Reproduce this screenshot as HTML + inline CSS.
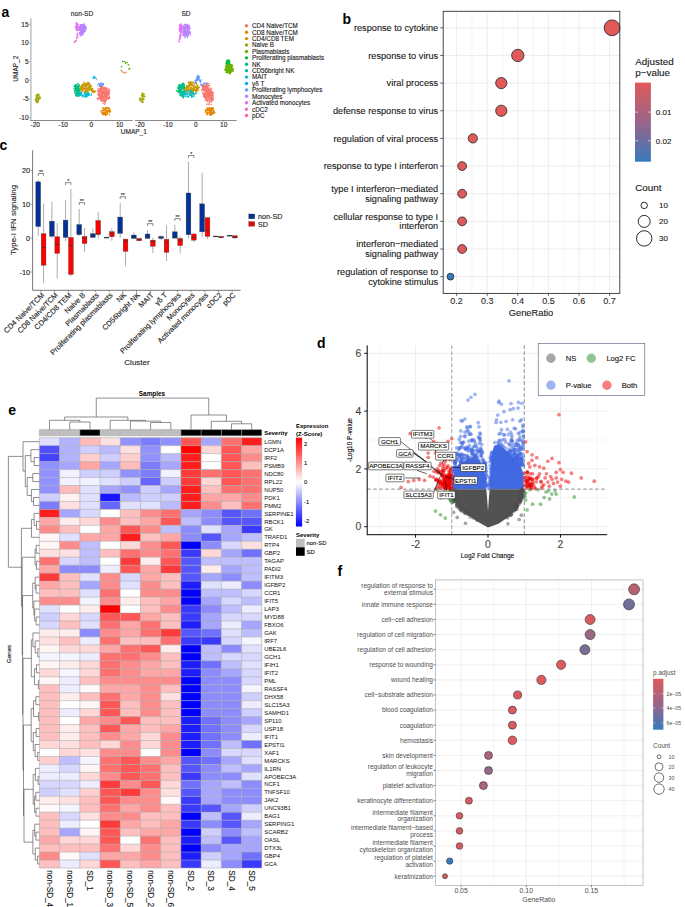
<!DOCTYPE html>
<html><head><meta charset="utf-8"><title>Figure</title>
<style>html,body{margin:0;padding:0;background:#fff;}svg{display:block;}text{stroke:#1a1a1a;stroke-width:0.12px;}text[font-weight=bold],text.ns{stroke:none;}</style></head>
<body><svg width="685" height="907" viewBox="0 0 685 907" font-family='"Liberation Sans", sans-serif'>
<rect width="685" height="907" fill="#fff"/>
<text x="1.5" y="17.2" font-size="14" font-weight="bold">a</text>
<line x1="30.9" y1="18.3" x2="30.9" y2="120.3" stroke="#C4C4C4" stroke-width="1.6"/>
<line x1="30.1" y1="120.5" x2="132.7" y2="120.5" stroke="#8A8A8A" stroke-width="1"/>
<line x1="134.9" y1="120.5" x2="236.7" y2="120.5" stroke="#8A8A8A" stroke-width="1"/>
<line x1="29.2" y1="24.2" x2="30.2" y2="24.2" stroke="#555" stroke-width="0.6"/>
<text x="28.6" y="26.5" font-size="6.5" text-anchor="end" fill="#222">15</text>
<line x1="29.2" y1="42.9" x2="30.2" y2="42.9" stroke="#555" stroke-width="0.6"/>
<text x="28.6" y="45.2" font-size="6.5" text-anchor="end" fill="#222">10</text>
<line x1="29.2" y1="61.6" x2="30.2" y2="61.6" stroke="#555" stroke-width="0.6"/>
<text x="28.6" y="63.9" font-size="6.5" text-anchor="end" fill="#222">5</text>
<line x1="29.2" y1="80.3" x2="30.2" y2="80.3" stroke="#555" stroke-width="0.6"/>
<text x="28.6" y="82.6" font-size="6.5" text-anchor="end" fill="#222">0</text>
<line x1="29.2" y1="99" x2="30.2" y2="99" stroke="#555" stroke-width="0.6"/>
<text x="28.6" y="101.3" font-size="6.5" text-anchor="end" fill="#222">-5</text>
<line x1="29.2" y1="117.7" x2="30.2" y2="117.7" stroke="#555" stroke-width="0.6"/>
<text x="28.6" y="120" font-size="6.5" text-anchor="end" fill="#222">-10</text>
<line x1="35.2" y1="120.6" x2="35.2" y2="121.6" stroke="#555" stroke-width="0.6"/>
<text x="35.2" y="127" font-size="6.5" text-anchor="middle" fill="#222">-20</text>
<line x1="63.3" y1="120.6" x2="63.3" y2="121.6" stroke="#555" stroke-width="0.6"/>
<text x="63.3" y="127" font-size="6.5" text-anchor="middle" fill="#222">-10</text>
<line x1="91.4" y1="120.6" x2="91.4" y2="121.6" stroke="#555" stroke-width="0.6"/>
<text x="91.4" y="127" font-size="6.5" text-anchor="middle" fill="#222">0</text>
<line x1="119.5" y1="120.6" x2="119.5" y2="121.6" stroke="#555" stroke-width="0.6"/>
<text x="119.5" y="127" font-size="6.5" text-anchor="middle" fill="#222">10</text>
<line x1="140" y1="120.6" x2="140" y2="121.6" stroke="#555" stroke-width="0.6"/>
<text x="140" y="127" font-size="6.5" text-anchor="middle" fill="#222">-20</text>
<line x1="167.9" y1="120.6" x2="167.9" y2="121.6" stroke="#555" stroke-width="0.6"/>
<text x="167.9" y="127" font-size="6.5" text-anchor="middle" fill="#222">-10</text>
<line x1="195.8" y1="120.6" x2="195.8" y2="121.6" stroke="#555" stroke-width="0.6"/>
<text x="195.8" y="127" font-size="6.5" text-anchor="middle" fill="#222">0</text>
<line x1="223.7" y1="120.6" x2="223.7" y2="121.6" stroke="#555" stroke-width="0.6"/>
<text x="223.7" y="127" font-size="6.5" text-anchor="middle" fill="#222">10</text>
<text x="133.8" y="134.3" font-size="6.5" text-anchor="middle" fill="#222">UMAP_1</text>
<text transform="translate(17.6,68.7) rotate(-90)" font-size="6.5" text-anchor="middle" fill="#222">UMAP_2</text>
<text x="82" y="15.8" font-size="6.6" text-anchor="middle" fill="#222">non-SD</text>
<text x="186" y="15.8" font-size="6.6" text-anchor="middle" fill="#222">SD</text>
<path d="M84.74 29.68h0M80.49 31.18h0M81.79 28.91h0M83.44 29.11h0M83.03 31.34h0M85.29 27.46h0M84.64 29.2h0M81.56 33.13h0M83.23 26.89h0M81.09 27.54h0M85.11 29.68h0M82.88 29.62h0M80.16 26.85h0M81.78 31.38h0M79.66 26.82h0M84.38 26.49h0M84.8 30.78h0M82.75 24.82h0M81.9 27.09h0M79.61 26.83h0M79.86 26.41h0M79.34 29.54h0M80.58 24.69h0M82.33 27.54h0M81.79 32.63h0M81.46 26.19h0M82.99 28.9h0M82.71 27.44h0M83.55 27.38h0M81.45 28.93h0M84.75 25.7h0M81.13 29.48h0M84.23 31.06h0M82.74 29.93h0M82.48 30.24h0M82.38 28.64h0M81.99 26.73h0M80.83 26.67h0M83.33 24.18h0M83.74 24.33h0M81.09 26.58h0M83.49 28.96h0M84.34 29.17h0M82.64 28.56h0M83.44 27.54h0M84.41 31.26h0M83.88 29.91h0M86.42 28.31h0M84.57 30.17h0M82.39 31.02h0M85.94 27.3h0M84.31 31.04h0M85.78 28.01h0M81.4 24.64h0M82.85 26.43h0M83.13 25.25h0M84.85 28.26h0M84.07 23.97h0M79.2 28.07h0M84.64 28.92h0M82.38 27.84h0M78.76 29.99h0M79.45 32.56h0M82.85 30.45h0M84.03 27.33h0M78.59 29.09h0M80.94 25.51h0M83.3 24.68h0M83.34 25.16h0M83.3 26.12h0M85.8 27.24h0M84.27 31.95h0M83.14 26.85h0M83.41 26.73h0M79.23 27.3h0M83.84 28.63h0M85.73 26.93h0M84.13 26.7h0M81.66 32.35h0M80.86 27.31h0M84.14 27.39h0M80.35 29.19h0M85.38 26.71h0M80.15 27.94h0M83.87 31.71h0M82.67 28.24h0M81.4 28h0M80.38 28.21h0M79.94 27.3h0M82.3 30.5h0M82.78 25.31h0M79.22 29.92h0M81.7 25.8h0M80.11 27.9h0M84.8 26.06h0M82.39 32.39h0M84.85 31.47h0M81.46 28.99h0M82.1 27.48h0M85.41 26.1h0M83.5 29.77h0M85.49 27.82h0M80.62 28.68h0M84.41 24.92h0M81.9 29.77h0M81.86 30.33h0M79.14 30.04h0M82.34 29.01h0M85.46 28.2h0M85.91 27.83h0M82.82 27.14h0M84 30.18h0M82.44 31.82h0M83.73 27.79h0M85.24 29.63h0M79.93 30.03h0M82.98 27.23h0M83.24 27.59h0M82.03 29.52h0M84.88 27.22h0M82.76 30.94h0M83.33 29.84h0M82.3 29.44h0M81.7 32.49h0M85.4 28.86h0M84.68 28.73h0M79.62 29.04h0M85.41 31.01h0M84.12 25.57h0M80.08 28.38h0M84.33 25.06h0M80.53 25.81h0M84.22 30.45h0M82.54 27.32h0M83.67 26.63h0M80.83 24.83h0M80.64 29.08h0M81.04 29.13h0M80.15 27.66h0M84.29 28.08h0M81.05 30.11h0M79.97 28.45h0M82.45 30.4h0M81.68 29.26h0M82.69 29.46h0M79.7 27.89h0M84.74 26.2h0M81.68 30.5h0M79.99 24.78h0M83.07 27.61h0M83.78 25.26h0M81.39 28.29h0M83.98 25.49h0M84.45 26.83h0M85.59 29.17h0M81.78 29.61h0M81.68 27.42h0M81.5 25.82h0M82.56 24.85h0M79.96 27.83h0M82.55 32.62h0M82.49 29.76h0M85.98 27.91h0M80.25 30.92h0M80.81 26.67h0M84.79 29.81h0M82.11 30.05h0M86.02 28.8h0M82.27 27.53h0M81.67 32.53h0M84.34 30.32h0M83.76 32.47h0M78.89 29.61h0" stroke="#B983FF" stroke-width="1.5" stroke-linecap="round" fill="none"/>
<path d="M83.26 33.05h0M82.75 32.94h0M80.63 32.89h0M81.86 33.99h0M79.77 33.38h0M82.97 32.12h0M82.76 33.75h0M81.47 33.62h0M81.08 34.28h0M81.51 32.09h0M82.83 35.06h0M81.05 35.69h0M80.79 34.21h0M79.87 34.49h0M82.44 33.87h0M82.12 33.17h0M81.41 34.64h0M82.93 32.99h0M82.29 31.09h0M79.62 32.75h0M82.88 34.05h0M80.65 32.14h0M82.58 33.93h0M80.33 35.69h0" stroke="#B983FF" stroke-width="1.5" stroke-linecap="round" fill="none"/>
<path d="M76.93 24.11h0M76.51 30.21h0M75.89 28.66h0M77.57 25.55h0M77.23 29.46h0M78.1 29.81h0M77.59 27.44h0M76.95 29.01h0M77.96 24.44h0M75.78 26.03h0M76.45 28.72h0M77.27 27.17h0M75.98 23.8h0M77.01 30.29h0M75.96 27.42h0M78.77 27.11h0M76.94 25.94h0M78.28 26.5h0M77.92 25.36h0M77.02 30.85h0M77.22 27.31h0M76.82 23.99h0M77.09 24.13h0M77.21 23.94h0M77.67 25.58h0M76.99 29.65h0M76.57 23.3h0M76.47 25.75h0M77.17 29.11h0M75.68 27.34h0M76.03 23.39h0M77.03 29.93h0M76.55 22.69h0M76.54 24.25h0M76.95 29.14h0M78.38 27.25h0M76.22 27.57h0M76.9 22.98h0M77.38 29.78h0M77.17 30.08h0M77.06 24.24h0M77.38 28.77h0M76.37 27.4h0" stroke="#E76BF3" stroke-width="1.5" stroke-linecap="round" fill="none"/>
<path d="M77.82 36.91h0M77.5 33.37h0M77.24 34.28h0M76.21 40.82h0M76.78 37.5h0M77.33 36.68h0M74.49 42.28h0M77.22 35.13h0M77.71 35.01h0M75.03 41.37h0M76.65 37.78h0M76.58 38.75h0" stroke="#E76BF3" stroke-width="1.5" stroke-linecap="round" fill="none"/>
<path d="M74.8 42h0M75.2 41.3h0" stroke="#FF67A4" stroke-width="1.5" stroke-linecap="round" fill="none"/>
<path d="M121.27 70.43h0M127.13 62.73h0M125.39 63.16h0M128.93 69.06h0M129.77 68.6h0M129.37 69.13h0M128.76 65.06h0M124.86 72.95h0M125.88 62.23h0M128.15 64.72h0" stroke="#6BB100" stroke-width="1.5" stroke-linecap="round" fill="none"/>
<path d="M122.6 61.5h0M124.2 61.5h0M121.5 66.5h0" stroke="#00BA38" stroke-width="1.5" stroke-linecap="round" fill="none"/>
<path d="M122.5 71.8h0M126.2 72.2h0M123.3 72.5h0" stroke="#F8766D" stroke-width="1.5" stroke-linecap="round" fill="none"/>
<path d="M94.35 78.02h0M93.88 76.42h0M93.22 78.48h0M93.45 77.93h0M94.03 76.36h0M94.85 77.75h0M94.3 77.48h0M95.63 77.42h0" stroke="#00B0F6" stroke-width="1.5" stroke-linecap="round" fill="none"/>
<path d="M96.5 79.2h0" stroke="#F8766D" stroke-width="1.5" stroke-linecap="round" fill="none"/>
<path d="M75.58 89.73h0M74.68 91.54h0M76.69 87.31h0M79.02 84.71h0M76.47 95.65h0M75.35 93.76h0M77.38 95.44h0M78.32 87.86h0M79.6 89.48h0M77.59 94.79h0M79.12 92.47h0M77.95 86.87h0M76.48 95.61h0M77.7 91.75h0M75.63 93.21h0M74.86 91.34h0M78.65 91.85h0M76.01 87.25h0M77.71 92.48h0M75.93 87.69h0M76.09 94.37h0M78.36 94.7h0M75.49 88.55h0M78.08 90.87h0M78.72 91.55h0M76.89 87.35h0M79.22 88.52h0M75.5 88.08h0M78.82 89.63h0M78 93.85h0M79.53 86.47h0M78.2 85.83h0M78.47 93.58h0M76.96 89.47h0M75.38 85.93h0M75.41 89.59h0M78.36 88.61h0M76.1 89.85h0M79.47 94.19h0M80.32 88.75h0M75.17 93.38h0M74.89 85.08h0M77.86 96.17h0M78.66 85.7h0M74.86 93.31h0M75.45 93.06h0M78.2 88.32h0M76.58 89.1h0M79.81 94.36h0M74.82 88.06h0M75.2 87.26h0M76.04 85.72h0M75.77 86.82h0M77.51 94.27h0M78.53 94.96h0M78.8 92.12h0M76.28 90.49h0M79.56 90.9h0M77.82 83.73h0M79.66 91.4h0M78.47 92.45h0M80.87 89.52h0M80.11 89.04h0M79.31 88.56h0M80.37 86.79h0M76.73 91.28h0M76.8 96.06h0M79.48 95.3h0M77.1 94.62h0M76.38 93.73h0M77.88 89.2h0M79.52 86.21h0M75.99 89.18h0M75.77 93.47h0M79.18 86.22h0M78.28 89.61h0M77.1 93.97h0M74.11 86.28h0M78.16 93.24h0M79.59 91.16h0M80.17 89.11h0M75.82 84.71h0M78.39 92.72h0M75.01 91.81h0M77.64 94.54h0M79.76 90.4h0M77.2 89.95h0M75.93 88.09h0M74.76 90.52h0M78.56 88.63h0M76.25 87.17h0M77.93 83.5h0M76.06 86.45h0M75.86 93.71h0M77.1 85.88h0M78.74 87.67h0M77.35 90.9h0M77.44 88.19h0M77.46 90.11h0M76.29 88.04h0M78.2 93.25h0M76.84 92.55h0M77.12 88.08h0M77.42 89.33h0M75.17 91.03h0M78.55 91.68h0M77.3 86.24h0M78.84 85.11h0M74.85 91.81h0M74.06 88.73h0M77.57 92.34h0M79.56 90.14h0M78.86 88.55h0M75.76 95.65h0M79.7 86.49h0M76.34 84.49h0M78.88 84.62h0M78.94 85.54h0M76.57 93.62h0M76.41 87.94h0M78.23 90.02h0M78.21 88.82h0M79.15 90.71h0M75.48 85.58h0" stroke="#00BF7D" stroke-width="1.5" stroke-linecap="round" fill="none"/>
<path d="M81.93 85.04h0M87.38 84.61h0M89.66 83.7h0M91.06 85.75h0M87.88 87.89h0M88.14 82.55h0M84.84 92.09h0M87.27 88.35h0M81.39 89.77h0M85.96 88.38h0M84.71 90.07h0M80.95 87.39h0M81.53 90.08h0M86.54 83.98h0M86.68 90.53h0M89.88 89.87h0M87.56 92.27h0M91.04 86.83h0M86.1 87.2h0M83.49 87.58h0M89.35 86.33h0M86.62 90.13h0M83.01 84.22h0M86.39 85.98h0M82.9 91.26h0M83.58 89.29h0M92.57 88.49h0M85.75 90.31h0M89.63 84.43h0M83.28 88.15h0M83.42 84.29h0M84.73 89.8h0M85.87 85.12h0M84.11 88.22h0M81.32 88.58h0M86.4 92.51h0M87.33 85.62h0M87.5 89.61h0M87.43 89.66h0M87.4 90.8h0M91.53 86.24h0M84.7 88.6h0M80.43 89.79h0M84.65 85.99h0M87.91 87.89h0M87.04 83.76h0M82.1 88.37h0M84.26 86.24h0M82.71 88.97h0M85.98 84.42h0M88.82 84.99h0M84.13 82.02h0M81.25 88.84h0M84.1 85.62h0M85.66 86.13h0M86 92.31h0M83.33 89.12h0M90.52 85.49h0M84.32 88.84h0M89.32 86.99h0M86.21 86.52h0M80.52 86.87h0M85.67 86.02h0M83.52 84.68h0M90.39 86.09h0M84.95 85.23h0M89.63 87.16h0M89.04 88.57h0M83.39 88.89h0M84.78 84.08h0M85.82 84.27h0M79.99 86.52h0M86.67 90.1h0M86.31 85.77h0M81.61 85.79h0M88.42 86.97h0M87.19 84.94h0M85.09 90.5h0M82.95 91.24h0M85.32 93.35h0M87.39 90.59h0M85.94 87.18h0M82.94 87.87h0M83.28 84.49h0M88.36 84.6h0M86.79 86.1h0M88.74 82.87h0M90.3 87.88h0M86 88.19h0M87.09 88.8h0M87.64 89.72h0M87.27 83h0M86.52 85.01h0M89.34 85.01h0M84.11 82.74h0M85.8 83.77h0M85.61 91.54h0M87.61 89.33h0M88.82 90.93h0M81.74 87.55h0M88.32 84.07h0M82.37 86.07h0M81.61 89.83h0M90.56 89.72h0M82.49 84.76h0M90.26 85.65h0M82.21 87.85h0M91.28 88.58h0M88.93 84.21h0M82.8 87.99h0M82.1 89.1h0M82.74 86.41h0M81.92 90.17h0M85.32 92.21h0M87.26 83.07h0M84.67 90.31h0M86.58 84.99h0M85.82 86.51h0M84.36 92.24h0M86.17 87.9h0M87.17 83.08h0M82.24 84.49h0M82.74 85.36h0M86.97 91.33h0M89.06 89.65h0M88.53 88.07h0M82.01 91.59h0M87.09 83.08h0M82.19 89.44h0M82.73 88.94h0M81.61 85.62h0M86.83 88.23h0M82.25 88.74h0M85.54 87.87h0M80.22 88.35h0M88.6 89.34h0" stroke="#C99800" stroke-width="1.5" stroke-linecap="round" fill="none"/>
<path d="M91.35 90.42h0M89.06 88.22h0M91.88 90.87h0M94.37 92.22h0M94.76 92.25h0M95.23 91.59h0M93.25 90.47h0M94.42 91.08h0M91.97 91.46h0M92.96 92.47h0M93.73 92.28h0M91.57 89.77h0M93 89.96h0M94.18 90.94h0M93 89.91h0M95.2 91.18h0M93.34 91.59h0M91.88 89.69h0M94.84 91.25h0M92.47 91.72h0" stroke="#C99800" stroke-width="1.5" stroke-linecap="round" fill="none"/>
<path d="M80.91 95.22h0M81.63 93.4h0M78.39 93.16h0M77.37 93.5h0M78.33 94.57h0M79.13 91.39h0M77.57 94.99h0M81.45 92.52h0M77.43 92.96h0M78.37 94.96h0M79.47 94.05h0M78.43 95.74h0M81.03 94.5h0M78.9 95.85h0M80.53 92.21h0M80.77 92.83h0M77.66 93.93h0M79.24 94.1h0" stroke="#00C0AF" stroke-width="1.5" stroke-linecap="round" fill="none"/>
<path d="M86.31 95.04h0M87.6 93.81h0M89.12 93.98h0M87.91 95.55h0M87.78 95.9h0M82.93 96.64h0M91.03 95.35h0M84.51 93.25h0M88.52 93.23h0M88.74 94.03h0M86.06 97.17h0M87.11 94.41h0M82.38 96.27h0M84.88 93.3h0M88.34 95.3h0M89.31 95.1h0M85.14 92.33h0M79.74 95.07h0M86.08 95.58h0M81.21 93.58h0M83.04 95.95h0M83.22 95.82h0M87.94 94.15h0M79.71 95.33h0M88.31 92.6h0M84.39 94.34h0M88.92 94.39h0M82.18 96.11h0M85.02 95.24h0M87.9 95.76h0M86.85 96.09h0M89 93.49h0M85.58 96.65h0M84.58 94.6h0M88.02 95.73h0M81.95 94.98h0M85.94 93.98h0M80.39 93.89h0M91.48 94.3h0M85.19 96.74h0M83.03 95.45h0M86.79 93.78h0M79.57 95.81h0M80.82 94.66h0M84.56 96.6h0M87.93 95.08h0M87.53 93.43h0M86.05 96.8h0M87.03 94.23h0" stroke="#00BCD8" stroke-width="1.5" stroke-linecap="round" fill="none"/>
<path d="M100.78 83.23h0M99.5 84.19h0M100 86.12h0M100.77 84.81h0M97.81 84.77h0M102.42 84.54h0M99.59 85.45h0M100.63 87.35h0M103.48 84.82h0M100.99 84.66h0M102.17 84.5h0M100.72 87.6h0M103.37 83.8h0M103.26 83.6h0M101.87 85.72h0M101.55 83.12h0M100.65 85.89h0M100.24 85.63h0M102.91 84.53h0M100.56 85.39h0M98.75 83.48h0M99.22 86.33h0M101.11 85.75h0M100.71 83.94h0" stroke="#619CFF" stroke-width="1.5" stroke-linecap="round" fill="none"/>
<path d="M104.94 96h0M104.17 100.68h0M98.58 95.64h0M100.76 90.53h0M99.2 90.6h0M109.37 96.68h0M100.15 97.07h0M98.44 91.6h0M101.35 99.48h0M105.54 97.65h0M100.43 98.99h0M107.84 98.64h0M102.21 97.09h0M101.06 95.76h0M107.01 94.13h0M108.84 93.07h0M104.31 92.95h0M99.52 89.25h0M108.38 95.6h0M103.57 96.64h0M104.35 95.2h0M107.01 93.04h0M108.42 89.81h0M102.12 94.82h0M106.23 91.15h0M102.92 87.57h0M102.22 100.28h0M100.33 97.45h0M100.57 98.05h0M105.74 87.98h0M102.78 95.51h0M101.91 95.59h0M106.24 99.86h0M102.68 101.21h0M104.74 101.83h0M102.06 92.91h0M101.35 90.37h0M103.78 88.44h0M107.43 93.87h0M100.61 88.13h0M104.05 96.78h0M107.25 97.41h0M109.61 90.14h0M99.31 88.71h0M98.21 98.07h0M104.69 95.63h0M107.62 93.97h0M101.57 92.05h0M104.54 92.33h0M100.37 99.11h0M99.28 90.75h0M109.37 93.73h0M102.21 98.7h0M100.01 98.25h0M104.54 91.3h0M103.59 99.26h0M106.77 93.47h0M103.15 101.56h0M101.61 100.99h0M99.48 96.2h0M102.47 86.31h0M101.64 89.89h0M107.6 94.54h0M101.75 94.19h0M108.45 91.21h0M101.32 96.01h0M108.29 89.8h0M107.09 97.16h0M101.37 96.97h0M102.48 92.52h0M101.41 97.88h0M100.63 90.53h0M105.18 89.26h0M106.28 95.6h0M106.77 97.47h0M101.94 89.54h0M103.95 94.21h0M100.28 97.07h0M105.17 94.41h0M102.34 93.62h0M108.82 89.08h0M99.66 90.79h0M100.9 93.84h0M107.79 92.37h0M99.11 95.29h0M101.69 89.38h0M105.83 97.99h0M101.32 91.53h0M109.01 91.86h0M105.04 94.45h0M100.73 96.71h0M103.81 101.08h0M105 97.26h0M106.61 89.85h0M99.71 96.75h0M106.96 96.17h0M101.59 89.85h0M102.39 89.14h0M104.07 93.31h0M105.33 94.31h0M98.3 98.98h0M101.72 97.64h0M109.27 92.41h0M99.94 97.83h0M101.22 98.16h0M104.78 89.5h0M105.54 96.99h0M101.34 93.29h0M104.51 89.5h0M101.03 96.17h0M98.84 91.09h0M105.36 91.24h0M108.22 91.95h0M108.92 93.77h0M99.94 97.12h0M101.19 88.63h0M104.68 92.09h0M102.34 87.79h0M105.68 94.46h0M103.96 100.11h0M105.08 92.53h0M103.5 91.85h0M102.93 91.29h0M102 95.47h0M105.91 89.63h0M105.83 90.73h0M105.75 99.98h0M106.56 91.27h0M103.17 93.25h0M107.33 90.97h0M102.9 96.5h0M102.07 90.88h0M100.5 91.32h0M103.1 89.21h0M100.46 90.38h0M97.86 94.29h0M107.26 91.82h0M106.3 97.22h0M100.75 89.4h0M101.22 86.63h0M101.12 88.16h0M102.78 95.3h0M97.29 98.49h0M104.54 101.71h0M100.78 98.68h0M97.98 94.07h0M106.23 88.65h0M104.5 98.94h0M106.27 89.13h0M108.22 92.37h0M98.13 91.68h0M103.65 97.7h0M107.03 93.16h0M101.79 91.92h0M102.47 91.5h0M106.92 94.36h0M106.93 98.99h0M102.12 88.45h0M103.66 99.66h0M108.41 91.82h0M106.52 99.81h0M105.17 101.91h0M108 94.64h0M101.61 100.43h0M102.6 96.72h0M97.5 90.84h0M99.93 92.59h0M102.52 94.3h0M100.59 100.3h0M108.45 92.47h0M104.47 88.12h0M102.64 98.26h0M102.79 88.05h0M103.32 88.02h0M102.65 94.91h0M101.55 93.83h0M100.42 86.17h0M101.96 92.61h0M101.34 90.84h0M106.67 91.99h0M103.27 101.6h0M104.93 93.18h0M97.63 99.13h0M103.23 92.46h0M97.85 89.08h0M106.74 99.04h0M99.1 97.96h0M104.71 102.17h0M106.7 95.02h0M106.63 99.19h0M104.77 94.81h0M108.79 94.57h0M106.03 100.67h0M105.15 88.15h0M98.72 91.61h0M100.11 96.15h0M100.33 90.4h0M105.24 95.47h0M102.36 86.82h0M100.52 96.11h0M101.58 90.86h0M101.72 91.9h0M104.27 100.33h0M98.83 91.16h0M107.45 92.35h0M103.14 98.79h0M106.67 93.4h0M104.86 91.28h0M105.15 99.38h0M98.61 95.78h0M102.03 89.36h0M106.98 88.28h0M104.86 88.74h0M104.43 92.17h0M99.19 88.93h0M101.34 88.26h0M107.83 93.09h0M101.6 96.45h0M99.34 97.61h0M104.93 93.66h0M106.6 97.91h0M105.78 93.99h0M105.43 96.39h0M106.07 89.14h0M102.87 86.79h0M102.74 94.13h0M100.36 98.89h0M100.61 98.57h0M100.86 91.85h0M102.65 95.4h0M108.27 95h0M98.47 94.66h0M103.3 96.42h0M101.98 91.05h0M99.07 90.91h0M102.96 98.74h0M107.47 94.98h0M108.63 95.49h0M108.52 97.38h0M105.82 89.7h0M101.53 88.1h0M99.11 93.64h0M98.64 93.15h0M104.33 98.79h0M102.5 86.55h0M102.38 97.11h0M99.63 94.68h0M101.11 91.91h0M102.52 86.76h0M105.67 94.05h0M99.99 92.12h0M107.97 90.89h0M108.96 98.85h0M105.33 95.9h0M104.98 87.23h0M106.17 95.85h0M100.3 100.06h0M106.15 90.74h0M100.94 99.35h0M104.33 88.69h0M106.1 91.6h0M105.05 101.22h0M100.63 87.9h0M106.38 92.47h0M106.71 99.35h0M100.56 88.79h0M109.71 98.05h0M102.37 97.77h0M100.05 95.04h0M108.41 90.92h0M101.43 99.38h0M103.56 90.64h0M103.77 99.65h0M104.17 93.44h0M99.98 94.15h0M104.75 95.94h0M104.67 94.98h0M108.05 94.38h0M101.56 91.38h0" stroke="#F8766D" stroke-width="1.5" stroke-linecap="round" fill="none"/>
<path d="M103 103.5h0M104.5 104.2h0M105 103h0" stroke="#F8766D" stroke-width="1.5" stroke-linecap="round" fill="none"/>
<path d="M105.56 111.86h0M110.04 112.08h0M107 113.57h0M106.83 108.17h0M106.92 111.32h0M108.09 110.56h0M103.17 107.83h0M103.59 112.62h0M109.7 111.83h0M103.89 111.07h0M103.66 114.37h0M108.49 108.59h0M106.06 113.29h0M107.15 108.41h0M103.69 108.63h0M104.87 108.3h0M105.34 114.21h0M103.45 110.56h0M106.73 112.61h0M103.79 112.75h0M109.5 114.73h0M106.67 114.18h0M105.49 107.74h0M109.22 108.03h0M103.27 114.61h0M102.77 112.49h0M109.4 108.99h0M106.63 114.6h0M110.47 111.82h0M109.36 109.4h0M103.31 113.7h0M102.55 114.41h0M109.49 111.85h0M105.99 114.85h0M105.35 113.72h0M101.11 111.44h0M110.02 109.66h0M109.08 110.49h0M107.44 111.44h0M105.81 115.51h0M106.26 113.17h0M105.97 110.64h0M106.42 107.58h0M103.17 112.47h0M106.47 109.67h0M107.19 110.61h0M104.87 112.57h0M101.49 112.31h0M104.57 109.46h0M104.22 113.87h0M103.04 108.75h0M106.15 111.77h0M105.41 108.72h0M106.51 110.88h0M107.18 111.16h0M109.69 111.46h0M104.09 110.93h0M101.58 110.65h0M110.04 110.66h0M109.84 110.73h0M108.28 111.62h0M108.27 110.9h0M108.09 110.73h0M104.67 113.45h0M105.4 112.08h0M108.76 111.28h0M102.09 110.51h0M107.62 113.78h0M109.45 108.86h0M106.01 114.25h0M105.33 107.91h0M107.82 107.73h0M109.9 112.22h0M102.36 113.55h0M104.23 108.81h0M103.44 110.23h0M104.24 113.62h0M103.64 113.3h0M103.13 114.6h0M106.66 111.28h0M107.64 112.23h0M104.13 108.79h0M108.16 107.97h0M103.62 114.28h0M107.64 112.15h0M103.74 113.61h0M104.81 109.62h0M104.78 109.87h0M104.46 109.63h0M104.07 114.73h0M103.32 112.87h0M103.39 113.65h0M104.99 113.62h0" stroke="#E58700" stroke-width="1.5" stroke-linecap="round" fill="none"/>
<path d="M36.84 101.69h0M37.38 96.27h0M37.97 102.29h0M35.95 98.2h0M36.99 95.24h0M36.41 96.71h0M37.77 98.43h0M39.65 96.82h0M37.1 101.09h0M38.64 100.01h0M38.69 98.02h0M38.08 95.52h0M38.71 99.08h0M36.61 94.95h0M37.39 100.73h0M40.34 98.08h0M36.17 95.42h0M38.23 99.05h0M35.78 100.49h0M38.97 94.86h0M37.25 97.58h0M40.01 98.6h0M38.45 99.18h0M39.43 98.85h0M37.68 100.97h0M36.19 101.56h0M36.3 98.75h0M38.53 98.61h0M39.14 96.01h0M37.72 100.05h0M39.21 96.2h0M38.34 101.32h0M38.75 99.27h0M39.67 98.24h0M36.86 97.54h0M37.52 94.77h0M36.37 99.83h0M36.93 102.72h0M36.37 99.13h0M37.56 101.79h0M39.99 96.94h0M39.83 96.99h0M36.41 98.77h0M39.54 98.86h0M38.35 98.08h0M35.29 99.66h0M37.63 100.52h0M38.39 93.9h0M37.69 100.31h0" stroke="#A3A500" stroke-width="1.5" stroke-linecap="round" fill="none"/>
<path d="M187.29 32.91h0M187.58 25.28h0M185.7 25.18h0M186.34 33.37h0M182.28 29.5h0M186.24 28.67h0M186.99 35.31h0M187.28 31.31h0M183.82 31.91h0M187.66 28.05h0M181.72 32.9h0M188.91 26.41h0M184.61 35.9h0M184.22 29.88h0M186.29 34.24h0M184.04 36.11h0M185.42 28.36h0M187.39 33.47h0M187.76 31.34h0M184.38 27.08h0M187.7 31.93h0M188.75 31.15h0M187.47 37.39h0M185.35 33.44h0M182.61 31.63h0M186.34 25.41h0M182.59 27.94h0M187.36 30.72h0M186.99 33.42h0M183.14 31.2h0M187.22 27.53h0M185.3 24.59h0M187.6 34.47h0M188.59 31.57h0M185.74 29.59h0M187.42 27.28h0M185.23 32.07h0M188.49 33.02h0M185.91 31.08h0M187.48 32.42h0M183.76 29.83h0M186.07 34.75h0M189.51 29.01h0M183.69 29.47h0M180.93 29.05h0M187.63 32.32h0M185.47 28.24h0M185.91 27.46h0M187.47 30.67h0M183.5 27.06h0M185.27 28.93h0M186.08 33.7h0M187.34 26.62h0M185.38 32.19h0M186.67 32.62h0M188.57 32.9h0M184.49 35.61h0M186.95 24.76h0M185.18 30.61h0M186.51 28.29h0M184.33 24.95h0M190.36 33.56h0M185.76 30.64h0M188.29 32.26h0M190.06 32.65h0M183.48 33h0M187.38 24.89h0M186.42 26.24h0M184.98 35.05h0M184.8 31.08h0M183.08 34.43h0M189.11 28.81h0M184.2 26.79h0M188.73 32.53h0M188.44 25.61h0M184.48 29.33h0M189.43 28.46h0M189.59 32.42h0M186.48 26.09h0M183.89 33.64h0M187.17 24.34h0M189.56 27.11h0M183.74 28.17h0M189.47 25.82h0M187.73 34h0M189.04 33.26h0M184.59 34.15h0M187.73 36.81h0M186.19 36.14h0M184.42 28.32h0M184.5 34.55h0M186.8 32.77h0M188.84 29.64h0M185.19 33.28h0M188.73 25.66h0M183.12 34.16h0M186.01 31.35h0M184.22 26.74h0M185.68 25.94h0M184.64 27.28h0M184.57 31.92h0M184.57 34.45h0M185.43 27.5h0M189.79 28.41h0M181.3 30.99h0M189.96 31.36h0M182.84 35.2h0M183.6 30.42h0M187.49 29.96h0M188.86 30.89h0M189.75 27.59h0M189.45 30.63h0M185.07 29.3h0M186.26 28.07h0M186.55 31.17h0M183.3 25.94h0M188.88 27.75h0M187.26 27.51h0M188.84 27.42h0M186.74 27.81h0M185.56 29.29h0M181.84 26.98h0M184.43 24.48h0M187.62 28.77h0M183.97 32.78h0M184.05 34.07h0M188.01 33.21h0M183.3 26.85h0M188.34 27.95h0M185.82 32.11h0M183.54 32.93h0M185.22 31.62h0M187.87 26.99h0M184.31 31.51h0M185.86 31.25h0M183.86 34.5h0M190.34 35.11h0M187.38 26.91h0M187.94 35.56h0M185.77 28.7h0M188.3 25.5h0M188.3 25.32h0M187.68 27.91h0M188.36 35.07h0M185.29 34.9h0M185.02 27.53h0M182.1 27.84h0M184 32.02h0M185.13 28.02h0M188.21 34.27h0M187.58 33.01h0M188.17 31.38h0M184.86 37.69h0M188.44 27.14h0M186.43 26.04h0" stroke="#B983FF" stroke-width="1.5" stroke-linecap="round" fill="none"/>
<path d="M179.57 28.11h0M179.79 31.43h0M181.41 26.1h0M180.95 29.37h0M180.9 32.99h0M179.57 28.23h0M179.51 26.08h0M179.3 29.16h0M180.31 31.61h0M180.81 33.57h0M181.06 25.17h0M180.39 25.44h0M180.92 30.26h0M181.88 27.1h0M181.34 29.79h0M180.27 28.97h0M181.67 25.15h0M180.43 27.46h0M180.08 26.23h0M181.19 26.53h0M181.09 32.28h0M180.67 24.33h0M180.95 27.47h0M180.59 27.66h0M180.92 31.48h0M180.91 24.02h0M180.59 27.64h0M179.46 30.36h0M179.73 24.85h0M179.83 25.76h0M180.16 31.49h0M180.23 25.22h0M181.67 28.94h0M181.41 25.1h0M181.2 26.58h0M180.12 31.63h0M182.08 27.59h0" stroke="#E76BF3" stroke-width="1.5" stroke-linecap="round" fill="none"/>
<path d="M179.76 38.73h0M180.91 36.19h0M179.55 41.8h0M180.57 35.11h0M180.59 34.56h0M180.83 33.36h0M180.56 38.05h0M179.06 41.51h0M179.67 37.84h0M179.77 36.27h0M179.84 39.07h0M180.17 38.49h0M178.93 40.08h0M179.86 34.83h0" stroke="#E76BF3" stroke-width="1.5" stroke-linecap="round" fill="none"/>
<path d="M232.03 65h0M231.19 70.59h0M229.95 65.4h0M233.45 68.46h0M228.98 64.56h0M229.34 71.98h0M225.47 69.3h0M231.58 67.15h0M225.5 66.6h0M226.69 70.19h0M229.88 68.06h0M231.85 65.28h0M228.19 67.17h0M226.67 68.1h0M232.08 70.05h0M228.72 67.49h0M229.46 67.1h0M228.45 64.99h0M227.8 65.08h0M229.9 71.6h0M229.54 69.91h0M228.9 64.15h0M232.47 70.76h0M227.96 65.12h0M230.4 68.15h0M228.98 70.15h0M227.3 67.07h0M230.14 71.37h0M229.34 66.66h0M227.74 69.9h0M230.3 73.78h0M229.24 64.26h0M229.05 66.84h0M231.38 71.39h0M226.36 65.02h0M229.13 70.9h0M230.72 68.64h0M230.2 70.34h0M227.34 68.69h0M229.26 64.58h0M232.31 68.62h0M227.31 71.98h0M231.74 68.33h0M229.49 73.44h0M231.63 68.99h0M225.8 70.47h0M226.83 69.1h0M230.98 69.08h0M232.19 66.58h0M229.8 63.8h0M229.3 64.53h0M228.42 64.02h0M226.75 65.75h0M231.08 72.36h0M227.13 72.28h0M232.87 71.28h0M227.34 64.84h0M231.08 71.22h0M230.23 68.99h0M225.7 67.3h0M228.99 66.78h0M225.76 68.02h0M232.58 65.23h0M227.71 69.75h0M232.01 64.92h0M224.45 69.8h0M229.7 65.44h0M229.57 70.06h0M230.42 66.07h0M230.24 69.12h0M228.93 72.47h0M228.43 68.41h0M232.57 70.93h0M232.12 69.8h0M231.14 67.27h0M226.26 67.3h0M228.2 69.62h0M228.23 66.31h0M229.47 63.36h0M232.85 69.17h0M231.44 64.6h0M230.53 66.97h0M227.65 70.18h0M228.72 71.29h0M226.76 67.2h0M226.87 70.29h0M226.13 70.23h0M229.51 69.31h0M228.2 70.31h0M228.21 68.23h0M232.08 68.3h0M226.01 72.23h0M228.27 68.14h0M228.02 71.62h0M230.24 67.84h0M231.64 71.62h0M228.54 72.54h0M232.3 70.07h0M226.16 68.07h0M230.41 64.58h0M232.5 69.15h0M229.59 64.89h0M226.54 71.14h0M227.41 72.91h0M228.67 67.38h0M232.07 68.65h0M230.76 65.62h0M231.04 67.94h0M230.31 72.5h0M230.32 68.52h0M230.56 69.04h0M230.83 65.61h0M231.95 65.99h0M227.6 68.68h0M231.44 67.85h0M232.29 69.08h0M227.92 67.56h0M229.48 73.1h0M225.98 65.11h0M226.09 67.09h0M228.83 71.34h0M231.72 66.31h0M229.29 62.96h0M227.64 69.33h0M229.18 69.84h0M229.61 71.31h0M228.84 66.43h0M228.42 68.72h0M233.3 70.73h0M230.69 71.97h0M228.69 70.25h0M228.26 64.18h0M226.6 67.67h0M226.84 71.45h0M227.07 66.56h0M227.78 69.92h0" stroke="#6BB100" stroke-width="1.5" stroke-linecap="round" fill="none"/>
<path d="M225.97 63.25h0M227.81 64.05h0M227.13 60.21h0M227.46 62.86h0M228.02 60.11h0M229.54 60.58h0M229.12 61.82h0M228.69 61.85h0M227.87 60.46h0M227.56 60.66h0M229.05 61.98h0M229.12 60.78h0M227.5 61.63h0M226.27 62.33h0M227.16 63.13h0M227.08 63.99h0M228.24 60.18h0M228.71 62.77h0M228.36 63.61h0M226.9 61.31h0M226.98 60.7h0M228.81 62.41h0M229.12 62.38h0M226.55 61.03h0M228.29 60.69h0M229.53 63.02h0M228.78 61.34h0M228.07 64.07h0M228.01 62.34h0M229.22 62.69h0M228.73 61.13h0M229.2 61.33h0M228.92 62.36h0M229.36 63.67h0M229.05 63.48h0M229.73 61.87h0M226.23 62.92h0" stroke="#00BA38" stroke-width="1.5" stroke-linecap="round" fill="none"/>
<path d="M143.18 98.42h0M143.36 99.51h0M142.87 96.11h0M141.64 96.01h0M139.75 98.35h0M141.82 102.13h0M139.74 98.77h0M140.67 100.98h0M142.04 99.17h0M142.27 97.31h0M142.16 101.19h0M143.73 96.5h0M142.86 98.81h0M142.12 95.15h0M143.91 93.69h0M142.97 95.3h0M141.3 100.54h0M141.65 95.76h0M143.38 98.75h0M143.62 96.09h0M140.47 98.16h0M141.52 95.55h0M143.51 99.75h0M143.96 95.18h0M139.69 99.89h0M142.6 94.71h0M143.28 99.08h0M143.18 102.28h0M145 96.69h0M144.1 99.36h0M144.17 94.86h0M142.74 101.13h0M142.62 93.41h0M141.87 93.1h0M142.35 94.31h0M140.65 99.39h0M141.16 99.18h0" stroke="#A3A500" stroke-width="1.5" stroke-linecap="round" fill="none"/>
<path d="M184.43 86.2h0M179.57 88.67h0M181.52 87.4h0M182.12 93.82h0M180.39 91.98h0M182.13 87.55h0M184.34 85.05h0M182.64 85.65h0M181.63 89.16h0M178.97 85.56h0M180.93 86.58h0M184.08 91.49h0M181.81 89.93h0M183.92 90.95h0M181.46 91.32h0M185.27 87.99h0M181.39 93.37h0M185.27 90.49h0M178.85 87.66h0M183.01 85.22h0M183.64 96.04h0M181.23 92.71h0M180.88 94.32h0M181.31 86.33h0M183.65 96.2h0M182.17 85.81h0M177.5 87.92h0M182.74 84.09h0M177.27 91.52h0M181.78 85.49h0M185.04 92.44h0M182.7 88.62h0M178.7 85.17h0M184.45 91.61h0M178.46 90.87h0M180.38 87.01h0M179.93 94.88h0M181.57 84h0M184.44 89.93h0M184.88 92.5h0M182.29 95.92h0M180.05 89.15h0M179.96 85.22h0M179.52 90.99h0M184.93 89.96h0M181.37 92.89h0M182.56 85.24h0M184.48 91.8h0M183.33 94.14h0M184.36 92.38h0M179.73 89.64h0M176.7 90.5h0M178.48 85.45h0M183 86.24h0M179.59 84.66h0M184.63 94.29h0M178.75 89.83h0M184.03 84.66h0M178.66 91.34h0M182.12 92.43h0M182.77 91.98h0M179.21 86.48h0M183.64 91.15h0M183.1 83.31h0M177.82 88.26h0M182.77 86.47h0M183.86 89.45h0M184.91 94.54h0M183.07 86.26h0M179.38 89.71h0M184.09 85.6h0M178.35 87.61h0M182.31 94.21h0M179.23 92.96h0M184.25 85.34h0M179.66 91.61h0M183.04 92.74h0M183.72 93.37h0M182 87.02h0M178.51 91h0M180.03 89.82h0M182.09 94.78h0M183.6 92.33h0M180.04 95.23h0M178.31 91.37h0M178.89 88.4h0M180.98 89.92h0M180.56 85.46h0M179.72 84.78h0M185.01 90.14h0M179.53 92.97h0M180.05 88.51h0M180.03 88.94h0M181.15 95.07h0M180.44 87.84h0M179.14 91.84h0M179.9 88.93h0M180.23 95.45h0M178.69 85.46h0M183.74 85.69h0M181.99 89.16h0M184.75 90.39h0M185.1 87.66h0M184.22 92.21h0M181.13 92.91h0M180.23 91.17h0M183.14 91.89h0M180.46 89.22h0M183.83 84.14h0M181.07 90.03h0M181.08 85.15h0M183.05 92.25h0M184.01 90.98h0M181.01 86.15h0M182.29 92.53h0M184 88.49h0M180.87 93.2h0M179.06 91.7h0M184.38 86.69h0M183.07 88.2h0M178.93 91.81h0M184.03 87.33h0M184.42 90.4h0M184.17 90.61h0M183.52 94.05h0M181.97 88.7h0M183.07 93.37h0M178.65 89.99h0M183.72 84.97h0M181.33 87.09h0M181.06 92.26h0M179.15 87.42h0M183.39 97.22h0M182.95 98.11h0M179.04 87.32h0M180.42 86.95h0M179.1 87.62h0M184.27 88.64h0M183.75 83.59h0M181.05 90.64h0M180.78 89.91h0M185.24 90.17h0M184.1 86h0M178.77 92.31h0M178.26 92.08h0M184 90.89h0M181.62 96.21h0M182.79 96.11h0M182.08 85.83h0M179.85 85.41h0M181.02 86.89h0M184.69 88.63h0M181.54 91.59h0M183.42 86.74h0M184 84.75h0" stroke="#00BF7D" stroke-width="1.5" stroke-linecap="round" fill="none"/>
<path d="M191.62 93.2h0M196.23 89.88h0M196.67 84.14h0M194.28 88.9h0M193.73 85.42h0M192.31 82.26h0M194.83 83.83h0M192.68 91.28h0M193.3 94.62h0M195.8 87.73h0M195.95 87.66h0M193.51 87.53h0M188.9 89.37h0M188.49 90.55h0M186.17 88.41h0M186.79 87.21h0M190.9 89.89h0M184.09 89.14h0M186.58 85.82h0M191.3 88.94h0M195.4 89.82h0M186.64 87.84h0M189.83 91.22h0M189.6 92.4h0M197.41 86.49h0M195.75 86.46h0M185.32 88.51h0M188.23 82.25h0M193.42 90.84h0M191.27 85.35h0M186.44 90.45h0M190.11 85.11h0M192.52 93.41h0M192.8 89.67h0M189.22 83.54h0M191.28 91.05h0M189.7 82.44h0M187.63 87h0M188.92 86.47h0M193.83 94.1h0M190 86.76h0M186.73 91.89h0M198.54 88.77h0M194.49 83.83h0M186.2 87.34h0M196.59 88.49h0M190.56 88.41h0M188.91 90.84h0M194.4 86.63h0M194.3 90.62h0M192.66 85.9h0M193.92 88.95h0M186.5 88.92h0M195.8 91.83h0M198.14 87.99h0M194.93 83.47h0M186.36 90.14h0M198.35 87.54h0M193.67 87.69h0M193.38 91.38h0M192.57 84.53h0M192.17 82.64h0M192.36 86.1h0M187.86 89.44h0M196.95 91.2h0M186.26 87.87h0M191.39 82.18h0M190.57 93.38h0M193.07 88.09h0M187.84 90.29h0M192.78 90.4h0M188.81 88.38h0M188.84 83.34h0M191.54 89.45h0M192.05 91.78h0M187.15 90.24h0M198.01 90.23h0M191.82 89.7h0M187.78 91.15h0M197.14 85.52h0M186.76 89.35h0M192.97 88.66h0M190.55 88.32h0M198.09 87.3h0M193.47 82.72h0M192.46 94.25h0M195.42 86.8h0M188.65 89.74h0M196.02 93.45h0M187.42 86.67h0M192.45 92.02h0M196.7 91.5h0M196.86 90.56h0M195.24 89.45h0M188.08 85.63h0M197.9 85.55h0M195.78 86.82h0M189.49 93.21h0M191.61 85.41h0M194.25 87.67h0M188.67 83.26h0M189.69 86.38h0M191.6 89.05h0M190.45 89.15h0M190.76 84.14h0M190.51 92.49h0M198 88.86h0M191.58 84.97h0M190.08 81.42h0M189.07 84.08h0M198.7 87.19h0M188.95 90.76h0M191.21 87.59h0M189.16 85.8h0M196.78 83.27h0M188.07 88.4h0M191.57 83.18h0M194.55 86.1h0M193.04 88.77h0M191.28 90.33h0M193.79 90.07h0M197.07 89.57h0M192.15 92.26h0M190.79 88.35h0M192.6 85.39h0M186.65 87.49h0M199.39 87.33h0M193.31 82.22h0M196.75 91.4h0M191.15 84.34h0M189.14 86.44h0M190.61 83.31h0M192.4 93.72h0M195.6 90.79h0M188.03 87.45h0M192.57 94.04h0M196.97 87.61h0M188.42 93.32h0M189.47 84.6h0M189.1 84.98h0M186.83 86.33h0M188.93 88.35h0" stroke="#C99800" stroke-width="1.5" stroke-linecap="round" fill="none"/>
<path d="M183.34 93.24h0M182.2 92.57h0M185.08 93.06h0M183.57 92.18h0M185.32 92.76h0M182.76 91.5h0M184.16 93.05h0M182.34 93.83h0M182.11 95.47h0M182.02 93.24h0M183.3 94.27h0M184.58 91.97h0M181.48 92.71h0M183.22 92.2h0M182.22 94.93h0M182.41 91.39h0M183.92 94.18h0M183.9 93.51h0" stroke="#00C0AF" stroke-width="1.5" stroke-linecap="round" fill="none"/>
<path d="M191.66 97.16h0M191.76 96.2h0M192.64 96.75h0M185.25 96.45h0M187.21 96.9h0M191.16 91.93h0M194.16 95.24h0M186.8 94.18h0M190.52 90.9h0M184.28 93.59h0M189.16 91.62h0M190.34 95.23h0M191.32 90.72h0M189.4 90.72h0M191.84 95.32h0M192.28 96.42h0M191.14 93.88h0M189.1 93.43h0M192.14 95.88h0M196.45 93.06h0M188.9 93.82h0M186.2 94.74h0M191.14 95.84h0M191.86 95.41h0M192.59 93.25h0M189.41 93.73h0M188.12 96.67h0M195.4 93.48h0M194.79 93.71h0M188.58 96.69h0M193.08 93.62h0M192.94 92.7h0M185.83 93.65h0M193.63 93.39h0M189.39 95.41h0M187.7 97.03h0M190.83 94.59h0M187.17 96.05h0M186.94 92.79h0M184.89 95.97h0M187.6 94.23h0M190.29 90.86h0M191.32 96.12h0M185.85 91.33h0M186.01 93.29h0M194.05 96.34h0M186.56 93.12h0M193.42 92.21h0M190.83 92.1h0M191.32 93.57h0M192.15 96.5h0M183.61 95.55h0M192.31 91.9h0M192.06 96.02h0M192.01 93.3h0" stroke="#00BCD8" stroke-width="1.5" stroke-linecap="round" fill="none"/>
<path d="M199.23 77.27h0M196.08 81.05h0M196.33 79.33h0M206.14 85.15h0M197.56 79.15h0M197.28 80.05h0M199.37 80.64h0M196.79 78.73h0M198.15 76.27h0M200.18 80.44h0M207.32 83.81h0M196.79 80.65h0M196.34 81.73h0M199.37 77.48h0M198.41 77.34h0M201.2 80.1h0M196.5 80.92h0M206.82 83.91h0M197.57 77.51h0M204.64 83.11h0M199.67 77.05h0M199.19 77.75h0M207.78 83.61h0M195.4 83.23h0M195.53 82.2h0M197.29 79.89h0M205.9 83.84h0M200.59 81.57h0M200.49 82.2h0M196.09 81.54h0M198.14 78.17h0M195.03 80.7h0M197.91 75.36h0M196.57 77.72h0M195.64 82.21h0M199.11 79.36h0M195.99 79.68h0M199.01 80.03h0M201.17 85.13h0M195.74 82.32h0M197.91 77.01h0M201.73 84.63h0M197.57 75.86h0M200.78 84.37h0M198.16 76.57h0M206.81 83.21h0M198.97 76.63h0M202.88 84.91h0M202.1 86.24h0M199.02 79.14h0M197.86 78.73h0M203.37 83.58h0M196.5 79.64h0M206.63 83.23h0M204.35 85.01h0M199.75 80.16h0M197.11 77.14h0M196.92 80.19h0M198.39 79.77h0M200.04 80.86h0" stroke="#619CFF" stroke-width="1.5" stroke-linecap="round" fill="none"/>
<path d="M208.31 89.58h0M212.81 98.4h0M212.17 92.65h0M205.6 88.61h0M206.67 96.59h0M206.37 91.31h0M205.05 89.96h0M205.95 96.88h0M203.32 85.48h0M205.89 90.33h0M203.93 87.93h0M206.55 97.19h0M207.74 98.72h0M212.26 93.63h0M206.38 92.72h0M207.51 96.21h0M207.85 101.2h0M211.09 91.54h0M212.41 100.25h0M208.6 90.98h0M205.05 93.28h0M205.8 92.69h0M209.49 102.86h0M208.68 94.79h0M203.64 96.57h0M204.54 89.77h0M205.26 99.94h0M204.8 91.19h0M211.03 95.14h0M210.58 99.04h0M208 91.32h0M203.19 90.26h0M205.09 94.62h0M207.15 95.3h0M211.95 98.68h0M209.28 92.48h0M205.14 97.24h0M208.46 96.67h0M203.32 94.24h0M208.42 94.96h0M209.69 101.38h0M204.65 93.31h0M209.55 90.11h0M211.78 99.19h0M206.61 90.57h0M209.32 96.18h0M205.09 86.14h0M211.98 94.01h0M204.53 97.16h0M209.2 93.25h0M213.01 96.16h0M210.01 95.52h0M206.84 92.13h0M211.59 94.32h0M206.49 84.75h0M210.18 98.59h0M208.83 83.76h0M203.47 95.15h0M206.81 97.93h0M210.2 91.08h0M205.08 94.08h0M212.47 96.61h0M206.96 94.62h0M211.11 93.12h0M208.29 87.81h0M204.81 90.83h0M210.57 92.47h0M209.28 89.27h0M204.97 90.29h0M212.13 94.29h0M206.61 96.75h0M206.65 83.24h0M204.65 89.77h0M212.12 98.2h0M212.07 93.97h0M204.75 88.72h0M207.1 90.01h0M208.96 90.83h0M207.99 89.96h0M204.23 84.82h0M213.02 99.02h0M207.6 86.89h0M208.82 92.23h0M206.32 94.98h0M206.54 100.51h0M207.06 87.05h0M209.18 92.82h0M203.23 85.57h0M206.5 99.1h0M202.57 92.39h0M206.97 94.04h0M204.6 94.77h0M213.2 99.94h0M209.44 89.2h0M208.47 91.61h0M206.52 95.08h0M211.42 91.06h0M208.97 95.01h0M204.31 87.6h0M207.3 87.21h0M206.74 99.19h0M206.05 89.8h0M208.03 94.49h0M207.92 93.83h0M207.06 84.65h0M205.53 96.16h0M208.99 95.46h0M212.82 92.08h0M204.45 96.71h0M208.75 92.16h0M211.33 99.88h0M205.13 97.13h0M208.26 89.1h0M213.17 95.29h0M205.75 96.19h0M210.92 98.41h0M202.82 88.46h0M209.33 94.48h0M206.87 93.59h0M209.99 98.69h0M211.11 98.89h0M208.02 92.72h0M202.76 87.39h0M205.41 87.21h0M207.18 94.81h0M207.98 96.32h0M206.28 85.7h0M202.81 88.99h0M203.97 94.4h0M207.39 92.12h0M203.78 94.63h0M209.47 85.52h0M204.92 85.63h0M204.05 86.86h0M208.06 95.16h0M207.45 95.53h0M205.37 96.94h0M209.74 97.73h0M206.4 87.66h0M202.66 86.07h0M204.18 89.57h0M210.97 91.88h0M206.71 90.08h0M206.7 93.58h0M211.31 94.21h0M210.33 94.43h0M208.86 90.6h0M211.4 94.92h0M212.74 96.29h0M205.74 93.19h0M208.07 100.1h0M211.52 96.64h0M207.3 94.74h0M206.48 100.68h0M212.61 99.5h0M211.48 88.98h0M204.43 85.52h0M205.98 85.88h0M208.37 95.34h0M207.5 88.6h0M208.17 98.7h0M207.44 92.39h0M205.02 94.12h0M210.32 98.86h0M206.12 94.29h0M205.74 89.17h0M201.57 90.18h0M202.6 89.98h0M204.42 94.37h0M205.03 89.72h0M204.39 95.79h0M208.1 103.63h0M204.26 86.89h0M207.09 90.3h0M209.06 99.71h0M210.46 97.46h0M213.35 92.93h0M209.4 90.16h0M208.63 97.32h0M204.23 90.98h0M205.42 98.43h0M204.23 96.85h0M210.71 88.01h0M205.58 90.12h0M211.07 101.32h0M206.98 86.21h0M205.61 90.46h0M204.83 93.68h0M202.53 87.33h0M204.78 93.86h0M204.07 94.44h0M204.42 93.57h0M202.54 88.18h0M210.23 97.01h0M209.74 99.79h0M210.34 99.87h0M205.35 93.3h0M206.17 90.4h0M211.99 94.46h0M210.29 99.41h0M207.6 98.73h0M207.71 95.51h0M209.89 91.17h0M203.98 93.63h0M205.95 92.13h0M211.29 94.93h0M206.54 87.06h0M207.3 93.45h0M210.98 91.01h0M204.16 96.54h0M207.69 101.44h0M209.86 96.67h0M211.7 95.11h0M206.34 92.98h0M206.04 94.78h0M207.72 96.72h0M212.1 99.83h0M207.71 96.55h0M212.35 94.82h0M202.91 93.12h0M202.87 93.22h0M210.38 90.01h0M205.78 97.92h0M202.97 93.14h0M208.42 89.61h0M210.5 93.22h0M204.44 94.87h0M209.13 89.72h0M210.75 91.81h0M204.56 91.32h0M213.04 98.71h0M211.54 98.8h0M204.5 94.1h0M209.86 102.79h0M207.5 95.82h0M208.15 90.31h0M211.87 97.52h0M209 96.08h0M210.7 94.99h0M208.83 88.05h0M205.72 98.29h0M203.68 88.8h0M206.4 94.29h0M206.92 92.92h0M206.63 89.87h0M212.23 97.01h0M210.76 89.71h0M212.17 98.36h0M212.31 92.22h0M205.61 97.41h0M209.06 93.66h0M205.05 93.44h0M208.76 99.77h0M204.98 96.98h0M210.75 97.6h0M209.89 93.4h0M205 87.08h0M203.51 86.52h0M203.14 86.24h0M207.78 87.89h0M213.42 98.02h0M207.59 89.78h0M207.52 86.25h0M206.5 85.27h0M211.79 101.89h0M204.92 96.77h0M206.11 86.13h0M206.83 91.2h0M207.62 92.57h0M202.02 89.72h0M211.71 95.55h0M208.38 85.44h0M205.94 88.33h0M208.25 91.42h0M208.52 94.16h0M208.28 85.96h0M208.62 88.38h0M211.81 97.95h0M203.71 86.21h0" stroke="#F8766D" stroke-width="1.5" stroke-linecap="round" fill="none"/>
<path d="M207 104.5h0M209 104.8h0M211 104.4h0" stroke="#F8766D" stroke-width="1.5" stroke-linecap="round" fill="none"/>
<path d="M209.72 107.9h0M208.45 110.01h0M207.32 112.42h0M212.04 107.87h0M211.69 109.68h0M214.83 112.73h0M207.55 108.1h0M210.85 113.26h0M212.24 107.9h0M211.23 109.53h0M208.25 110.06h0M210.46 110.19h0M209.52 110h0M213.96 113.61h0M209.75 113.1h0M211.33 109.51h0M208.89 108.73h0M206.22 109.73h0M206.81 109.8h0M210.77 111.63h0M212.44 109.15h0M210.88 109.93h0M212.08 109.07h0M207.9 113.08h0M211.09 107.81h0M213.33 110.52h0M207.65 109.48h0M207.5 109.24h0M210.73 109.23h0M209.64 110.51h0M209.95 114.09h0M206.04 111h0M208.63 110.58h0M207.51 114.25h0M212.4 113.65h0M212.22 114.44h0M212.83 112.82h0M213.72 112.66h0M209.67 113.06h0M205.38 111.21h0M211.37 110.59h0M211.77 114.13h0M207.54 112.32h0M209.46 112.96h0M208.7 112.99h0M207.07 112.24h0M213.42 113.37h0M212.51 109.14h0M207.83 109.5h0M211.84 111.57h0M211.03 112.84h0M210.1 114.42h0M210.29 110.28h0M208.83 109.47h0M205.81 112.57h0M209.28 107.8h0M209.72 112.66h0M209.89 110.53h0M208.13 110.69h0M213.23 112.69h0M207.34 108.52h0M213.67 112.21h0M209.5 114.94h0M205.65 110.33h0M210.31 113.3h0M207.32 108.68h0M214.25 111.43h0M210.36 109.29h0M206.6 114.75h0M213.32 107.91h0M206.16 109.4h0M212.6 107.85h0M209.44 113.23h0M213.77 112.12h0M211.83 112.85h0M208.21 108.27h0M208.61 109.2h0M206.04 110.06h0M213.52 111.57h0M207.3 110.15h0M209.63 111.43h0M206.99 113.64h0M209.07 109.71h0M212.05 109h0M206.3 109.35h0M211.94 109.24h0M211.18 115.34h0M209.69 109.05h0M213.41 109.79h0M210.53 114.9h0M207.98 112.95h0M212.67 110.18h0M207.19 113.81h0" stroke="#E58700" stroke-width="1.5" stroke-linecap="round" fill="none"/>
<circle cx="246.5" cy="25.8" r="1.7" fill="#F8766D"/>
<text x="252" y="28.2" font-size="6.3" fill="#222">CD4 Naive/TCM</text>
<circle cx="246.5" cy="32.21" r="1.7" fill="#E58700"/>
<text x="252" y="34.61" font-size="6.3" fill="#222">CD8 Naive/TCM</text>
<circle cx="246.5" cy="38.62" r="1.7" fill="#C99800"/>
<text x="252" y="41.02" font-size="6.3" fill="#222">CD4/CD8 TEM</text>
<circle cx="246.5" cy="45.03" r="1.7" fill="#A3A500"/>
<text x="252" y="47.43" font-size="6.3" fill="#222">Naive B</text>
<circle cx="246.5" cy="51.44" r="1.7" fill="#6BB100"/>
<text x="252" y="53.84" font-size="6.3" fill="#222">Plasmablasts</text>
<circle cx="246.5" cy="57.85" r="1.7" fill="#00BA38"/>
<text x="252" y="60.25" font-size="6.3" fill="#222">Proliferating plasmablasts</text>
<circle cx="246.5" cy="64.26" r="1.7" fill="#00BF7D"/>
<text x="252" y="66.66" font-size="6.3" fill="#222">NK</text>
<circle cx="246.5" cy="70.67" r="1.7" fill="#00C0AF"/>
<text x="252" y="73.07" font-size="6.3" fill="#222">CD56bright NK</text>
<circle cx="246.5" cy="77.08" r="1.7" fill="#00BCD8"/>
<text x="252" y="79.48" font-size="6.3" fill="#222">MAIT</text>
<circle cx="246.5" cy="83.49" r="1.7" fill="#00B0F6"/>
<text x="252" y="85.89" font-size="6.3" fill="#222">γδ T</text>
<circle cx="246.5" cy="89.9" r="1.7" fill="#619CFF"/>
<text x="252" y="92.3" font-size="6.3" fill="#222">Proliferating lymphocytes</text>
<circle cx="246.5" cy="96.31" r="1.7" fill="#B983FF"/>
<text x="252" y="98.71" font-size="6.3" fill="#222">Monocytes</text>
<circle cx="246.5" cy="102.72" r="1.7" fill="#E76BF3"/>
<text x="252" y="105.12" font-size="6.3" fill="#222">Activated monocytes</text>
<circle cx="246.5" cy="109.13" r="1.7" fill="#FD61D1"/>
<text x="252" y="111.53" font-size="6.3" fill="#222">cDC2</text>
<circle cx="246.5" cy="115.54" r="1.7" fill="#FF67A4"/>
<text x="252" y="117.94" font-size="6.3" fill="#222">pDC</text>
<text x="342.6" y="23.6" font-size="14" font-weight="bold">b</text>
<rect x="443.2" y="11.3" width="176.6" height="282.1" fill="#fff"/>
<line x1="456.6" y1="11.3" x2="456.6" y2="293.4" stroke="#EBEBEB" stroke-width="0.9"/>
<line x1="471.9" y1="11.3" x2="471.9" y2="293.4" stroke="#EBEBEB" stroke-width="0.5"/>
<line x1="487.2" y1="11.3" x2="487.2" y2="293.4" stroke="#EBEBEB" stroke-width="0.9"/>
<line x1="502.5" y1="11.3" x2="502.5" y2="293.4" stroke="#EBEBEB" stroke-width="0.5"/>
<line x1="517.8" y1="11.3" x2="517.8" y2="293.4" stroke="#EBEBEB" stroke-width="0.9"/>
<line x1="533.1" y1="11.3" x2="533.1" y2="293.4" stroke="#EBEBEB" stroke-width="0.5"/>
<line x1="548.4" y1="11.3" x2="548.4" y2="293.4" stroke="#EBEBEB" stroke-width="0.9"/>
<line x1="563.7" y1="11.3" x2="563.7" y2="293.4" stroke="#EBEBEB" stroke-width="0.5"/>
<line x1="579" y1="11.3" x2="579" y2="293.4" stroke="#EBEBEB" stroke-width="0.9"/>
<line x1="594.3" y1="11.3" x2="594.3" y2="293.4" stroke="#EBEBEB" stroke-width="0.5"/>
<line x1="609.6" y1="11.3" x2="609.6" y2="293.4" stroke="#EBEBEB" stroke-width="0.9"/>
<line x1="443.2" y1="27.8" x2="619.8" y2="27.8" stroke="#EBEBEB" stroke-width="0.9"/>
<line x1="443.2" y1="55.45" x2="619.8" y2="55.45" stroke="#EBEBEB" stroke-width="0.9"/>
<line x1="443.2" y1="83.1" x2="619.8" y2="83.1" stroke="#EBEBEB" stroke-width="0.9"/>
<line x1="443.2" y1="110.75" x2="619.8" y2="110.75" stroke="#EBEBEB" stroke-width="0.9"/>
<line x1="443.2" y1="138.4" x2="619.8" y2="138.4" stroke="#EBEBEB" stroke-width="0.9"/>
<line x1="443.2" y1="166.05" x2="619.8" y2="166.05" stroke="#EBEBEB" stroke-width="0.9"/>
<line x1="443.2" y1="193.7" x2="619.8" y2="193.7" stroke="#EBEBEB" stroke-width="0.9"/>
<line x1="443.2" y1="221.35" x2="619.8" y2="221.35" stroke="#EBEBEB" stroke-width="0.9"/>
<line x1="443.2" y1="249" x2="619.8" y2="249" stroke="#EBEBEB" stroke-width="0.9"/>
<line x1="443.2" y1="276.65" x2="619.8" y2="276.65" stroke="#EBEBEB" stroke-width="0.9"/>
<line x1="440.3" y1="27.8" x2="443.2" y2="27.8" stroke="#333" stroke-width="0.8"/>
<text x="438.2" y="31" font-size="9.2" text-anchor="end" fill="#1a1a1a">response to cytokine</text>
<line x1="440.3" y1="55.45" x2="443.2" y2="55.45" stroke="#333" stroke-width="0.8"/>
<text x="438.2" y="58.65" font-size="9.2" text-anchor="end" fill="#1a1a1a">response to virus</text>
<line x1="440.3" y1="83.1" x2="443.2" y2="83.1" stroke="#333" stroke-width="0.8"/>
<text x="438.2" y="86.3" font-size="9.2" text-anchor="end" fill="#1a1a1a">viral process</text>
<line x1="440.3" y1="110.75" x2="443.2" y2="110.75" stroke="#333" stroke-width="0.8"/>
<text x="438.2" y="113.95" font-size="9.2" text-anchor="end" fill="#1a1a1a">defense response to virus</text>
<line x1="440.3" y1="138.4" x2="443.2" y2="138.4" stroke="#333" stroke-width="0.8"/>
<text x="438.2" y="141.6" font-size="9.2" text-anchor="end" fill="#1a1a1a">regulation of viral process</text>
<line x1="440.3" y1="166.05" x2="443.2" y2="166.05" stroke="#333" stroke-width="0.8"/>
<text x="438.2" y="169.25" font-size="9.2" text-anchor="end" fill="#1a1a1a">response to type I interferon</text>
<line x1="440.3" y1="193.7" x2="443.2" y2="193.7" stroke="#333" stroke-width="0.8"/>
<text x="438.2" y="192.1" font-size="9.2" text-anchor="end" fill="#1a1a1a">type I interferon−mediated</text>
<text x="438.2" y="201.7" font-size="9.2" text-anchor="end" fill="#1a1a1a">signaling pathway</text>
<line x1="440.3" y1="221.35" x2="443.2" y2="221.35" stroke="#333" stroke-width="0.8"/>
<text x="438.2" y="219.75" font-size="9.2" text-anchor="end" fill="#1a1a1a">cellular response to type I</text>
<text x="438.2" y="229.35" font-size="9.2" text-anchor="end" fill="#1a1a1a">interferon</text>
<line x1="440.3" y1="249" x2="443.2" y2="249" stroke="#333" stroke-width="0.8"/>
<text x="438.2" y="247.4" font-size="9.2" text-anchor="end" fill="#1a1a1a">interferon−mediated</text>
<text x="438.2" y="257" font-size="9.2" text-anchor="end" fill="#1a1a1a">signaling pathway</text>
<line x1="440.3" y1="276.65" x2="443.2" y2="276.65" stroke="#333" stroke-width="0.8"/>
<text x="438.2" y="275.05" font-size="9.2" text-anchor="end" fill="#1a1a1a">regulation of response to</text>
<text x="438.2" y="284.65" font-size="9.2" text-anchor="end" fill="#1a1a1a">cytokine stimulus</text>
<line x1="456.6" y1="293.4" x2="456.6" y2="295.8" stroke="#333" stroke-width="0.8"/>
<text x="456.6" y="303.6" font-size="9" text-anchor="middle" fill="#333">0.2</text>
<line x1="487.2" y1="293.4" x2="487.2" y2="295.8" stroke="#333" stroke-width="0.8"/>
<text x="487.2" y="303.6" font-size="9" text-anchor="middle" fill="#333">0.3</text>
<line x1="517.8" y1="293.4" x2="517.8" y2="295.8" stroke="#333" stroke-width="0.8"/>
<text x="517.8" y="303.6" font-size="9" text-anchor="middle" fill="#333">0.4</text>
<line x1="548.4" y1="293.4" x2="548.4" y2="295.8" stroke="#333" stroke-width="0.8"/>
<text x="548.4" y="303.6" font-size="9" text-anchor="middle" fill="#333">0.5</text>
<line x1="579" y1="293.4" x2="579" y2="295.8" stroke="#333" stroke-width="0.8"/>
<text x="579" y="303.6" font-size="9" text-anchor="middle" fill="#333">0.6</text>
<line x1="609.6" y1="293.4" x2="609.6" y2="295.8" stroke="#333" stroke-width="0.8"/>
<text x="609.6" y="303.6" font-size="9" text-anchor="middle" fill="#333">0.7</text>
<text x="531" y="316.2" font-size="9.3" text-anchor="middle" fill="#1a1a1a">GeneRatio</text>
<circle cx="612.05" cy="27.8" r="7.9" fill="#E05A5A" stroke="#222" stroke-width="0.8"/>
<circle cx="517.8" cy="55.45" r="6.2" fill="#E05A5A" stroke="#222" stroke-width="0.8"/>
<circle cx="501.28" cy="83.1" r="5.6" fill="#E05A5A" stroke="#222" stroke-width="0.8"/>
<circle cx="501.28" cy="110.75" r="5.6" fill="#E05A5A" stroke="#222" stroke-width="0.8"/>
<circle cx="472.82" cy="138.4" r="4.6" fill="#E05A5A" stroke="#222" stroke-width="0.8"/>
<circle cx="462.11" cy="166.05" r="4.4" fill="#DD5B5C" stroke="#222" stroke-width="0.8"/>
<circle cx="462.11" cy="193.7" r="4.4" fill="#DD5B5C" stroke="#222" stroke-width="0.8"/>
<circle cx="462.11" cy="221.35" r="4.4" fill="#DD5B5C" stroke="#222" stroke-width="0.8"/>
<circle cx="462.11" cy="249" r="4.4" fill="#DD5B5C" stroke="#222" stroke-width="0.8"/>
<circle cx="450.48" cy="276.65" r="3.4" fill="#367BBD" stroke="#222" stroke-width="0.8"/>
<rect x="443.2" y="11.3" width="176.6" height="282.1" fill="none" stroke="#333" stroke-width="0.9"/>
<text x="635.2" y="65.4" font-size="9.9" fill="#1a1a1a">Adjusted</text>
<text x="635.2" y="76" font-size="9.9" fill="#1a1a1a">p−value</text>
<defs><linearGradient id="gb" x1="0" y1="0" x2="0" y2="1"><stop offset="0" stop-color="#E05A5A"/><stop offset="0.5" stop-color="#9A6488"/><stop offset="1" stop-color="#367BBD"/></linearGradient><linearGradient id="gf" x1="0" y1="0" x2="0" y2="1"><stop offset="0" stop-color="#E05A5A"/><stop offset="0.5" stop-color="#9A6488"/><stop offset="1" stop-color="#367BBD"/></linearGradient></defs>
<rect x="635" y="82.6" width="15.9" height="79.1" fill="url(#gb)"/>
<line x1="635" y1="112.1" x2="638" y2="112.1" stroke="#fff" stroke-width="0.6"/>
<line x1="647.9" y1="112.1" x2="650.9" y2="112.1" stroke="#fff" stroke-width="0.6"/>
<text x="655.8" y="114.9" font-size="8" fill="#1a1a1a">0.01</text>
<line x1="635" y1="140.8" x2="638" y2="140.8" stroke="#fff" stroke-width="0.6"/>
<line x1="647.9" y1="140.8" x2="650.9" y2="140.8" stroke="#fff" stroke-width="0.6"/>
<text x="655.8" y="143.6" font-size="8" fill="#1a1a1a">0.02</text>
<text x="635.2" y="191.2" font-size="9.9" fill="#1a1a1a">Count</text>
<circle cx="644.2" cy="205.4" r="3.2" fill="none" stroke="#111" stroke-width="0.9"/>
<text x="659" y="208.2" font-size="8" fill="#1a1a1a">10</text>
<circle cx="644.2" cy="221.4" r="6" fill="none" stroke="#111" stroke-width="0.9"/>
<text x="659" y="224.2" font-size="8" fill="#1a1a1a">20</text>
<circle cx="644.2" cy="238.4" r="7.7" fill="none" stroke="#111" stroke-width="0.9"/>
<text x="659" y="241.2" font-size="8" fill="#1a1a1a">30</text>
<text x="-0.6" y="150.4" font-size="14" font-weight="bold">c</text>
<line x1="38.23" y1="179.79" x2="38.23" y2="181.83" stroke="#8a8a8a" stroke-width="0.7"/>
<line x1="38.23" y1="226.57" x2="38.23" y2="235.9" stroke="#8a8a8a" stroke-width="0.7"/>
<rect x="35.85" y="181.83" width="4.75" height="44.75" fill="#023199" stroke="#3a3a3a" stroke-width="0.35"/>
<line x1="35.85" y1="199.45" x2="40.6" y2="199.45" stroke="#333" stroke-width="0.7"/>
<line x1="43.57" y1="203.52" x2="43.57" y2="233.69" stroke="#8a8a8a" stroke-width="0.7"/>
<line x1="43.57" y1="265.22" x2="43.57" y2="283.19" stroke="#8a8a8a" stroke-width="0.7"/>
<rect x="41.2" y="233.69" width="4.75" height="31.53" fill="#FF0000" stroke="#3a3a3a" stroke-width="0.35"/>
<line x1="41.2" y1="247.59" x2="45.95" y2="247.59" stroke="#333" stroke-width="0.7"/>
<line x1="51.89" y1="201.83" x2="51.89" y2="221.15" stroke="#8a8a8a" stroke-width="0.7"/>
<line x1="51.89" y1="236.2" x2="51.89" y2="238.1" stroke="#8a8a8a" stroke-width="0.7"/>
<rect x="49.51" y="221.15" width="4.75" height="15.05" fill="#023199" stroke="#3a3a3a" stroke-width="0.35"/>
<line x1="49.51" y1="232.34" x2="54.26" y2="232.34" stroke="#333" stroke-width="0.7"/>
<line x1="57.23" y1="223.18" x2="57.23" y2="236.74" stroke="#8a8a8a" stroke-width="0.7"/>
<line x1="57.23" y1="253.35" x2="57.23" y2="278.44" stroke="#8a8a8a" stroke-width="0.7"/>
<rect x="54.86" y="236.74" width="4.75" height="16.61" fill="#FF0000" stroke="#3a3a3a" stroke-width="0.35"/>
<line x1="54.86" y1="244.54" x2="59.61" y2="244.54" stroke="#333" stroke-width="0.7"/>
<line x1="65.55" y1="199.79" x2="65.55" y2="220.13" stroke="#8a8a8a" stroke-width="0.7"/>
<line x1="65.55" y1="237.42" x2="65.55" y2="241.15" stroke="#8a8a8a" stroke-width="0.7"/>
<rect x="63.17" y="220.13" width="4.75" height="17.29" fill="#023199" stroke="#3a3a3a" stroke-width="0.35"/>
<line x1="63.17" y1="234.03" x2="67.92" y2="234.03" stroke="#333" stroke-width="0.7"/>
<line x1="70.89" y1="188.94" x2="70.89" y2="237.42" stroke="#8a8a8a" stroke-width="0.7"/>
<line x1="70.89" y1="274.37" x2="70.89" y2="276.41" stroke="#8a8a8a" stroke-width="0.7"/>
<rect x="68.52" y="237.42" width="4.75" height="36.95" fill="#FF0000" stroke="#3a3a3a" stroke-width="0.35"/>
<line x1="68.52" y1="245.56" x2="73.27" y2="245.56" stroke="#333" stroke-width="0.7"/>
<line x1="79.2" y1="208.95" x2="79.2" y2="224.54" stroke="#8a8a8a" stroke-width="0.7"/>
<line x1="79.2" y1="234.71" x2="79.2" y2="236.07" stroke="#8a8a8a" stroke-width="0.7"/>
<rect x="76.83" y="224.54" width="4.75" height="10.17" fill="#023199" stroke="#3a3a3a" stroke-width="0.35"/>
<line x1="76.83" y1="232.34" x2="81.58" y2="232.34" stroke="#333" stroke-width="0.7"/>
<line x1="84.55" y1="227.93" x2="84.55" y2="236.41" stroke="#8a8a8a" stroke-width="0.7"/>
<line x1="84.55" y1="243.52" x2="84.55" y2="252.34" stroke="#8a8a8a" stroke-width="0.7"/>
<rect x="82.18" y="236.41" width="4.75" height="7.12" fill="#FF0000" stroke="#3a3a3a" stroke-width="0.35"/>
<line x1="82.18" y1="238.27" x2="86.93" y2="238.27" stroke="#333" stroke-width="0.7"/>
<line x1="92.86" y1="228.61" x2="92.86" y2="233.69" stroke="#8a8a8a" stroke-width="0.7"/>
<line x1="92.86" y1="237.42" x2="92.86" y2="237.76" stroke="#8a8a8a" stroke-width="0.7"/>
<rect x="90.49" y="233.69" width="4.75" height="3.73" fill="#023199" stroke="#3a3a3a" stroke-width="0.35"/>
<line x1="90.49" y1="235.9" x2="95.24" y2="235.9" stroke="#333" stroke-width="0.7"/>
<line x1="98.21" y1="211.66" x2="98.21" y2="220.47" stroke="#8a8a8a" stroke-width="0.7"/>
<line x1="98.21" y1="234.37" x2="98.21" y2="238.44" stroke="#8a8a8a" stroke-width="0.7"/>
<rect x="95.84" y="220.47" width="4.75" height="13.9" fill="#FF0000" stroke="#3a3a3a" stroke-width="0.35"/>
<line x1="95.84" y1="234.03" x2="100.59" y2="234.03" stroke="#333" stroke-width="0.7"/>
<line x1="106.52" y1="237.08" x2="106.52" y2="237.25" stroke="#8a8a8a" stroke-width="0.7"/>
<line x1="106.52" y1="237.59" x2="106.52" y2="237.59" stroke="#8a8a8a" stroke-width="0.7"/>
<rect x="104.15" y="237.25" width="4.75" height="0.8" fill="#023199" stroke="#3a3a3a" stroke-width="0.35"/>
<line x1="104.15" y1="237.42" x2="108.9" y2="237.42" stroke="#333" stroke-width="0.7"/>
<line x1="111.87" y1="228.27" x2="111.87" y2="231.66" stroke="#8a8a8a" stroke-width="0.7"/>
<line x1="111.87" y1="236.74" x2="111.87" y2="240.81" stroke="#8a8a8a" stroke-width="0.7"/>
<rect x="109.5" y="231.66" width="4.75" height="5.09" fill="#FF0000" stroke="#3a3a3a" stroke-width="0.35"/>
<line x1="109.5" y1="233.35" x2="114.25" y2="233.35" stroke="#333" stroke-width="0.7"/>
<line x1="120.19" y1="203.01" x2="120.19" y2="217.08" stroke="#8a8a8a" stroke-width="0.7"/>
<line x1="120.19" y1="233.35" x2="120.19" y2="238.1" stroke="#8a8a8a" stroke-width="0.7"/>
<rect x="117.81" y="217.08" width="4.75" height="16.27" fill="#023199" stroke="#3a3a3a" stroke-width="0.35"/>
<line x1="117.81" y1="230.3" x2="122.56" y2="230.3" stroke="#333" stroke-width="0.7"/>
<line x1="125.54" y1="238.78" x2="125.54" y2="239.12" stroke="#8a8a8a" stroke-width="0.7"/>
<line x1="125.54" y1="251.32" x2="125.54" y2="266.24" stroke="#8a8a8a" stroke-width="0.7"/>
<rect x="123.16" y="239.12" width="4.75" height="12.2" fill="#FF0000" stroke="#3a3a3a" stroke-width="0.35"/>
<line x1="123.16" y1="241.15" x2="127.91" y2="241.15" stroke="#333" stroke-width="0.7"/>
<line x1="133.84" y1="232.34" x2="133.84" y2="235.05" stroke="#8a8a8a" stroke-width="0.7"/>
<line x1="133.84" y1="238.44" x2="133.84" y2="238.44" stroke="#8a8a8a" stroke-width="0.7"/>
<rect x="131.47" y="235.05" width="4.75" height="3.39" fill="#023199" stroke="#3a3a3a" stroke-width="0.35"/>
<line x1="131.47" y1="237.42" x2="136.22" y2="237.42" stroke="#333" stroke-width="0.7"/>
<line x1="139.2" y1="238.1" x2="139.2" y2="238.44" stroke="#8a8a8a" stroke-width="0.7"/>
<line x1="139.2" y1="240.81" x2="139.2" y2="241.15" stroke="#8a8a8a" stroke-width="0.7"/>
<rect x="136.82" y="238.44" width="4.75" height="2.37" fill="#FF0000" stroke="#3a3a3a" stroke-width="0.35"/>
<line x1="136.82" y1="239.63" x2="141.57" y2="239.63" stroke="#333" stroke-width="0.7"/>
<line x1="147.5" y1="229.96" x2="147.5" y2="234.03" stroke="#8a8a8a" stroke-width="0.7"/>
<line x1="147.5" y1="238.44" x2="147.5" y2="238.78" stroke="#8a8a8a" stroke-width="0.7"/>
<rect x="145.13" y="234.03" width="4.75" height="4.41" fill="#023199" stroke="#3a3a3a" stroke-width="0.35"/>
<line x1="145.13" y1="237.42" x2="149.88" y2="237.42" stroke="#333" stroke-width="0.7"/>
<line x1="152.86" y1="238.1" x2="152.86" y2="240.13" stroke="#8a8a8a" stroke-width="0.7"/>
<line x1="152.86" y1="246.24" x2="152.86" y2="253.02" stroke="#8a8a8a" stroke-width="0.7"/>
<rect x="150.48" y="240.13" width="4.75" height="6.1" fill="#FF0000" stroke="#3a3a3a" stroke-width="0.35"/>
<line x1="150.48" y1="241.49" x2="155.23" y2="241.49" stroke="#333" stroke-width="0.7"/>
<line x1="161.16" y1="235.39" x2="161.16" y2="236.41" stroke="#8a8a8a" stroke-width="0.7"/>
<line x1="161.16" y1="238.44" x2="161.16" y2="240.13" stroke="#8a8a8a" stroke-width="0.7"/>
<rect x="158.79" y="236.41" width="4.75" height="2.03" fill="#023199" stroke="#3a3a3a" stroke-width="0.35"/>
<line x1="158.79" y1="237.76" x2="163.54" y2="237.76" stroke="#333" stroke-width="0.7"/>
<line x1="166.52" y1="225.22" x2="166.52" y2="239.29" stroke="#8a8a8a" stroke-width="0.7"/>
<line x1="166.52" y1="252.34" x2="166.52" y2="261.15" stroke="#8a8a8a" stroke-width="0.7"/>
<rect x="164.14" y="239.29" width="4.75" height="13.05" fill="#FF0000" stroke="#3a3a3a" stroke-width="0.35"/>
<line x1="164.14" y1="242" x2="168.89" y2="242" stroke="#333" stroke-width="0.7"/>
<line x1="174.82" y1="224.88" x2="174.82" y2="231.83" stroke="#8a8a8a" stroke-width="0.7"/>
<line x1="174.82" y1="238.1" x2="174.82" y2="238.44" stroke="#8a8a8a" stroke-width="0.7"/>
<rect x="172.45" y="231.83" width="4.75" height="6.27" fill="#023199" stroke="#3a3a3a" stroke-width="0.35"/>
<line x1="172.45" y1="237.25" x2="177.2" y2="237.25" stroke="#333" stroke-width="0.7"/>
<line x1="180.18" y1="236.07" x2="180.18" y2="238.44" stroke="#8a8a8a" stroke-width="0.7"/>
<line x1="180.18" y1="245.56" x2="180.18" y2="253.35" stroke="#8a8a8a" stroke-width="0.7"/>
<rect x="177.8" y="238.44" width="4.75" height="7.12" fill="#FF0000" stroke="#3a3a3a" stroke-width="0.35"/>
<line x1="177.8" y1="240.13" x2="182.55" y2="240.13" stroke="#333" stroke-width="0.7"/>
<line x1="188.48" y1="161.82" x2="188.48" y2="193.01" stroke="#8a8a8a" stroke-width="0.7"/>
<line x1="188.48" y1="234.71" x2="188.48" y2="238.44" stroke="#8a8a8a" stroke-width="0.7"/>
<rect x="186.11" y="193.01" width="4.75" height="41.7" fill="#023199" stroke="#3a3a3a" stroke-width="0.35"/>
<line x1="186.11" y1="220.47" x2="190.86" y2="220.47" stroke="#333" stroke-width="0.7"/>
<line x1="193.84" y1="232.68" x2="193.84" y2="234.03" stroke="#8a8a8a" stroke-width="0.7"/>
<line x1="193.84" y1="240.13" x2="193.84" y2="242.17" stroke="#8a8a8a" stroke-width="0.7"/>
<rect x="191.46" y="234.03" width="4.75" height="6.1" fill="#FF0000" stroke="#3a3a3a" stroke-width="0.35"/>
<line x1="191.46" y1="237.42" x2="196.21" y2="237.42" stroke="#333" stroke-width="0.7"/>
<line x1="202.15" y1="172.67" x2="202.15" y2="203.86" stroke="#8a8a8a" stroke-width="0.7"/>
<line x1="202.15" y1="231.83" x2="202.15" y2="236.74" stroke="#8a8a8a" stroke-width="0.7"/>
<rect x="199.77" y="203.86" width="4.75" height="27.97" fill="#023199" stroke="#3a3a3a" stroke-width="0.35"/>
<line x1="199.77" y1="216.06" x2="204.52" y2="216.06" stroke="#333" stroke-width="0.7"/>
<line x1="207.5" y1="217.42" x2="207.5" y2="217.76" stroke="#8a8a8a" stroke-width="0.7"/>
<line x1="207.5" y1="236.41" x2="207.5" y2="239.12" stroke="#8a8a8a" stroke-width="0.7"/>
<rect x="205.12" y="217.76" width="4.75" height="18.65" fill="#FF0000" stroke="#3a3a3a" stroke-width="0.35"/>
<line x1="205.12" y1="230.3" x2="209.87" y2="230.3" stroke="#333" stroke-width="0.7"/>
<line x1="215.81" y1="235.73" x2="215.81" y2="236.07" stroke="#8a8a8a" stroke-width="0.7"/>
<line x1="215.81" y1="236.57" x2="215.81" y2="236.74" stroke="#8a8a8a" stroke-width="0.7"/>
<rect x="213.43" y="236.07" width="4.75" height="0.8" fill="#023199" stroke="#3a3a3a" stroke-width="0.35"/>
<line x1="213.43" y1="236.41" x2="218.18" y2="236.41" stroke="#333" stroke-width="0.7"/>
<line x1="221.16" y1="236.07" x2="221.16" y2="236.41" stroke="#8a8a8a" stroke-width="0.7"/>
<line x1="221.16" y1="237.76" x2="221.16" y2="238.1" stroke="#8a8a8a" stroke-width="0.7"/>
<rect x="218.78" y="236.41" width="4.75" height="1.36" fill="#FF0000" stroke="#3a3a3a" stroke-width="0.35"/>
<line x1="218.78" y1="237.25" x2="223.53" y2="237.25" stroke="#333" stroke-width="0.7"/>
<line x1="229.47" y1="235.05" x2="229.47" y2="235.22" stroke="#8a8a8a" stroke-width="0.7"/>
<line x1="229.47" y1="236.07" x2="229.47" y2="236.41" stroke="#8a8a8a" stroke-width="0.7"/>
<rect x="227.09" y="235.22" width="4.75" height="0.85" fill="#023199" stroke="#3a3a3a" stroke-width="0.35"/>
<line x1="227.09" y1="235.73" x2="231.84" y2="235.73" stroke="#333" stroke-width="0.7"/>
<line x1="234.82" y1="235.05" x2="234.82" y2="235.73" stroke="#8a8a8a" stroke-width="0.7"/>
<line x1="234.82" y1="237.93" x2="234.82" y2="238.78" stroke="#8a8a8a" stroke-width="0.7"/>
<rect x="232.44" y="235.73" width="4.75" height="2.2" fill="#FF0000" stroke="#3a3a3a" stroke-width="0.35"/>
<line x1="232.44" y1="237.08" x2="237.19" y2="237.08" stroke="#333" stroke-width="0.7"/>
<path d="M38.23 175.79V173.49H43.57V175.79" stroke="#333" stroke-width="0.6" fill="none"/>
<text x="40.9" y="174.09" font-size="5.2" text-anchor="middle" fill="#333">**</text>
<path d="M65.55 184.94V182.64H70.89V184.94" stroke="#333" stroke-width="0.6" fill="none"/>
<text x="68.22" y="183.24" font-size="5.2" text-anchor="middle" fill="#333">*</text>
<path d="M79.2 204.95V202.65H84.55V204.95" stroke="#333" stroke-width="0.6" fill="none"/>
<text x="81.88" y="203.25" font-size="5.2" text-anchor="middle" fill="#333">**</text>
<path d="M120.19 199.01V196.71H125.54V199.01" stroke="#333" stroke-width="0.6" fill="none"/>
<text x="122.86" y="197.31" font-size="5.2" text-anchor="middle" fill="#333">**</text>
<path d="M147.5 225.96V223.66H152.86V225.96" stroke="#333" stroke-width="0.6" fill="none"/>
<text x="150.18" y="224.26" font-size="5.2" text-anchor="middle" fill="#333">**</text>
<path d="M174.82 220.88V218.58H180.18V220.88" stroke="#333" stroke-width="0.6" fill="none"/>
<text x="177.5" y="219.18" font-size="5.2" text-anchor="middle" fill="#333">**</text>
<path d="M188.48 157.82V155.52H193.84V157.82" stroke="#333" stroke-width="0.6" fill="none"/>
<text x="191.16" y="156.12" font-size="5.2" text-anchor="middle" fill="#333">*</text>
<line x1="32.6" y1="150.3" x2="32.6" y2="290.3" stroke="#555" stroke-width="0.8"/>
<line x1="32.6" y1="290.3" x2="240.6" y2="290.3" stroke="#555" stroke-width="0.8"/>
<line x1="30.6" y1="170.3" x2="32.6" y2="170.3" stroke="#555" stroke-width="0.6"/>
<text x="30.2" y="172.9" font-size="7.4" text-anchor="end" fill="#222">20</text>
<line x1="30.6" y1="204.2" x2="32.6" y2="204.2" stroke="#555" stroke-width="0.6"/>
<text x="30.2" y="206.8" font-size="7.4" text-anchor="end" fill="#222">10</text>
<line x1="30.6" y1="238.1" x2="32.6" y2="238.1" stroke="#555" stroke-width="0.6"/>
<text x="30.2" y="240.7" font-size="7.4" text-anchor="end" fill="#222">0</text>
<line x1="30.6" y1="272" x2="32.6" y2="272" stroke="#555" stroke-width="0.6"/>
<text x="30.2" y="274.6" font-size="7.4" text-anchor="end" fill="#222">-10</text>
<line x1="40.9" y1="290.3" x2="40.9" y2="292.1" stroke="#555" stroke-width="0.6"/>
<text transform="translate(44.8,295.6) rotate(-45)" font-size="7.4" text-anchor="end" fill="#222">CD4 Naive/TCM</text>
<line x1="54.56" y1="290.3" x2="54.56" y2="292.1" stroke="#555" stroke-width="0.6"/>
<text transform="translate(58.46,295.6) rotate(-45)" font-size="7.4" text-anchor="end" fill="#222">CD8 Naive/TCM</text>
<line x1="68.22" y1="290.3" x2="68.22" y2="292.1" stroke="#555" stroke-width="0.6"/>
<text transform="translate(72.12,295.6) rotate(-45)" font-size="7.4" text-anchor="end" fill="#222">CD4/CD8 TEM</text>
<line x1="81.88" y1="290.3" x2="81.88" y2="292.1" stroke="#555" stroke-width="0.6"/>
<text transform="translate(85.78,295.6) rotate(-45)" font-size="7.4" text-anchor="end" fill="#222">Naive B</text>
<line x1="95.54" y1="290.3" x2="95.54" y2="292.1" stroke="#555" stroke-width="0.6"/>
<text transform="translate(99.44,295.6) rotate(-45)" font-size="7.4" text-anchor="end" fill="#222">Plasmablasts</text>
<line x1="109.2" y1="290.3" x2="109.2" y2="292.1" stroke="#555" stroke-width="0.6"/>
<text transform="translate(113.1,295.6) rotate(-45)" font-size="7.4" text-anchor="end" fill="#222">Proliferating plasmablasts</text>
<line x1="122.86" y1="290.3" x2="122.86" y2="292.1" stroke="#555" stroke-width="0.6"/>
<text transform="translate(126.76,295.6) rotate(-45)" font-size="7.4" text-anchor="end" fill="#222">NK</text>
<line x1="136.52" y1="290.3" x2="136.52" y2="292.1" stroke="#555" stroke-width="0.6"/>
<text transform="translate(140.42,295.6) rotate(-45)" font-size="7.4" text-anchor="end" fill="#222">CD56bright NK</text>
<line x1="150.18" y1="290.3" x2="150.18" y2="292.1" stroke="#555" stroke-width="0.6"/>
<text transform="translate(154.08,295.6) rotate(-45)" font-size="7.4" text-anchor="end" fill="#222">MAIT</text>
<line x1="163.84" y1="290.3" x2="163.84" y2="292.1" stroke="#555" stroke-width="0.6"/>
<text transform="translate(167.74,295.6) rotate(-45)" font-size="7.4" text-anchor="end" fill="#222">γδ T</text>
<line x1="177.5" y1="290.3" x2="177.5" y2="292.1" stroke="#555" stroke-width="0.6"/>
<text transform="translate(181.4,295.6) rotate(-45)" font-size="7.4" text-anchor="end" fill="#222">Proliferating lymphocytes</text>
<line x1="191.16" y1="290.3" x2="191.16" y2="292.1" stroke="#555" stroke-width="0.6"/>
<text transform="translate(195.06,295.6) rotate(-45)" font-size="7.4" text-anchor="end" fill="#222">Monocytes</text>
<line x1="204.82" y1="290.3" x2="204.82" y2="292.1" stroke="#555" stroke-width="0.6"/>
<text transform="translate(208.72,295.6) rotate(-45)" font-size="7.4" text-anchor="end" fill="#222">Activated monocytes</text>
<line x1="218.48" y1="290.3" x2="218.48" y2="292.1" stroke="#555" stroke-width="0.6"/>
<text transform="translate(222.38,295.6) rotate(-45)" font-size="7.4" text-anchor="end" fill="#222">cDC2</text>
<line x1="232.14" y1="290.3" x2="232.14" y2="292.1" stroke="#555" stroke-width="0.6"/>
<text transform="translate(236.04,295.6) rotate(-45)" font-size="7.4" text-anchor="end" fill="#222">pDC</text>
<text transform="translate(16.2,220) rotate(-90)" font-size="7.9" text-anchor="middle" fill="#222">Type-I IFN signaling</text>
<text x="137" y="365" font-size="8" text-anchor="middle" fill="#222">Cluster</text>
<rect x="248.8" y="214" width="5.9" height="4.8" fill="#023199" stroke="#333" stroke-width="0.3"/>
<line x1="248.8" y1="216.4" x2="254.7" y2="216.4" stroke="#333" stroke-width="0.5"/>
<rect x="248.8" y="221.6" width="5.9" height="4.6" fill="#FF0000" stroke="#333" stroke-width="0.3"/>
<line x1="248.8" y1="223.9" x2="254.7" y2="223.9" stroke="#333" stroke-width="0.5"/>
<text x="258" y="219" font-size="7.2" fill="#222">non-SD</text>
<text x="258" y="226.5" font-size="7.2" fill="#222">SD</text>
<text x="317" y="347.8" font-size="14" font-weight="bold">d</text>
<line x1="379.25" y1="345.4" x2="379.25" y2="534.7" stroke="#EBEBEB" stroke-width="0.5"/>
<line x1="415.5" y1="345.4" x2="415.5" y2="534.7" stroke="#EBEBEB" stroke-width="0.9"/>
<line x1="451.75" y1="345.4" x2="451.75" y2="534.7" stroke="#EBEBEB" stroke-width="0.5"/>
<line x1="488" y1="345.4" x2="488" y2="534.7" stroke="#EBEBEB" stroke-width="0.9"/>
<line x1="524.25" y1="345.4" x2="524.25" y2="534.7" stroke="#EBEBEB" stroke-width="0.5"/>
<line x1="560.5" y1="345.4" x2="560.5" y2="534.7" stroke="#EBEBEB" stroke-width="0.9"/>
<line x1="596.75" y1="345.4" x2="596.75" y2="534.7" stroke="#EBEBEB" stroke-width="0.5"/>
<line x1="367.2" y1="526.7" x2="607.2" y2="526.7" stroke="#EBEBEB" stroke-width="0.9"/>
<line x1="367.2" y1="497.8" x2="607.2" y2="497.8" stroke="#EBEBEB" stroke-width="0.5"/>
<line x1="367.2" y1="468.9" x2="607.2" y2="468.9" stroke="#EBEBEB" stroke-width="0.9"/>
<line x1="367.2" y1="440" x2="607.2" y2="440" stroke="#EBEBEB" stroke-width="0.5"/>
<line x1="367.2" y1="411.1" x2="607.2" y2="411.1" stroke="#EBEBEB" stroke-width="0.9"/>
<line x1="367.2" y1="382.2" x2="607.2" y2="382.2" stroke="#EBEBEB" stroke-width="0.5"/>
<line x1="367.2" y1="353.3" x2="607.2" y2="353.3" stroke="#EBEBEB" stroke-width="0.9"/>
<path d="M486.37 489.13L488 510.81L489.63 489.13L523.16 489.13L520.62 498.67L515.19 509.94L506.85 518.03L498.51 523.81L488 527.57L488 527.57L476.4 520.92L466.98 513.98L458.27 507.05L453.93 498.67L452.11 489.13Z" fill="#525252"/>
<path d="M452.29 489.13L452.66 477.57L454.29 470.35L459 464.57L465.52 460.23L472.77 458.79L478.94 460.23L482.93 466.01L484.92 474.68L485.82 489.13Z" fill="#4169E1"/>
<path d="M489.99 489.13L490.54 470.35L491.62 454.45L494.16 445.78L498.88 444.34L504.31 448.67L510.48 454.45L516.27 460.23L520.62 466.01L523.34 473.24L523.71 489.13Z" fill="#4169E1"/>
<g fill="#4D4D4D" fill-opacity="0.5"><circle cx="457.17" cy="500.48" r="1.85"/><circle cx="519.01" cy="500.14" r="1.85"/><circle cx="454.74" cy="499.1" r="1.85"/><circle cx="520.1" cy="499" r="1.85"/><circle cx="453.34" cy="496.29" r="1.85"/><circle cx="517.24" cy="504.71" r="1.85"/><circle cx="465.59" cy="513.37" r="1.85"/><circle cx="506.65" cy="516.71" r="1.85"/><circle cx="450.63" cy="489.44" r="1.85"/><circle cx="520.83" cy="496.6" r="1.85"/><circle cx="460.71" cy="510.05" r="1.85"/><circle cx="509.74" cy="515.35" r="1.85"/><circle cx="460.31" cy="508.69" r="1.85"/><circle cx="520.16" cy="500.19" r="1.85"/><circle cx="454.31" cy="500.79" r="1.85"/><circle cx="520.22" cy="496.06" r="1.85"/><circle cx="454.88" cy="499.29" r="1.85"/><circle cx="516.29" cy="505.52" r="1.85"/><circle cx="450.04" cy="489.17" r="1.85"/><circle cx="521.64" cy="494.63" r="1.85"/><circle cx="456.75" cy="504.34" r="1.85"/><circle cx="511.25" cy="514.62" r="1.85"/><circle cx="454.64" cy="493.45" r="1.85"/><circle cx="520.13" cy="502.25" r="1.85"/><circle cx="452.23" cy="489.87" r="1.85"/><circle cx="516.13" cy="507.93" r="1.85"/><circle cx="455.41" cy="490.72" r="1.85"/><circle cx="519.61" cy="501.95" r="1.85"/><circle cx="468.89" cy="514.44" r="1.85"/><circle cx="515.81" cy="505.8" r="1.85"/><circle cx="467.85" cy="513.57" r="1.85"/><circle cx="524.4" cy="493.62" r="1.85"/><circle cx="464.35" cy="511.9" r="1.85"/><circle cx="510.14" cy="515.32" r="1.85"/><circle cx="452.21" cy="492.85" r="1.85"/><circle cx="520.94" cy="500.61" r="1.85"/><circle cx="460.37" cy="508.67" r="1.85"/><circle cx="520.77" cy="495.99" r="1.85"/><circle cx="465.11" cy="511.97" r="1.85"/><circle cx="517.54" cy="505.8" r="1.85"/><circle cx="451.9" cy="489.64" r="1.85"/><circle cx="521.74" cy="491.19" r="1.85"/><circle cx="461.01" cy="507.89" r="1.85"/><circle cx="522.64" cy="496.03" r="1.85"/><circle cx="464.77" cy="512.82" r="1.85"/><circle cx="516.95" cy="506.19" r="1.85"/><circle cx="453.34" cy="493.33" r="1.85"/><circle cx="511.38" cy="514.41" r="1.85"/><circle cx="466.95" cy="513.4" r="1.85"/><circle cx="520.69" cy="496.92" r="1.85"/><circle cx="458.63" cy="502.67" r="1.85"/><circle cx="520.93" cy="499.69" r="1.85"/><circle cx="453.25" cy="497.52" r="1.85"/><circle cx="514.41" cy="510.19" r="1.85"/><circle cx="452.08" cy="490.76" r="1.85"/><circle cx="515.03" cy="508.7" r="1.85"/><circle cx="452.37" cy="493.99" r="1.85"/><circle cx="522.67" cy="490.01" r="1.85"/><circle cx="453.42" cy="491.24" r="1.85"/><circle cx="511.72" cy="512.63" r="1.85"/><circle cx="470.28" cy="516.99" r="1.85"/><circle cx="521.49" cy="494.7" r="1.85"/><circle cx="457.2" cy="506.23" r="1.85"/><circle cx="516.25" cy="505.02" r="1.85"/><circle cx="461.16" cy="509.28" r="1.85"/><circle cx="516.09" cy="507.24" r="1.85"/><circle cx="452.87" cy="497.87" r="1.85"/><circle cx="516.15" cy="505.45" r="1.85"/><circle cx="452.33" cy="490.59" r="1.85"/><circle cx="517.37" cy="505.82" r="1.85"/><circle cx="454.33" cy="500.66" r="1.85"/><circle cx="518.91" cy="502.75" r="1.85"/><circle cx="453.02" cy="497.58" r="1.85"/><circle cx="523.4" cy="491.08" r="1.85"/><circle cx="453.1" cy="489.47" r="1.85"/><circle cx="519.6" cy="497.3" r="1.85"/><circle cx="462.8" cy="510.82" r="1.85"/><circle cx="522.78" cy="490.72" r="1.85"/><circle cx="452.97" cy="494.77" r="1.85"/><circle cx="521.24" cy="496.15" r="1.85"/><circle cx="454.59" cy="499.73" r="1.85"/><circle cx="522.21" cy="489.14" r="1.85"/><circle cx="469.1" cy="514.3" r="1.85"/><circle cx="522.18" cy="490.91" r="1.85"/><circle cx="453.6" cy="494.04" r="1.85"/><circle cx="520.91" cy="490.64" r="1.85"/><circle cx="457.22" cy="503.24" r="1.85"/><circle cx="520.4" cy="491.44" r="1.85"/><circle cx="454.8" cy="501.41" r="1.85"/><circle cx="518.82" cy="497.56" r="1.85"/><circle cx="454.56" cy="496.39" r="1.85"/><circle cx="522.1" cy="496.75" r="1.85"/><circle cx="469.19" cy="513.99" r="1.85"/><circle cx="519.95" cy="491.28" r="1.85"/><circle cx="454.43" cy="494.22" r="1.85"/><circle cx="522.11" cy="497.38" r="1.85"/><circle cx="454.79" cy="500.79" r="1.85"/><circle cx="521.54" cy="493.77" r="1.85"/><circle cx="473.2" cy="517.82" r="1.85"/><circle cx="515.78" cy="507.17" r="1.85"/><circle cx="454.7" cy="494.83" r="1.85"/><circle cx="522.81" cy="490.54" r="1.85"/><circle cx="456.95" cy="506.27" r="1.85"/><circle cx="521.6" cy="495.25" r="1.85"/><circle cx="458.58" cy="508.2" r="1.85"/><circle cx="523.5" cy="495.64" r="1.85"/><circle cx="454.26" cy="500.76" r="1.85"/><circle cx="520.86" cy="495.51" r="1.85"/><circle cx="461.71" cy="508.36" r="1.85"/><circle cx="523.59" cy="490.65" r="1.85"/><circle cx="453.6" cy="491.27" r="1.85"/><circle cx="518.86" cy="504.3" r="1.85"/><circle cx="465.32" cy="511.01" r="1.85"/><circle cx="522.48" cy="491.86" r="1.85"/><circle cx="452.31" cy="494.56" r="1.85"/><circle cx="515.11" cy="509.55" r="1.85"/><circle cx="455.01" cy="500.53" r="1.85"/><circle cx="520.01" cy="501.5" r="1.85"/><circle cx="454.44" cy="496.38" r="1.85"/><circle cx="522.42" cy="492.04" r="1.85"/><circle cx="452.58" cy="489.44" r="1.85"/><circle cx="507.36" cy="517.66" r="1.85"/><circle cx="450.9" cy="491.41" r="1.85"/><circle cx="521.35" cy="497.61" r="1.85"/><circle cx="456.91" cy="504.53" r="1.85"/><circle cx="513.86" cy="511.03" r="1.85"/><circle cx="452.81" cy="500.42" r="1.85"/><circle cx="516.96" cy="506.91" r="1.85"/><circle cx="461.51" cy="510.79" r="1.85"/><circle cx="520.12" cy="500.64" r="1.85"/><circle cx="454.58" cy="496.28" r="1.85"/><circle cx="521.34" cy="489.86" r="1.85"/><circle cx="452.86" cy="495.12" r="1.85"/><circle cx="516.74" cy="509.15" r="1.85"/><circle cx="477.13" cy="520.21" r="1.85"/><circle cx="515.87" cy="509.13" r="1.85"/><circle cx="458.53" cy="505.71" r="1.85"/><circle cx="521.95" cy="498.79" r="1.85"/><circle cx="453.49" cy="496.63" r="1.85"/><circle cx="521.06" cy="492.95" r="1.85"/><circle cx="457.19" cy="517.45" r="1.85"/><circle cx="519.17" cy="519.48" r="1.85"/><circle cx="465.52" cy="523.23" r="1.85"/><circle cx="507.94" cy="523.81" r="1.85"/><circle cx="453.56" cy="512.25" r="1.85"/><circle cx="451.75" cy="502.14" r="1.85"/><circle cx="521.35" cy="515.14" r="1.85"/></g>
<g fill="#228B22" fill-opacity="0.5"><circle cx="440.88" cy="497.8" r="1.85"/><circle cx="446.31" cy="495.49" r="1.85"/><circle cx="449.94" cy="499.25" r="1.85"/><circle cx="452.11" cy="494.33" r="1.85"/><circle cx="443.77" cy="492.02" r="1.85"/><circle cx="435.44" cy="511.09" r="1.85"/><circle cx="440.51" cy="514.85" r="1.85"/><circle cx="445.23" cy="518.03" r="1.85"/><circle cx="449.94" cy="492.02" r="1.85"/><circle cx="447.4" cy="496.36" r="1.85"/><circle cx="452.48" cy="490.58" r="1.85"/><circle cx="437.25" cy="489.71" r="1.85"/><circle cx="450.66" cy="500.69" r="1.85"/><circle cx="452.84" cy="502.14" r="1.85"/><circle cx="525.7" cy="492.89" r="1.85"/><circle cx="532.59" cy="504.16" r="1.85"/><circle cx="540.56" cy="504.16" r="1.85"/><circle cx="544.19" cy="497.51" r="1.85"/><circle cx="549.62" cy="498.96" r="1.85"/><circle cx="551.8" cy="494.04" r="1.85"/><circle cx="556.15" cy="494.04" r="1.85"/><circle cx="574.27" cy="496.93" r="1.85"/><circle cx="527.15" cy="509.94" r="1.85"/><circle cx="525.7" cy="500.11" r="1.85"/><circle cx="538.02" cy="489.71" r="1.85"/><circle cx="529.69" cy="489.71" r="1.85"/><circle cx="548.54" cy="490.86" r="1.85"/><circle cx="555.06" cy="490.86" r="1.85"/><circle cx="546" cy="492.02" r="1.85"/><circle cx="524.98" cy="496.36" r="1.85"/></g>
<g fill="#4169E1" fill-opacity="0.5"><circle cx="480.27" cy="441.01" r="1.85"/><circle cx="464.85" cy="436.71" r="1.85"/><circle cx="470.17" cy="469.98" r="1.85"/><circle cx="457.42" cy="459.02" r="1.85"/><circle cx="466.84" cy="465.64" r="1.85"/><circle cx="462.25" cy="444.29" r="1.85"/><circle cx="471.14" cy="434.24" r="1.85"/><circle cx="477.67" cy="458.09" r="1.85"/><circle cx="460.49" cy="455.14" r="1.85"/><circle cx="463" cy="458.44" r="1.85"/><circle cx="456.46" cy="468.67" r="1.85"/><circle cx="461.08" cy="420.59" r="1.85"/><circle cx="460.55" cy="461.78" r="1.85"/><circle cx="456.4" cy="466.77" r="1.85"/><circle cx="473.7" cy="446.61" r="1.85"/><circle cx="470.54" cy="470.67" r="1.85"/><circle cx="461.25" cy="461.4" r="1.85"/><circle cx="482.99" cy="463.1" r="1.85"/><circle cx="481.3" cy="450.25" r="1.85"/><circle cx="478.39" cy="450.87" r="1.85"/><circle cx="460.14" cy="466.48" r="1.85"/><circle cx="479.64" cy="469.82" r="1.85"/><circle cx="462.47" cy="462.34" r="1.85"/><circle cx="464.69" cy="447.96" r="1.85"/><circle cx="470.48" cy="433.89" r="1.85"/><circle cx="479.95" cy="433.05" r="1.85"/><circle cx="467.96" cy="468.54" r="1.85"/><circle cx="461.86" cy="467.33" r="1.85"/><circle cx="468.57" cy="458.54" r="1.85"/><circle cx="468.12" cy="447.66" r="1.85"/><circle cx="472.47" cy="466.93" r="1.85"/><circle cx="459.18" cy="447.52" r="1.85"/><circle cx="457.97" cy="468.75" r="1.85"/><circle cx="470.09" cy="426.85" r="1.85"/><circle cx="477.83" cy="460.72" r="1.85"/><circle cx="468.99" cy="461.81" r="1.85"/><circle cx="482.82" cy="459.7" r="1.85"/><circle cx="470.28" cy="426.44" r="1.85"/><circle cx="459.89" cy="465.13" r="1.85"/><circle cx="469.38" cy="461.03" r="1.85"/><circle cx="481.56" cy="456.52" r="1.85"/><circle cx="471.61" cy="461.73" r="1.85"/><circle cx="460.81" cy="430.91" r="1.85"/><circle cx="469.64" cy="467.71" r="1.85"/><circle cx="470.78" cy="470.02" r="1.85"/><circle cx="458.88" cy="449.79" r="1.85"/><circle cx="474.44" cy="463.37" r="1.85"/><circle cx="465.12" cy="469.03" r="1.85"/><circle cx="479.12" cy="438.06" r="1.85"/><circle cx="482.52" cy="452.14" r="1.85"/><circle cx="477.18" cy="468.98" r="1.85"/><circle cx="474.33" cy="456.68" r="1.85"/><circle cx="465.27" cy="466.08" r="1.85"/><circle cx="461.51" cy="470.35" r="1.85"/><circle cx="468.39" cy="470.09" r="1.85"/><circle cx="478.08" cy="468.04" r="1.85"/><circle cx="470.93" cy="461.96" r="1.85"/><circle cx="471.52" cy="465.66" r="1.85"/><circle cx="479.07" cy="461.99" r="1.85"/><circle cx="464.72" cy="468.82" r="1.85"/><circle cx="468.37" cy="458.56" r="1.85"/><circle cx="466.81" cy="447.01" r="1.85"/><circle cx="476.72" cy="446.52" r="1.85"/><circle cx="460.81" cy="454.23" r="1.85"/><circle cx="474.58" cy="441.49" r="1.85"/><circle cx="456" cy="466.87" r="1.85"/><circle cx="453.44" cy="468.59" r="1.85"/><circle cx="479.19" cy="443.37" r="1.85"/><circle cx="461.84" cy="468.23" r="1.85"/><circle cx="481.16" cy="467.88" r="1.85"/><circle cx="471.74" cy="448.58" r="1.85"/><circle cx="479.68" cy="451.5" r="1.85"/><circle cx="463.37" cy="465.09" r="1.85"/><circle cx="478.05" cy="471.56" r="1.85"/><circle cx="457.66" cy="456.87" r="1.85"/><circle cx="479.03" cy="426.87" r="1.85"/><circle cx="461.43" cy="462.63" r="1.85"/><circle cx="463.56" cy="462.7" r="1.85"/><circle cx="482.03" cy="469.07" r="1.85"/><circle cx="483.12" cy="470.33" r="1.85"/><circle cx="468.67" cy="461.36" r="1.85"/><circle cx="479.42" cy="460.85" r="1.85"/><circle cx="477.91" cy="469.14" r="1.85"/><circle cx="456.76" cy="447.94" r="1.85"/><circle cx="479.94" cy="437.77" r="1.85"/><circle cx="454.55" cy="470.96" r="1.85"/><circle cx="461.12" cy="463.73" r="1.85"/><circle cx="469.87" cy="466.64" r="1.85"/><circle cx="471.12" cy="462.37" r="1.85"/><circle cx="483.24" cy="459.84" r="1.85"/><circle cx="459.65" cy="456.09" r="1.85"/><circle cx="470.18" cy="469.19" r="1.85"/><circle cx="472.04" cy="454.3" r="1.85"/><circle cx="479.1" cy="468.97" r="1.85"/><circle cx="483.33" cy="462.44" r="1.85"/><circle cx="462.3" cy="442.7" r="1.85"/><circle cx="459.21" cy="455.93" r="1.85"/><circle cx="471.95" cy="458.88" r="1.85"/><circle cx="469.04" cy="459.89" r="1.85"/><circle cx="464.8" cy="419.04" r="1.85"/><circle cx="456.21" cy="467.9" r="1.85"/><circle cx="461.73" cy="454.05" r="1.85"/><circle cx="472.13" cy="449.87" r="1.85"/><circle cx="460.38" cy="442.29" r="1.85"/><circle cx="461.79" cy="456.36" r="1.85"/><circle cx="472.06" cy="452.94" r="1.85"/><circle cx="481.36" cy="455.11" r="1.85"/><circle cx="469.83" cy="466.35" r="1.85"/><circle cx="473.19" cy="471.65" r="1.85"/><circle cx="465.67" cy="458.55" r="1.85"/><circle cx="455.13" cy="468.36" r="1.85"/><circle cx="473.88" cy="457.52" r="1.85"/><circle cx="467.28" cy="457.77" r="1.85"/><circle cx="472.32" cy="461.89" r="1.85"/><circle cx="463.47" cy="458.42" r="1.85"/><circle cx="456.27" cy="453.14" r="1.85"/><circle cx="465.03" cy="471.49" r="1.85"/><circle cx="476.16" cy="454.33" r="1.85"/><circle cx="482.44" cy="465.11" r="1.85"/><circle cx="472.6" cy="468.96" r="1.85"/><circle cx="476.47" cy="470.44" r="1.85"/><circle cx="468.74" cy="441.09" r="1.85"/><circle cx="455.27" cy="462.57" r="1.85"/><circle cx="454.7" cy="460.88" r="1.85"/><circle cx="460.36" cy="458.58" r="1.85"/><circle cx="465.64" cy="470.76" r="1.85"/><circle cx="481.97" cy="453.27" r="1.85"/><circle cx="478.35" cy="437.18" r="1.85"/><circle cx="478.83" cy="463.49" r="1.85"/><circle cx="465.75" cy="462.89" r="1.85"/><circle cx="454.74" cy="471.01" r="1.85"/><circle cx="468.15" cy="464.69" r="1.85"/><circle cx="473.05" cy="459.94" r="1.85"/><circle cx="464.1" cy="467.41" r="1.85"/><circle cx="475.43" cy="461.09" r="1.85"/><circle cx="475.07" cy="455.39" r="1.85"/><circle cx="476.66" cy="471.61" r="1.85"/><circle cx="479.43" cy="471.22" r="1.85"/><circle cx="472.48" cy="453.52" r="1.85"/><circle cx="463.7" cy="442.16" r="1.85"/><circle cx="453.36" cy="471.12" r="1.85"/><circle cx="480.29" cy="434.2" r="1.85"/><circle cx="471.75" cy="441.1" r="1.85"/><circle cx="454.98" cy="463.35" r="1.85"/><circle cx="468.09" cy="468.16" r="1.85"/><circle cx="464.93" cy="435.78" r="1.85"/><circle cx="454.78" cy="463.57" r="1.85"/><circle cx="466.84" cy="449.73" r="1.85"/><circle cx="464.84" cy="470.2" r="1.85"/><circle cx="477.81" cy="463.88" r="1.85"/><circle cx="467.79" cy="471.09" r="1.85"/><circle cx="470.5" cy="470.06" r="1.85"/><circle cx="470.53" cy="457.45" r="1.85"/><circle cx="466.3" cy="467.84" r="1.85"/><circle cx="460.63" cy="464.72" r="1.85"/><circle cx="454.46" cy="461.95" r="1.85"/><circle cx="464.99" cy="432.13" r="1.85"/><circle cx="480.66" cy="468.25" r="1.85"/><circle cx="462.73" cy="442.76" r="1.85"/><circle cx="473.25" cy="459.04" r="1.85"/><circle cx="463.16" cy="467.67" r="1.85"/><circle cx="466.44" cy="460.97" r="1.85"/><circle cx="461.95" cy="458.75" r="1.85"/><circle cx="476.52" cy="469.05" r="1.85"/><circle cx="462.28" cy="421.09" r="1.85"/><circle cx="481.64" cy="444.35" r="1.85"/><circle cx="475.85" cy="470.97" r="1.85"/><circle cx="465.27" cy="464.59" r="1.85"/><circle cx="467.41" cy="470.38" r="1.85"/><circle cx="481.61" cy="470.81" r="1.85"/><circle cx="467.85" cy="457.12" r="1.85"/><circle cx="472.85" cy="458.82" r="1.85"/><circle cx="477.6" cy="463.32" r="1.85"/><circle cx="461.47" cy="466.31" r="1.85"/><circle cx="480.92" cy="448.07" r="1.85"/><circle cx="459.1" cy="470.13" r="1.85"/><circle cx="461.47" cy="459.08" r="1.85"/><circle cx="471.11" cy="468.67" r="1.85"/><circle cx="459.32" cy="467.91" r="1.85"/><circle cx="464.27" cy="465.8" r="1.85"/><circle cx="467.39" cy="466.67" r="1.85"/><circle cx="457.78" cy="453.96" r="1.85"/><circle cx="472.87" cy="464.53" r="1.85"/><circle cx="457" cy="470.46" r="1.85"/><circle cx="481.71" cy="470.73" r="1.85"/><circle cx="469.56" cy="460.99" r="1.85"/><circle cx="474.99" cy="456.75" r="1.85"/><circle cx="481.08" cy="452.36" r="1.85"/><circle cx="463.79" cy="468.67" r="1.85"/><circle cx="474.82" cy="470.68" r="1.85"/><circle cx="463.97" cy="455" r="1.85"/><circle cx="479.74" cy="467.47" r="1.85"/><circle cx="462.06" cy="466.03" r="1.85"/><circle cx="480.46" cy="465.86" r="1.85"/><circle cx="467.41" cy="455.72" r="1.85"/><circle cx="459.29" cy="439.18" r="1.85"/><circle cx="471.57" cy="439.98" r="1.85"/><circle cx="474.83" cy="450.66" r="1.85"/><circle cx="471.91" cy="466.82" r="1.85"/><circle cx="460.77" cy="436.31" r="1.85"/><circle cx="473.05" cy="468.08" r="1.85"/><circle cx="473.03" cy="465.87" r="1.85"/><circle cx="472.31" cy="465.24" r="1.85"/><circle cx="466.8" cy="468.97" r="1.85"/><circle cx="468.46" cy="451.05" r="1.85"/><circle cx="468.02" cy="448.25" r="1.85"/><circle cx="460.75" cy="469.26" r="1.85"/><circle cx="475.44" cy="444.12" r="1.85"/><circle cx="468.16" cy="471.5" r="1.85"/><circle cx="467.12" cy="461.57" r="1.85"/><circle cx="467.25" cy="427.65" r="1.85"/><circle cx="481.32" cy="450.58" r="1.85"/><circle cx="460.66" cy="461.5" r="1.85"/><circle cx="481.75" cy="470.65" r="1.85"/><circle cx="458.33" cy="454.42" r="1.85"/><circle cx="464.51" cy="470.64" r="1.85"/><circle cx="461.1" cy="469.77" r="1.85"/><circle cx="476.51" cy="458.17" r="1.85"/><circle cx="460.62" cy="468.55" r="1.85"/><circle cx="461.28" cy="462.2" r="1.85"/><circle cx="473.81" cy="465.27" r="1.85"/><circle cx="466.84" cy="426.92" r="1.85"/><circle cx="467.93" cy="462.94" r="1.85"/><circle cx="463.56" cy="455.19" r="1.85"/><circle cx="472.25" cy="439.73" r="1.85"/><circle cx="465.2" cy="449.03" r="1.85"/><circle cx="461.74" cy="446.81" r="1.85"/><circle cx="459.37" cy="448.45" r="1.85"/><circle cx="467.27" cy="430.63" r="1.85"/><circle cx="462.89" cy="462.14" r="1.85"/><circle cx="471.68" cy="450.71" r="1.85"/><circle cx="479.55" cy="464.7" r="1.85"/><circle cx="455.81" cy="454.21" r="1.85"/><circle cx="478.93" cy="465.67" r="1.85"/><circle cx="471.09" cy="468.82" r="1.85"/><circle cx="454.51" cy="467.3" r="1.85"/><circle cx="474.67" cy="471" r="1.85"/><circle cx="464.11" cy="470.2" r="1.85"/><circle cx="478.25" cy="452.34" r="1.85"/><circle cx="469.97" cy="470.95" r="1.85"/><circle cx="457.26" cy="460.38" r="1.85"/><circle cx="480.94" cy="471.31" r="1.85"/><circle cx="477.49" cy="469.14" r="1.85"/><circle cx="462.12" cy="468.3" r="1.85"/><circle cx="477.15" cy="460.04" r="1.85"/><circle cx="475.52" cy="469.13" r="1.85"/><circle cx="460.78" cy="469.33" r="1.85"/><circle cx="467.39" cy="466.93" r="1.85"/><circle cx="470.16" cy="449.69" r="1.85"/><circle cx="456.95" cy="467.87" r="1.85"/><circle cx="473.94" cy="439.85" r="1.85"/><circle cx="455.72" cy="461.48" r="1.85"/><circle cx="477.29" cy="463.22" r="1.85"/><circle cx="454.65" cy="471.13" r="1.85"/><circle cx="472.67" cy="450.77" r="1.85"/><circle cx="468.61" cy="462.04" r="1.85"/><circle cx="453.84" cy="467.62" r="1.85"/><circle cx="476.73" cy="457.85" r="1.85"/><circle cx="469.51" cy="471.65" r="1.85"/><circle cx="459.95" cy="465.75" r="1.85"/><circle cx="466.39" cy="455.54" r="1.85"/><circle cx="479.37" cy="469.56" r="1.85"/><circle cx="476.17" cy="466.74" r="1.85"/><circle cx="469.39" cy="445.33" r="1.85"/><circle cx="455.09" cy="458.61" r="1.85"/><circle cx="467.76" cy="467.76" r="1.85"/><circle cx="460.35" cy="469.67" r="1.85"/><circle cx="458.53" cy="471.77" r="1.85"/><circle cx="461.25" cy="447.44" r="1.85"/><circle cx="475.88" cy="470.67" r="1.85"/><circle cx="480.63" cy="455.4" r="1.85"/><circle cx="469.95" cy="463.28" r="1.85"/><circle cx="468.44" cy="431.32" r="1.85"/><circle cx="474.87" cy="446.46" r="1.85"/><circle cx="471.79" cy="451.54" r="1.85"/><circle cx="480.11" cy="439.46" r="1.85"/><circle cx="477.4" cy="449.02" r="1.85"/><circle cx="468.34" cy="461.6" r="1.85"/><circle cx="458.45" cy="469.56" r="1.85"/><circle cx="474.61" cy="466.94" r="1.85"/><circle cx="474.76" cy="470.76" r="1.85"/><circle cx="462.61" cy="463.6" r="1.85"/><circle cx="463.24" cy="465.99" r="1.85"/><circle cx="472" cy="470.34" r="1.85"/><circle cx="455.11" cy="463.73" r="1.85"/><circle cx="465.57" cy="448.77" r="1.85"/><circle cx="472.51" cy="471.63" r="1.85"/><circle cx="476.71" cy="455.69" r="1.85"/><circle cx="470.34" cy="460.99" r="1.85"/><circle cx="453.19" cy="471.65" r="1.85"/><circle cx="477.48" cy="450.89" r="1.85"/><circle cx="475.23" cy="459.34" r="1.85"/><circle cx="467.71" cy="465.66" r="1.85"/><circle cx="473.8" cy="467.18" r="1.85"/><circle cx="463.91" cy="465.31" r="1.85"/><circle cx="478.01" cy="467.94" r="1.85"/><circle cx="474.14" cy="454.69" r="1.85"/><circle cx="468.83" cy="434.06" r="1.85"/><circle cx="474.07" cy="455.06" r="1.85"/><circle cx="480.49" cy="448.98" r="1.85"/><circle cx="495.34" cy="463.82" r="1.85"/><circle cx="514.81" cy="449.65" r="1.85"/><circle cx="504.95" cy="463.14" r="1.85"/><circle cx="511.71" cy="439.8" r="1.85"/><circle cx="499.39" cy="464.65" r="1.85"/><circle cx="496.28" cy="463.54" r="1.85"/><circle cx="495.1" cy="458.46" r="1.85"/><circle cx="507.42" cy="429.4" r="1.85"/><circle cx="512.8" cy="455.66" r="1.85"/><circle cx="518.25" cy="444.97" r="1.85"/><circle cx="503" cy="458.96" r="1.85"/><circle cx="493.35" cy="458.33" r="1.85"/><circle cx="514.32" cy="458.61" r="1.85"/><circle cx="518.01" cy="408" r="1.85"/><circle cx="511.8" cy="450.41" r="1.85"/><circle cx="502.59" cy="465.74" r="1.85"/><circle cx="512.77" cy="459.96" r="1.85"/><circle cx="504.12" cy="464.39" r="1.85"/><circle cx="517.09" cy="455.72" r="1.85"/><circle cx="512.22" cy="440.81" r="1.85"/><circle cx="516.26" cy="463.52" r="1.85"/><circle cx="510.71" cy="432.3" r="1.85"/><circle cx="508.15" cy="459.73" r="1.85"/><circle cx="514.6" cy="463.8" r="1.85"/><circle cx="511.02" cy="403.5" r="1.85"/><circle cx="518.64" cy="447.85" r="1.85"/><circle cx="521.81" cy="462.84" r="1.85"/><circle cx="499.41" cy="451.76" r="1.85"/><circle cx="499.95" cy="464.75" r="1.85"/><circle cx="514.37" cy="453.59" r="1.85"/><circle cx="521.34" cy="460.24" r="1.85"/><circle cx="507.01" cy="459.53" r="1.85"/><circle cx="522.7" cy="464.1" r="1.85"/><circle cx="520.54" cy="463.9" r="1.85"/><circle cx="510.2" cy="454.68" r="1.85"/><circle cx="501.25" cy="454.14" r="1.85"/><circle cx="523.3" cy="431.32" r="1.85"/><circle cx="511.9" cy="441.43" r="1.85"/><circle cx="518.06" cy="464.12" r="1.85"/><circle cx="520.34" cy="461.09" r="1.85"/><circle cx="510.32" cy="462.03" r="1.85"/><circle cx="499.85" cy="440.34" r="1.85"/><circle cx="495.52" cy="454.54" r="1.85"/><circle cx="497.88" cy="465.54" r="1.85"/><circle cx="521.96" cy="403.25" r="1.85"/><circle cx="502.78" cy="450.49" r="1.85"/><circle cx="515.68" cy="449.94" r="1.85"/><circle cx="510.99" cy="459.06" r="1.85"/><circle cx="494.75" cy="442.48" r="1.85"/><circle cx="507.01" cy="462.79" r="1.85"/><circle cx="504.43" cy="463.78" r="1.85"/><circle cx="498.53" cy="453.83" r="1.85"/><circle cx="501.15" cy="455.41" r="1.85"/><circle cx="503.32" cy="453.88" r="1.85"/><circle cx="494.64" cy="451.18" r="1.85"/><circle cx="497.94" cy="449.95" r="1.85"/><circle cx="512.62" cy="419.74" r="1.85"/><circle cx="505.56" cy="456.84" r="1.85"/><circle cx="514.18" cy="451.88" r="1.85"/><circle cx="516.2" cy="445.51" r="1.85"/><circle cx="523.36" cy="456.4" r="1.85"/><circle cx="519.32" cy="439.69" r="1.85"/><circle cx="506.17" cy="458.41" r="1.85"/><circle cx="520.66" cy="453.95" r="1.85"/><circle cx="509.1" cy="455.22" r="1.85"/><circle cx="520.6" cy="457.83" r="1.85"/><circle cx="494.38" cy="460.42" r="1.85"/><circle cx="520.56" cy="447.32" r="1.85"/><circle cx="511.59" cy="446.98" r="1.85"/><circle cx="502.98" cy="445.87" r="1.85"/><circle cx="495.45" cy="453" r="1.85"/><circle cx="506.3" cy="464.09" r="1.85"/><circle cx="505.16" cy="455.92" r="1.85"/><circle cx="513.99" cy="465.24" r="1.85"/><circle cx="500.42" cy="455.22" r="1.85"/><circle cx="504.87" cy="460.73" r="1.85"/><circle cx="494.67" cy="462.12" r="1.85"/><circle cx="522.58" cy="431.01" r="1.85"/><circle cx="519.53" cy="450.18" r="1.85"/><circle cx="517.56" cy="458.1" r="1.85"/><circle cx="515.67" cy="462.39" r="1.85"/><circle cx="520.6" cy="453.92" r="1.85"/><circle cx="517.05" cy="464.51" r="1.85"/><circle cx="509.12" cy="464.1" r="1.85"/><circle cx="496.05" cy="422.44" r="1.85"/><circle cx="501.83" cy="461.97" r="1.85"/><circle cx="494.63" cy="460.34" r="1.85"/><circle cx="518.27" cy="433.43" r="1.85"/><circle cx="503.78" cy="458.69" r="1.85"/><circle cx="494.71" cy="453.28" r="1.85"/><circle cx="520.35" cy="465.55" r="1.85"/><circle cx="508.05" cy="460.69" r="1.85"/><circle cx="522.89" cy="426.75" r="1.85"/><circle cx="499.32" cy="456.76" r="1.85"/><circle cx="521.14" cy="460.95" r="1.85"/><circle cx="500.65" cy="433.19" r="1.85"/><circle cx="504.79" cy="439.72" r="1.85"/><circle cx="498.26" cy="456.77" r="1.85"/><circle cx="523.39" cy="435.41" r="1.85"/><circle cx="512.12" cy="462.75" r="1.85"/><circle cx="519.8" cy="462.94" r="1.85"/><circle cx="495.59" cy="465.27" r="1.85"/><circle cx="503.14" cy="447.31" r="1.85"/><circle cx="519.82" cy="432.69" r="1.85"/><circle cx="497.8" cy="447.97" r="1.85"/><circle cx="521.67" cy="448.81" r="1.85"/><circle cx="495.37" cy="457.5" r="1.85"/><circle cx="502.05" cy="462.36" r="1.85"/><circle cx="499.62" cy="448.1" r="1.85"/><circle cx="499.77" cy="463.12" r="1.85"/><circle cx="517.25" cy="450.22" r="1.85"/><circle cx="513.14" cy="459.28" r="1.85"/><circle cx="511.8" cy="434.83" r="1.85"/><circle cx="501.86" cy="462.25" r="1.85"/><circle cx="514.2" cy="428.24" r="1.85"/><circle cx="512.4" cy="461.33" r="1.85"/><circle cx="523" cy="464.65" r="1.85"/><circle cx="509.1" cy="457.62" r="1.85"/><circle cx="494.54" cy="455.07" r="1.85"/><circle cx="501.95" cy="452.78" r="1.85"/><circle cx="517.43" cy="461.84" r="1.85"/><circle cx="501.22" cy="464.69" r="1.85"/><circle cx="501.25" cy="445.65" r="1.85"/><circle cx="509.56" cy="461.28" r="1.85"/><circle cx="520.33" cy="463.03" r="1.85"/><circle cx="498.65" cy="402.41" r="1.85"/><circle cx="515.91" cy="457.06" r="1.85"/><circle cx="521.35" cy="458.99" r="1.85"/><circle cx="498.56" cy="456" r="1.85"/><circle cx="512.77" cy="454.28" r="1.85"/><circle cx="513.02" cy="459.57" r="1.85"/><circle cx="509.33" cy="443.93" r="1.85"/><circle cx="518.82" cy="455.83" r="1.85"/><circle cx="509.21" cy="449.35" r="1.85"/><circle cx="500.82" cy="422.27" r="1.85"/><circle cx="498.98" cy="444.15" r="1.85"/><circle cx="500.48" cy="452.47" r="1.85"/><circle cx="516.58" cy="457.62" r="1.85"/><circle cx="517.39" cy="443.69" r="1.85"/><circle cx="507.7" cy="462.12" r="1.85"/><circle cx="510.51" cy="462.4" r="1.85"/><circle cx="494.16" cy="456.02" r="1.85"/><circle cx="514.92" cy="452.88" r="1.85"/><circle cx="519.68" cy="453.73" r="1.85"/><circle cx="497.17" cy="463.14" r="1.85"/><circle cx="507.75" cy="465.75" r="1.85"/><circle cx="506.44" cy="457.77" r="1.85"/><circle cx="517.29" cy="461.6" r="1.85"/><circle cx="520.63" cy="464.92" r="1.85"/><circle cx="509.71" cy="453.85" r="1.85"/><circle cx="501.17" cy="443.35" r="1.85"/><circle cx="502.08" cy="463.73" r="1.85"/><circle cx="502.09" cy="465.39" r="1.85"/><circle cx="509.25" cy="451.98" r="1.85"/><circle cx="510.8" cy="461.57" r="1.85"/><circle cx="517.93" cy="464.67" r="1.85"/><circle cx="500.36" cy="463.29" r="1.85"/><circle cx="513.91" cy="463.49" r="1.85"/><circle cx="517.33" cy="440.33" r="1.85"/><circle cx="505.11" cy="465.1" r="1.85"/><circle cx="499.43" cy="459.46" r="1.85"/><circle cx="497.81" cy="415.08" r="1.85"/><circle cx="516.25" cy="456.29" r="1.85"/><circle cx="501.38" cy="404.13" r="1.85"/><circle cx="515.73" cy="457.23" r="1.85"/><circle cx="499.78" cy="465.43" r="1.85"/><circle cx="499.04" cy="434.1" r="1.85"/><circle cx="501.98" cy="458.8" r="1.85"/><circle cx="495.25" cy="458.03" r="1.85"/><circle cx="523.4" cy="465.51" r="1.85"/><circle cx="515.68" cy="445.19" r="1.85"/><circle cx="500.38" cy="462.24" r="1.85"/><circle cx="500.55" cy="454.41" r="1.85"/><circle cx="521.46" cy="457.06" r="1.85"/><circle cx="503.14" cy="459.47" r="1.85"/><circle cx="513.3" cy="408.55" r="1.85"/><circle cx="504.86" cy="465.43" r="1.85"/><circle cx="495.29" cy="450.85" r="1.85"/><circle cx="514.13" cy="459.94" r="1.85"/><circle cx="511.74" cy="437.14" r="1.85"/><circle cx="508.18" cy="434.58" r="1.85"/><circle cx="518.71" cy="458.8" r="1.85"/><circle cx="516.81" cy="459.08" r="1.85"/><circle cx="503.29" cy="462.5" r="1.85"/><circle cx="509.53" cy="463.08" r="1.85"/><circle cx="498.76" cy="463.42" r="1.85"/><circle cx="507.02" cy="462.52" r="1.85"/><circle cx="506.47" cy="460.68" r="1.85"/><circle cx="519.42" cy="449.58" r="1.85"/><circle cx="504.38" cy="462.7" r="1.85"/><circle cx="513.89" cy="464.92" r="1.85"/><circle cx="501.22" cy="459.5" r="1.85"/><circle cx="497.93" cy="465.74" r="1.85"/><circle cx="504.75" cy="461.61" r="1.85"/><circle cx="515.53" cy="428.85" r="1.85"/><circle cx="503.77" cy="461.49" r="1.85"/><circle cx="521.55" cy="463.6" r="1.85"/><circle cx="516.32" cy="459.57" r="1.85"/><circle cx="520.77" cy="447.44" r="1.85"/><circle cx="502.31" cy="465.71" r="1.85"/><circle cx="495.37" cy="459" r="1.85"/><circle cx="504.22" cy="435.08" r="1.85"/><circle cx="509.37" cy="444.73" r="1.85"/><circle cx="504.59" cy="465.19" r="1.85"/><circle cx="493.81" cy="462.08" r="1.85"/><circle cx="510.94" cy="463.65" r="1.85"/><circle cx="502.01" cy="465.54" r="1.85"/><circle cx="509.56" cy="458.04" r="1.85"/><circle cx="514.39" cy="463.9" r="1.85"/><circle cx="515.03" cy="461.65" r="1.85"/><circle cx="498" cy="450.16" r="1.85"/><circle cx="501.19" cy="462.7" r="1.85"/><circle cx="505.84" cy="447.98" r="1.85"/><circle cx="519.41" cy="458.95" r="1.85"/><circle cx="501.58" cy="462.31" r="1.85"/><circle cx="499.38" cy="459.9" r="1.85"/><circle cx="493.02" cy="465.41" r="1.85"/><circle cx="510.48" cy="451.63" r="1.85"/><circle cx="522.81" cy="442.11" r="1.85"/><circle cx="513.35" cy="460.9" r="1.85"/><circle cx="501.48" cy="429.68" r="1.85"/><circle cx="513.58" cy="449.12" r="1.85"/><circle cx="519.92" cy="421.15" r="1.85"/><circle cx="512.14" cy="462.15" r="1.85"/><circle cx="505.67" cy="464.65" r="1.85"/><circle cx="494.68" cy="458.81" r="1.85"/><circle cx="502.9" cy="459.02" r="1.85"/><circle cx="501.6" cy="456.08" r="1.85"/><circle cx="504.94" cy="463.51" r="1.85"/><circle cx="498.11" cy="456.69" r="1.85"/><circle cx="500.77" cy="450.2" r="1.85"/><circle cx="502.99" cy="464.6" r="1.85"/><circle cx="497.52" cy="458.08" r="1.85"/><circle cx="514.5" cy="453.38" r="1.85"/><circle cx="514.44" cy="454.37" r="1.85"/><circle cx="504.48" cy="465.67" r="1.85"/><circle cx="494.71" cy="459.46" r="1.85"/><circle cx="494.54" cy="458.52" r="1.85"/><circle cx="510.91" cy="456.12" r="1.85"/><circle cx="502.94" cy="456.86" r="1.85"/><circle cx="493.3" cy="461.79" r="1.85"/><circle cx="520.19" cy="459.85" r="1.85"/><circle cx="501.19" cy="453.96" r="1.85"/><circle cx="499.17" cy="450.07" r="1.85"/><circle cx="511.78" cy="456.86" r="1.85"/><circle cx="506.06" cy="421.31" r="1.85"/><circle cx="521.78" cy="453.61" r="1.85"/><circle cx="512.55" cy="444.68" r="1.85"/><circle cx="505.8" cy="452" r="1.85"/><circle cx="501.35" cy="458.25" r="1.85"/><circle cx="520.03" cy="440.44" r="1.85"/><circle cx="520.75" cy="459.06" r="1.85"/><circle cx="496.5" cy="465.45" r="1.85"/><circle cx="502.49" cy="455.79" r="1.85"/><circle cx="522.82" cy="459.55" r="1.85"/><circle cx="498.4" cy="463.66" r="1.85"/><circle cx="513.61" cy="462.26" r="1.85"/><circle cx="492.57" cy="462.15" r="1.85"/><circle cx="505.15" cy="454.67" r="1.85"/><circle cx="507.84" cy="462.06" r="1.85"/><circle cx="509.97" cy="450.83" r="1.85"/><circle cx="510.31" cy="451.86" r="1.85"/><circle cx="522.62" cy="440.31" r="1.85"/><circle cx="503.4" cy="460.15" r="1.85"/><circle cx="503.91" cy="434.59" r="1.85"/><circle cx="514.47" cy="447.82" r="1.85"/><circle cx="522.45" cy="449.25" r="1.85"/><circle cx="499.05" cy="440.87" r="1.85"/><circle cx="508.2" cy="451.97" r="1.85"/><circle cx="504.44" cy="454.02" r="1.85"/><circle cx="515.77" cy="461.15" r="1.85"/><circle cx="500.37" cy="454.98" r="1.85"/><circle cx="502.63" cy="461.87" r="1.85"/><circle cx="508.42" cy="463.18" r="1.85"/><circle cx="494.35" cy="464.06" r="1.85"/><circle cx="495.49" cy="464.98" r="1.85"/><circle cx="497.11" cy="448.38" r="1.85"/><circle cx="516.56" cy="457.33" r="1.85"/><circle cx="497.99" cy="456.54" r="1.85"/><circle cx="519.78" cy="436.94" r="1.85"/><circle cx="500.21" cy="465.22" r="1.85"/><circle cx="517.33" cy="455.78" r="1.85"/><circle cx="514.81" cy="458.81" r="1.85"/><circle cx="514.73" cy="461.82" r="1.85"/><circle cx="503" cy="460.29" r="1.85"/><circle cx="518.88" cy="445.43" r="1.85"/><circle cx="510.95" cy="440.53" r="1.85"/><circle cx="514.55" cy="458.12" r="1.85"/><circle cx="518.44" cy="451.91" r="1.85"/><circle cx="497.92" cy="442.66" r="1.85"/><circle cx="513.37" cy="459.17" r="1.85"/><circle cx="498.26" cy="462.21" r="1.85"/><circle cx="510.55" cy="465.81" r="1.85"/><circle cx="522.71" cy="425.11" r="1.85"/><circle cx="513.8" cy="463.94" r="1.85"/><circle cx="512.24" cy="458.16" r="1.85"/><circle cx="521.48" cy="458.71" r="1.85"/><circle cx="499.15" cy="401.09" r="1.85"/><circle cx="497.31" cy="447.96" r="1.85"/><circle cx="501.2" cy="465.38" r="1.85"/><circle cx="523.34" cy="447.02" r="1.85"/><circle cx="502.65" cy="464.16" r="1.85"/><circle cx="509.21" cy="465.62" r="1.85"/><circle cx="504.43" cy="456.48" r="1.85"/><circle cx="517.37" cy="460.66" r="1.85"/><circle cx="502.75" cy="439.65" r="1.85"/><circle cx="511.79" cy="458.83" r="1.85"/><circle cx="522.96" cy="445.06" r="1.85"/><circle cx="514.13" cy="458.88" r="1.85"/><circle cx="517.47" cy="454.6" r="1.85"/><circle cx="497.85" cy="463.71" r="1.85"/><circle cx="521.45" cy="464.37" r="1.85"/><circle cx="507.69" cy="461.83" r="1.85"/><circle cx="502.45" cy="464.16" r="1.85"/><circle cx="509.94" cy="465.73" r="1.85"/><circle cx="511.86" cy="463.77" r="1.85"/><circle cx="499.65" cy="461.38" r="1.85"/><circle cx="504.19" cy="456.5" r="1.85"/><circle cx="494.17" cy="461.67" r="1.85"/><circle cx="520.17" cy="465.05" r="1.85"/><circle cx="495.09" cy="460.66" r="1.85"/><circle cx="507.48" cy="463.1" r="1.85"/><circle cx="519.41" cy="462.75" r="1.85"/><circle cx="505.68" cy="456.44" r="1.85"/><circle cx="505.87" cy="442.24" r="1.85"/><circle cx="509.48" cy="465.15" r="1.85"/><circle cx="512.23" cy="450.55" r="1.85"/><circle cx="521.64" cy="461.32" r="1.85"/><circle cx="523.36" cy="437.12" r="1.85"/><circle cx="518.44" cy="457.55" r="1.85"/><circle cx="499.06" cy="447.36" r="1.85"/><circle cx="497.52" cy="465.62" r="1.85"/><circle cx="494.69" cy="464.18" r="1.85"/><circle cx="515.95" cy="459.59" r="1.85"/><circle cx="508.54" cy="460.65" r="1.85"/><circle cx="498.8" cy="465.86" r="1.85"/><circle cx="496.57" cy="419.76" r="1.85"/><circle cx="517.76" cy="455.18" r="1.85"/><circle cx="515.77" cy="443.3" r="1.85"/><circle cx="517.48" cy="458.65" r="1.85"/><circle cx="485.16" cy="465.21" r="1.85"/><circle cx="488.08" cy="485.34" r="1.85"/><circle cx="483.87" cy="461.66" r="1.85"/><circle cx="491.12" cy="479.72" r="1.85"/><circle cx="485.78" cy="462.84" r="1.85"/><circle cx="490.56" cy="480.59" r="1.85"/><circle cx="484.68" cy="477.91" r="1.85"/><circle cx="492.3" cy="458.67" r="1.85"/><circle cx="484.99" cy="478.59" r="1.85"/><circle cx="490" cy="478.64" r="1.85"/><circle cx="484.7" cy="462.97" r="1.85"/><circle cx="490.92" cy="476.55" r="1.85"/><circle cx="485.31" cy="467.7" r="1.85"/><circle cx="492.18" cy="468.61" r="1.85"/><circle cx="485.24" cy="469.47" r="1.85"/><circle cx="490.57" cy="483.76" r="1.85"/><circle cx="485.35" cy="479.01" r="1.85"/><circle cx="490.98" cy="470.25" r="1.85"/><circle cx="485" cy="477.47" r="1.85"/><circle cx="492.6" cy="453.35" r="1.85"/><circle cx="486.07" cy="483.21" r="1.85"/><circle cx="490.98" cy="460.8" r="1.85"/><circle cx="486.47" cy="486" r="1.85"/><circle cx="491.75" cy="452.96" r="1.85"/><circle cx="484.64" cy="482.78" r="1.85"/><circle cx="490.95" cy="482.45" r="1.85"/><circle cx="484.75" cy="481.23" r="1.85"/><circle cx="489.02" cy="477.02" r="1.85"/><circle cx="484.26" cy="483.83" r="1.85"/><circle cx="491.98" cy="483.56" r="1.85"/><circle cx="484.38" cy="470.79" r="1.85"/><circle cx="491.12" cy="481.15" r="1.85"/><circle cx="486.24" cy="471.32" r="1.85"/><circle cx="490.25" cy="465.51" r="1.85"/><circle cx="484.95" cy="474.54" r="1.85"/><circle cx="491.43" cy="457.67" r="1.85"/><circle cx="484.05" cy="469.19" r="1.85"/><circle cx="491.1" cy="473.37" r="1.85"/><circle cx="485.53" cy="478.01" r="1.85"/><circle cx="492.05" cy="467.61" r="1.85"/><circle cx="486.26" cy="474.24" r="1.85"/><circle cx="491.04" cy="472.34" r="1.85"/><circle cx="483.79" cy="471.98" r="1.85"/><circle cx="489.34" cy="483.42" r="1.85"/><circle cx="486.5" cy="475.59" r="1.85"/><circle cx="490.53" cy="477.37" r="1.85"/><circle cx="485.76" cy="467.84" r="1.85"/><circle cx="491.58" cy="456.54" r="1.85"/><circle cx="486.53" cy="485.47" r="1.85"/><circle cx="490.38" cy="480.33" r="1.85"/><circle cx="483.9" cy="464.85" r="1.85"/><circle cx="490.18" cy="457.97" r="1.85"/><circle cx="482.66" cy="466.08" r="1.85"/><circle cx="489.95" cy="486.69" r="1.85"/><circle cx="484.75" cy="463.98" r="1.85"/><circle cx="490.98" cy="458.8" r="1.85"/><circle cx="483.92" cy="476.01" r="1.85"/><circle cx="490.03" cy="481.77" r="1.85"/><circle cx="485.35" cy="481.05" r="1.85"/><circle cx="490.82" cy="468.28" r="1.85"/><circle cx="484.43" cy="466.38" r="1.85"/><circle cx="491.53" cy="459.08" r="1.85"/><circle cx="485.01" cy="464.42" r="1.85"/><circle cx="490.79" cy="455.1" r="1.85"/><circle cx="485.36" cy="466.1" r="1.85"/><circle cx="490.75" cy="485.36" r="1.85"/><circle cx="484.96" cy="488.07" r="1.85"/><circle cx="492.76" cy="457.8" r="1.85"/><circle cx="486" cy="485.74" r="1.85"/><circle cx="492.25" cy="457.23" r="1.85"/><circle cx="485.38" cy="471.3" r="1.85"/><circle cx="491.69" cy="452.02" r="1.85"/><circle cx="484.58" cy="483.16" r="1.85"/><circle cx="490.29" cy="461.79" r="1.85"/><circle cx="485.23" cy="483.43" r="1.85"/><circle cx="489.35" cy="488.55" r="1.85"/><circle cx="485.05" cy="479.32" r="1.85"/><circle cx="491.46" cy="478.67" r="1.85"/><circle cx="485.01" cy="471.7" r="1.85"/><circle cx="489.8" cy="484.32" r="1.85"/><circle cx="468.06" cy="400.12" r="1.85"/><circle cx="470.96" cy="397.23" r="1.85"/><circle cx="474.95" cy="394.34" r="1.85"/><circle cx="509.02" cy="380.76" r="1.85"/><circle cx="518.45" cy="402.43" r="1.85"/><circle cx="510.11" cy="409.66" r="1.85"/><circle cx="503.95" cy="411.68" r="1.85"/><circle cx="478.21" cy="422.66" r="1.85"/><circle cx="521.35" cy="419.77" r="1.85"/><circle cx="522.44" cy="431.33" r="1.85"/><circle cx="523.16" cy="442.89" r="1.85"/></g>
<g fill="#EE0000" fill-opacity="0.5"><circle cx="527.06" cy="480.01" r="1.85"/><circle cx="526.73" cy="486.01" r="1.85"/><circle cx="533.52" cy="484.82" r="1.85"/><circle cx="527.25" cy="484.66" r="1.85"/><circle cx="535.37" cy="488.7" r="1.85"/><circle cx="524.84" cy="480.96" r="1.85"/><circle cx="527" cy="480.88" r="1.85"/><circle cx="530.46" cy="479.39" r="1.85"/><circle cx="536.21" cy="481.81" r="1.85"/><circle cx="530.99" cy="483.95" r="1.85"/><circle cx="541.52" cy="488.29" r="1.85"/><circle cx="530.68" cy="478.01" r="1.85"/><circle cx="525.14" cy="477.77" r="1.85"/><circle cx="527.45" cy="471.95" r="1.85"/><circle cx="527.49" cy="472.55" r="1.85"/><circle cx="527.8" cy="480.57" r="1.85"/><circle cx="530.82" cy="485.65" r="1.85"/><circle cx="524.66" cy="477.38" r="1.85"/><circle cx="526.75" cy="488.12" r="1.85"/><circle cx="529.4" cy="485.7" r="1.85"/><circle cx="541.05" cy="481.31" r="1.85"/><circle cx="527.23" cy="476.25" r="1.85"/><circle cx="526.8" cy="483.4" r="1.85"/><circle cx="527.53" cy="486.69" r="1.85"/><circle cx="528.62" cy="485.1" r="1.85"/><circle cx="530.07" cy="485.34" r="1.85"/><circle cx="530.31" cy="473.87" r="1.85"/><circle cx="531.92" cy="483.25" r="1.85"/><circle cx="536.78" cy="478.33" r="1.85"/><circle cx="530.11" cy="484.78" r="1.85"/><circle cx="532.44" cy="479.27" r="1.85"/><circle cx="527.49" cy="482.17" r="1.85"/><circle cx="538.45" cy="476.45" r="1.85"/><circle cx="534.41" cy="487.34" r="1.85"/><circle cx="530.99" cy="487.55" r="1.85"/><circle cx="530.42" cy="487.47" r="1.85"/><circle cx="528.97" cy="478.74" r="1.85"/><circle cx="543.76" cy="484.74" r="1.85"/><circle cx="531.51" cy="488.73" r="1.85"/><circle cx="529.23" cy="478.07" r="1.85"/><circle cx="531.88" cy="460.4" r="1.85"/><circle cx="531.63" cy="485.21" r="1.85"/><circle cx="532.87" cy="481.77" r="1.85"/><circle cx="528.62" cy="463.41" r="1.85"/><circle cx="526.01" cy="481.07" r="1.85"/><circle cx="528.78" cy="482.33" r="1.85"/><circle cx="524.41" cy="485.51" r="1.85"/><circle cx="529.48" cy="478.26" r="1.85"/><circle cx="532.79" cy="479.17" r="1.85"/><circle cx="524.53" cy="473.3" r="1.85"/><circle cx="525.7" cy="441.83" r="1.85"/><circle cx="527.09" cy="451.54" r="1.85"/><circle cx="532.08" cy="454.87" r="1.85"/><circle cx="536.8" cy="457.64" r="1.85"/><circle cx="529.86" cy="466.8" r="1.85"/><circle cx="534.85" cy="465.41" r="1.85"/><circle cx="539.57" cy="466.8" r="1.85"/><circle cx="543.73" cy="468.18" r="1.85"/><circle cx="547.89" cy="461.25" r="1.85"/><circle cx="552.05" cy="458.47" r="1.85"/><circle cx="558.99" cy="462.64" r="1.85"/><circle cx="560.37" cy="469.57" r="1.85"/><circle cx="563.15" cy="472.34" r="1.85"/><circle cx="571.47" cy="473.18" r="1.85"/><circle cx="581.18" cy="477.89" r="1.85"/><circle cx="594.22" cy="481.22" r="1.85"/><circle cx="558.99" cy="414.65" r="1.85"/><circle cx="527.09" cy="472.34" r="1.85"/><circle cx="546.5" cy="473.73" r="1.85"/><circle cx="550.67" cy="476.5" r="1.85"/><circle cx="556.21" cy="477.89" r="1.85"/><circle cx="557.6" cy="482.05" r="1.85"/><circle cx="561.76" cy="479.28" r="1.85"/><circle cx="565.92" cy="481.22" r="1.85"/><circle cx="568.7" cy="482.05" r="1.85"/><circle cx="553.44" cy="483.44" r="1.85"/><circle cx="547.89" cy="482.05" r="1.85"/><circle cx="540.96" cy="482.05" r="1.85"/><circle cx="536.8" cy="477.89" r="1.85"/><circle cx="532.64" cy="473.73" r="1.85"/><circle cx="545.12" cy="477.89" r="1.85"/><circle cx="556.21" cy="472.34" r="1.85"/><circle cx="539.57" cy="473.73" r="1.85"/><circle cx="552.05" cy="479.28" r="1.85"/><circle cx="560.37" cy="486.21" r="1.85"/><circle cx="549.28" cy="486.21" r="1.85"/><circle cx="542.34" cy="486.21" r="1.85"/><circle cx="450.25" cy="468.28" r="1.85"/><circle cx="445.8" cy="479.81" r="1.85"/><circle cx="437.45" cy="486.75" r="1.85"/><circle cx="437.26" cy="480.31" r="1.85"/><circle cx="445.08" cy="487.42" r="1.85"/><circle cx="443.02" cy="485.78" r="1.85"/><circle cx="441.96" cy="475.35" r="1.85"/><circle cx="449" cy="475.44" r="1.85"/><circle cx="445.09" cy="478.04" r="1.85"/><circle cx="449.61" cy="485.33" r="1.85"/><circle cx="445.72" cy="488.35" r="1.85"/><circle cx="450.81" cy="480.13" r="1.85"/><circle cx="449.67" cy="487.04" r="1.85"/><circle cx="450.15" cy="476.1" r="1.85"/><circle cx="444.24" cy="484.32" r="1.85"/><circle cx="449.74" cy="484.54" r="1.85"/><circle cx="449.28" cy="483.44" r="1.85"/><circle cx="443.06" cy="486.38" r="1.85"/><circle cx="443.45" cy="479.86" r="1.85"/><circle cx="439.5" cy="465.53" r="1.85"/><circle cx="450.84" cy="488.21" r="1.85"/><circle cx="444.14" cy="470.69" r="1.85"/><circle cx="450.63" cy="470.05" r="1.85"/><circle cx="446.81" cy="476.69" r="1.85"/><circle cx="448.3" cy="488.08" r="1.85"/><circle cx="445.83" cy="459.13" r="1.85"/><circle cx="442.99" cy="470.7" r="1.85"/><circle cx="444.54" cy="485.54" r="1.85"/><circle cx="446.78" cy="484.67" r="1.85"/><circle cx="439.35" cy="471.56" r="1.85"/><circle cx="447.76" cy="476.75" r="1.85"/><circle cx="443.17" cy="468.27" r="1.85"/><circle cx="442.88" cy="483.94" r="1.85"/><circle cx="436.06" cy="488.97" r="1.85"/><circle cx="446.93" cy="482.83" r="1.85"/><circle cx="451.37" cy="479.77" r="1.85"/><circle cx="446.57" cy="479.64" r="1.85"/><circle cx="444.99" cy="487.47" r="1.85"/><circle cx="444.56" cy="483.51" r="1.85"/><circle cx="438.63" cy="482.06" r="1.85"/><circle cx="443.53" cy="483.51" r="1.85"/><circle cx="444.75" cy="485.52" r="1.85"/><circle cx="451.18" cy="483.66" r="1.85"/><circle cx="447.38" cy="481.53" r="1.85"/><circle cx="446.53" cy="488.25" r="1.85"/><circle cx="451.72" cy="475.1" r="1.85"/><circle cx="444.35" cy="488.43" r="1.85"/><circle cx="450.91" cy="488.83" r="1.85"/><circle cx="436.38" cy="472.03" r="1.85"/><circle cx="445.25" cy="476.88" r="1.85"/><circle cx="447.58" cy="481.59" r="1.85"/><circle cx="444.27" cy="478.87" r="1.85"/><circle cx="448.36" cy="476.06" r="1.85"/><circle cx="439.67" cy="487.07" r="1.85"/><circle cx="448.73" cy="487.38" r="1.85"/><circle cx="451.68" cy="479.5" r="1.85"/><circle cx="449.59" cy="476.87" r="1.85"/><circle cx="447.06" cy="479.64" r="1.85"/><circle cx="449.31" cy="471.27" r="1.85"/><circle cx="433.82" cy="471.26" r="1.85"/><circle cx="448.58" cy="479.69" r="1.85"/><circle cx="446.24" cy="468.66" r="1.85"/><circle cx="449.27" cy="472.23" r="1.85"/><circle cx="440.21" cy="481.94" r="1.85"/><circle cx="442.06" cy="484.09" r="1.85"/><circle cx="436.03" cy="480.19" r="1.85"/><circle cx="450.76" cy="487.16" r="1.85"/><circle cx="440.65" cy="480.99" r="1.85"/><circle cx="451.08" cy="488.51" r="1.85"/><circle cx="451.13" cy="476.54" r="1.85"/><circle cx="442.85" cy="457.65" r="1.85"/><circle cx="449.27" cy="486.74" r="1.85"/><circle cx="450.22" cy="476.3" r="1.85"/><circle cx="451.68" cy="477.31" r="1.85"/><circle cx="444.4" cy="484.93" r="1.85"/><circle cx="447.05" cy="481.93" r="1.85"/><circle cx="451.48" cy="484.48" r="1.85"/><circle cx="441.49" cy="473.82" r="1.85"/><circle cx="447.16" cy="475.9" r="1.85"/><circle cx="448.99" cy="485.15" r="1.85"/><circle cx="445.12" cy="461.14" r="1.85"/><circle cx="436.52" cy="479" r="1.85"/><circle cx="449.94" cy="476.94" r="1.85"/><circle cx="438.25" cy="483.88" r="1.85"/><circle cx="441.21" cy="471.85" r="1.85"/><circle cx="449.95" cy="488.6" r="1.85"/><circle cx="445.33" cy="484.23" r="1.85"/><circle cx="444.14" cy="464.36" r="1.85"/><circle cx="440.67" cy="488.39" r="1.85"/><circle cx="442.15" cy="475.49" r="1.85"/><circle cx="442.33" cy="476.86" r="1.85"/><circle cx="446.93" cy="475.18" r="1.85"/><circle cx="449.77" cy="478.44" r="1.85"/><circle cx="448.28" cy="479.48" r="1.85"/><circle cx="444.38" cy="481.14" r="1.85"/><circle cx="444.5" cy="478.91" r="1.85"/><circle cx="448.01" cy="479.57" r="1.85"/><circle cx="444.58" cy="482.15" r="1.85"/><circle cx="445.33" cy="487.81" r="1.85"/><circle cx="450.03" cy="480.75" r="1.85"/><circle cx="450.92" cy="469.53" r="1.85"/><circle cx="446.77" cy="484.88" r="1.85"/><circle cx="439.3" cy="480.24" r="1.85"/><circle cx="443.48" cy="475.72" r="1.85"/><circle cx="442.58" cy="482.23" r="1.85"/><circle cx="433.34" cy="477.03" r="1.85"/><circle cx="445.01" cy="481.93" r="1.85"/><circle cx="446.51" cy="488.4" r="1.85"/><circle cx="451.68" cy="483.49" r="1.85"/><circle cx="446.86" cy="467.06" r="1.85"/><circle cx="440.79" cy="485.02" r="1.85"/><circle cx="443.4" cy="482.75" r="1.85"/><circle cx="449.68" cy="483.1" r="1.85"/><circle cx="440" cy="482.85" r="1.85"/><circle cx="450.62" cy="483.96" r="1.85"/><circle cx="450.67" cy="480.8" r="1.85"/><circle cx="448.94" cy="474.87" r="1.85"/><circle cx="448.91" cy="485.21" r="1.85"/><circle cx="450.86" cy="473.16" r="1.85"/><circle cx="438.47" cy="472.85" r="1.85"/><circle cx="449.18" cy="478.41" r="1.85"/><circle cx="440.75" cy="483.28" r="1.85"/><circle cx="448.11" cy="465.95" r="1.85"/><circle cx="450.93" cy="479.71" r="1.85"/><circle cx="451.74" cy="486.67" r="1.85"/><circle cx="446.36" cy="486.98" r="1.85"/><circle cx="450.27" cy="480.2" r="1.85"/><circle cx="446.09" cy="478.85" r="1.85"/><circle cx="450.91" cy="479.29" r="1.85"/><circle cx="450.26" cy="474.87" r="1.85"/><circle cx="448.74" cy="484.02" r="1.85"/><circle cx="442.7" cy="470.72" r="1.85"/><circle cx="444.73" cy="479.48" r="1.85"/><circle cx="450.85" cy="474.2" r="1.85"/><circle cx="443.03" cy="466.14" r="1.85"/><circle cx="450.86" cy="479.83" r="1.85"/><circle cx="435.7" cy="479.58" r="1.85"/><circle cx="443.45" cy="472.91" r="1.85"/><circle cx="450.92" cy="475.87" r="1.85"/><circle cx="443.7" cy="474.87" r="1.85"/><circle cx="443.68" cy="484.13" r="1.85"/><circle cx="445.6" cy="484.6" r="1.85"/><circle cx="449.77" cy="459.62" r="1.85"/><circle cx="438.5" cy="470.71" r="1.85"/><circle cx="450.21" cy="485.22" r="1.85"/><circle cx="449.01" cy="485.87" r="1.85"/><circle cx="448.39" cy="486.68" r="1.85"/><circle cx="445.53" cy="488.4" r="1.85"/><circle cx="449.96" cy="486.02" r="1.85"/><circle cx="450.39" cy="485.19" r="1.85"/><circle cx="401" cy="487.4" r="1.85"/><circle cx="408.25" cy="481.62" r="1.85"/><circle cx="413.69" cy="480.46" r="1.85"/><circle cx="419.12" cy="479.59" r="1.85"/><circle cx="424.56" cy="480.46" r="1.85"/><circle cx="430" cy="476.13" r="1.85"/><circle cx="422.75" cy="464.57" r="1.85"/><circle cx="428.19" cy="457.34" r="1.85"/><circle cx="439.06" cy="427.86" r="1.85"/><circle cx="410.06" cy="433.64" r="1.85"/><circle cx="433.62" cy="441.45" r="1.85"/><circle cx="435.44" cy="453.01" r="1.85"/><circle cx="440.88" cy="463.12" r="1.85"/><circle cx="426.38" cy="437.11" r="1.85"/><circle cx="448.12" cy="441.45" r="1.85"/><circle cx="451.75" cy="438.56" r="1.85"/><circle cx="437.25" cy="468.9" r="1.85"/><circle cx="444.5" cy="447.23" r="1.85"/><circle cx="428.19" cy="453.01" r="1.85"/></g>
<line x1="451.75" y1="345.4" x2="451.75" y2="534.7" stroke="#8C8C8C" stroke-width="0.8" stroke-dasharray="3.5 2.5"/>
<line x1="524.25" y1="345.4" x2="524.25" y2="534.7" stroke="#6E6E6E" stroke-width="0.8" stroke-dasharray="3.5 2.5"/>
<line x1="367.2" y1="489.13" x2="607.2" y2="489.13" stroke="#6E6E6E" stroke-width="0.8" stroke-dasharray="3.5 2.5"/>
<line x1="367.2" y1="345.4" x2="367.2" y2="535.2" stroke="#000" stroke-width="1"/>
<line x1="367.2" y1="534.7" x2="607.2" y2="534.7" stroke="#000" stroke-width="1"/>
<line x1="364.2" y1="526.7" x2="367.2" y2="526.7" stroke="#000" stroke-width="0.9"/>
<text x="361.3" y="530.4" font-size="10.4" text-anchor="end" fill="#4D4D4D">0</text>
<line x1="364.2" y1="468.9" x2="367.2" y2="468.9" stroke="#000" stroke-width="0.9"/>
<text x="361.3" y="472.6" font-size="10.4" text-anchor="end" fill="#4D4D4D">2</text>
<line x1="364.2" y1="411.1" x2="367.2" y2="411.1" stroke="#000" stroke-width="0.9"/>
<text x="361.3" y="414.8" font-size="10.4" text-anchor="end" fill="#4D4D4D">4</text>
<line x1="364.2" y1="353.3" x2="367.2" y2="353.3" stroke="#000" stroke-width="0.9"/>
<text x="361.3" y="357" font-size="10.4" text-anchor="end" fill="#4D4D4D">6</text>
<line x1="415.5" y1="534.7" x2="415.5" y2="537.7" stroke="#000" stroke-width="0.9"/>
<text x="415.5" y="548.1" font-size="10.4" text-anchor="middle" fill="#4D4D4D">-2</text>
<line x1="488" y1="534.7" x2="488" y2="537.7" stroke="#000" stroke-width="0.9"/>
<text x="488" y="548.1" font-size="10.4" text-anchor="middle" fill="#4D4D4D">0</text>
<line x1="560.5" y1="534.7" x2="560.5" y2="537.7" stroke="#000" stroke-width="0.9"/>
<text x="560.5" y="548.1" font-size="10.4" text-anchor="middle" fill="#4D4D4D">2</text>
<text x="487.5" y="557.8" font-size="6.5" text-anchor="middle">Log2 Fold Change</text>
<text transform="translate(351.6,439.9) rotate(-90)" font-size="6.5" text-anchor="middle" fill="#000">-Log10 P-value</text>
<line x1="400.5" y1="441.4" x2="427" y2="462.5" stroke="#000" stroke-width="0.6"/>
<line x1="413.1" y1="452.8" x2="426.2" y2="461.6" stroke="#000" stroke-width="0.6"/>
<line x1="414" y1="453.3" x2="427.5" y2="463" stroke="#000" stroke-width="0.6"/>
<line x1="431.1" y1="466" x2="442.1" y2="474.7" stroke="#000" stroke-width="0.6"/>
<line x1="431.1" y1="466.6" x2="441.5" y2="475.5" stroke="#000" stroke-width="0.6"/>
<line x1="405.4" y1="478" x2="420.2" y2="478" stroke="#000" stroke-width="0.6"/>
<line x1="454.1" y1="479.1" x2="444.8" y2="476.4" stroke="#000" stroke-width="0.6"/>
<line x1="460.7" y1="467.6" x2="451.4" y2="467.1" stroke="#000" stroke-width="0.6"/>
<line x1="433.9" y1="492.3" x2="439.9" y2="476.9" stroke="#000" stroke-width="0.6"/>
<line x1="446.5" y1="491.2" x2="445.4" y2="481.3" stroke="#000" stroke-width="0.6"/>
<line x1="443.7" y1="460" x2="442.1" y2="463.8" stroke="#000" stroke-width="0.6"/>
<line x1="435.5" y1="450.1" x2="435.5" y2="452.3" stroke="#000" stroke-width="0.6"/>
<line x1="429.5" y1="438.1" x2="432.2" y2="440.3" stroke="#000" stroke-width="0.6"/>
<line x1="416.9" y1="470.4" x2="426.8" y2="473.7" stroke="#000" stroke-width="0.6"/>
<rect x="411.4" y="430.4" width="22.5" height="7.7" fill="#fff" stroke="#111" stroke-width="0.55" rx="0.9"/>
<text x="422.65" y="436.45" font-size="6.2" text-anchor="middle">IFITM3</text>
<rect x="378.9" y="437.6" width="21.5" height="7.7" fill="#fff" stroke="#111" stroke-width="0.55" rx="0.9"/>
<text x="389.65" y="443.65" font-size="6.2" text-anchor="middle">GCH1</text>
<rect x="418.5" y="442.4" width="30.2" height="7.7" fill="#fff" stroke="#111" stroke-width="0.55" rx="0.9"/>
<text x="433.6" y="448.45" font-size="6.2" text-anchor="middle">MARCKS</text>
<rect x="396.6" y="449.6" width="16.5" height="7.6" fill="#fff" stroke="#111" stroke-width="0.55" rx="0.9"/>
<text x="404.85" y="455.6" font-size="6.2" text-anchor="middle">GCA</text>
<rect x="435.5" y="452.3" width="20.3" height="7.7" fill="#fff" stroke="#111" stroke-width="0.55" rx="0.9"/>
<text x="445.65" y="458.35" font-size="6.2" text-anchor="middle">CCR1</text>
<rect x="368.6" y="462.2" width="34.6" height="7.6" fill="#fff" stroke="#111" stroke-width="0.55" rx="0.9"/>
<text x="385.9" y="468.2" font-size="6.2" text-anchor="middle">APOBEC3A</text>
<rect x="403.8" y="462.2" width="27.3" height="7.6" fill="#fff" stroke="#111" stroke-width="0.55" rx="0.9"/>
<text x="417.45" y="468.2" font-size="6.2" text-anchor="middle">RASSF4</text>
<rect x="460.7" y="463.8" width="24.9" height="7.7" fill="#fff" stroke="#111" stroke-width="0.55" rx="0.9"/>
<text x="473.15" y="469.85" font-size="6.2" text-anchor="middle">IGFBP2</text>
<rect x="385.9" y="474.1" width="18.1" height="7.7" fill="#fff" stroke="#111" stroke-width="0.55" rx="0.9"/>
<text x="394.95" y="480.15" font-size="6.2" text-anchor="middle">IFIT2</text>
<rect x="454.1" y="476.6" width="23.3" height="7.7" fill="#fff" stroke="#111" stroke-width="0.55" rx="0.9"/>
<text x="465.75" y="482.65" font-size="6.2" text-anchor="middle">EPSTI1</text>
<rect x="403.8" y="491" width="29.5" height="7.4" fill="#fff" stroke="#111" stroke-width="0.55" rx="0.9"/>
<text x="418.55" y="496.9" font-size="6.2" text-anchor="middle">SLC15A3</text>
<rect x="437.7" y="491.2" width="17.5" height="7.6" fill="#fff" stroke="#111" stroke-width="0.55" rx="0.9"/>
<text x="446.45" y="497.2" font-size="6.2" text-anchor="middle">IFIT1</text>
<rect x="538.2" y="343.5" width="106.6" height="51.9" fill="#fff" stroke="#4A5580" stroke-width="0.6"/>
<circle cx="550.9" cy="358.3" r="4.7" fill="#A6A6A6"/>
<circle cx="591.3" cy="358.3" r="4.7" fill="#91C591"/>
<circle cx="550.9" cy="385.3" r="4.7" fill="#A0B4F0"/>
<circle cx="606.9" cy="385.3" r="4.7" fill="#F68080"/>
<text x="565.7" y="361" font-size="7.6" fill="#111">NS</text>
<text x="606.4" y="361" font-size="7.6" fill="#111">Log2 FC</text>
<text x="565.7" y="388" font-size="7.6" fill="#111">P-value</text>
<text x="621.7" y="388" font-size="7.6" fill="#111">Both</text>
<text x="8.3" y="415.4" font-size="14" font-weight="bold">e</text>
<text x="152" y="396" font-size="6.4" text-anchor="middle" font-weight="bold">Samples</text>
<rect x="39.4" y="437.7" width="20.22" height="7.97" fill="#E0E0FF"/>
<rect x="59.62" y="437.7" width="20.22" height="7.97" fill="#B2B2FF"/>
<rect x="79.84" y="437.7" width="20.22" height="7.97" fill="#FFBABA"/>
<rect x="100.05" y="437.7" width="20.22" height="7.97" fill="#FFE0E0"/>
<rect x="120.27" y="437.7" width="20.22" height="7.97" fill="#9191FF"/>
<rect x="140.49" y="437.7" width="20.22" height="7.97" fill="#7C7CFF"/>
<rect x="160.71" y="437.7" width="20.22" height="7.97" fill="#9191FF"/>
<rect x="180.93" y="437.7" width="20.22" height="7.97" fill="#FF5656"/>
<rect x="201.15" y="437.7" width="20.22" height="7.97" fill="#A6A6FF"/>
<rect x="221.36" y="437.7" width="20.22" height="7.97" fill="#FF7171"/>
<rect x="241.58" y="437.7" width="20.22" height="7.97" fill="#FF1D1D"/>
<rect x="39.4" y="445.67" width="20.22" height="7.97" fill="#5050FF"/>
<rect x="59.62" y="445.67" width="20.22" height="7.97" fill="#B2B2FF"/>
<rect x="79.84" y="445.67" width="20.22" height="7.97" fill="#CECEFF"/>
<rect x="100.05" y="445.67" width="20.22" height="7.97" fill="#BABAFF"/>
<rect x="120.27" y="445.67" width="20.22" height="7.97" fill="#FFE0E0"/>
<rect x="140.49" y="445.67" width="20.22" height="7.97" fill="#9191FF"/>
<rect x="160.71" y="445.67" width="20.22" height="7.97" fill="#FFFFFF"/>
<rect x="180.93" y="445.67" width="20.22" height="7.97" fill="#FF0000"/>
<rect x="201.15" y="445.67" width="20.22" height="7.97" fill="#FFD7D7"/>
<rect x="221.36" y="445.67" width="20.22" height="7.97" fill="#FF5656"/>
<rect x="241.58" y="445.67" width="20.22" height="7.97" fill="#FFA6A6"/>
<rect x="39.4" y="453.64" width="20.22" height="7.97" fill="#4343FF"/>
<rect x="59.62" y="453.64" width="20.22" height="7.97" fill="#B2B2FF"/>
<rect x="79.84" y="453.64" width="20.22" height="7.97" fill="#FFCECE"/>
<rect x="100.05" y="453.64" width="20.22" height="7.97" fill="#CECEFF"/>
<rect x="120.27" y="453.64" width="20.22" height="7.97" fill="#FFCECE"/>
<rect x="140.49" y="453.64" width="20.22" height="7.97" fill="#9191FF"/>
<rect x="160.71" y="453.64" width="20.22" height="7.97" fill="#BABAFF"/>
<rect x="180.93" y="453.64" width="20.22" height="7.97" fill="#FF1D1D"/>
<rect x="201.15" y="453.64" width="20.22" height="7.97" fill="#FFFFFF"/>
<rect x="221.36" y="453.64" width="20.22" height="7.97" fill="#FF5656"/>
<rect x="241.58" y="453.64" width="20.22" height="7.97" fill="#FF8C8C"/>
<rect x="39.4" y="461.61" width="20.22" height="7.97" fill="#9191FF"/>
<rect x="59.62" y="461.61" width="20.22" height="7.97" fill="#A6A6FF"/>
<rect x="79.84" y="461.61" width="20.22" height="7.97" fill="#FFA6A6"/>
<rect x="100.05" y="461.61" width="20.22" height="7.97" fill="#A6A6FF"/>
<rect x="120.27" y="461.61" width="20.22" height="7.97" fill="#FFBABA"/>
<rect x="140.49" y="461.61" width="20.22" height="7.97" fill="#7C7CFF"/>
<rect x="160.71" y="461.61" width="20.22" height="7.97" fill="#A6A6FF"/>
<rect x="180.93" y="461.61" width="20.22" height="7.97" fill="#FF1D1D"/>
<rect x="201.15" y="461.61" width="20.22" height="7.97" fill="#FFFFFF"/>
<rect x="221.36" y="461.61" width="20.22" height="7.97" fill="#FF5656"/>
<rect x="241.58" y="461.61" width="20.22" height="7.97" fill="#FFBFBF"/>
<rect x="39.4" y="469.57" width="20.22" height="7.97" fill="#9191FF"/>
<rect x="59.62" y="469.57" width="20.22" height="7.97" fill="#F1F1FF"/>
<rect x="79.84" y="469.57" width="20.22" height="7.97" fill="#CECEFF"/>
<rect x="100.05" y="469.57" width="20.22" height="7.97" fill="#CECEFF"/>
<rect x="120.27" y="469.57" width="20.22" height="7.97" fill="#9191FF"/>
<rect x="140.49" y="469.57" width="20.22" height="7.97" fill="#7C7CFF"/>
<rect x="160.71" y="469.57" width="20.22" height="7.97" fill="#F1F1FF"/>
<rect x="180.93" y="469.57" width="20.22" height="7.97" fill="#FF3A3A"/>
<rect x="201.15" y="469.57" width="20.22" height="7.97" fill="#FF7171"/>
<rect x="221.36" y="469.57" width="20.22" height="7.97" fill="#FF5656"/>
<rect x="241.58" y="469.57" width="20.22" height="7.97" fill="#FF7171"/>
<rect x="39.4" y="477.54" width="20.22" height="7.97" fill="#9191FF"/>
<rect x="59.62" y="477.54" width="20.22" height="7.97" fill="#F1F1FF"/>
<rect x="79.84" y="477.54" width="20.22" height="7.97" fill="#F1F1FF"/>
<rect x="100.05" y="477.54" width="20.22" height="7.97" fill="#E0E0FF"/>
<rect x="120.27" y="477.54" width="20.22" height="7.97" fill="#CECEFF"/>
<rect x="140.49" y="477.54" width="20.22" height="7.97" fill="#6666FF"/>
<rect x="160.71" y="477.54" width="20.22" height="7.97" fill="#CECEFF"/>
<rect x="180.93" y="477.54" width="20.22" height="7.97" fill="#FF3A3A"/>
<rect x="201.15" y="477.54" width="20.22" height="7.97" fill="#FFD7D7"/>
<rect x="221.36" y="477.54" width="20.22" height="7.97" fill="#FF5656"/>
<rect x="241.58" y="477.54" width="20.22" height="7.97" fill="#FF7171"/>
<rect x="39.4" y="485.51" width="20.22" height="7.97" fill="#9191FF"/>
<rect x="59.62" y="485.51" width="20.22" height="7.97" fill="#FFBABA"/>
<rect x="79.84" y="485.51" width="20.22" height="7.97" fill="#E0E0FF"/>
<rect x="100.05" y="485.51" width="20.22" height="7.97" fill="#A6A6FF"/>
<rect x="120.27" y="485.51" width="20.22" height="7.97" fill="#9191FF"/>
<rect x="140.49" y="485.51" width="20.22" height="7.97" fill="#CECEFF"/>
<rect x="160.71" y="485.51" width="20.22" height="7.97" fill="#A6A6FF"/>
<rect x="180.93" y="485.51" width="20.22" height="7.97" fill="#FF1D1D"/>
<rect x="201.15" y="485.51" width="20.22" height="7.97" fill="#FFBFBF"/>
<rect x="221.36" y="485.51" width="20.22" height="7.97" fill="#FF7171"/>
<rect x="241.58" y="485.51" width="20.22" height="7.97" fill="#FF7171"/>
<rect x="39.4" y="493.48" width="20.22" height="7.97" fill="#CECEFF"/>
<rect x="59.62" y="493.48" width="20.22" height="7.97" fill="#FFF1F1"/>
<rect x="79.84" y="493.48" width="20.22" height="7.97" fill="#E0E0FF"/>
<rect x="100.05" y="493.48" width="20.22" height="7.97" fill="#1515FF"/>
<rect x="120.27" y="493.48" width="20.22" height="7.97" fill="#BABAFF"/>
<rect x="140.49" y="493.48" width="20.22" height="7.97" fill="#CECEFF"/>
<rect x="160.71" y="493.48" width="20.22" height="7.97" fill="#CECEFF"/>
<rect x="180.93" y="493.48" width="20.22" height="7.97" fill="#FF1D1D"/>
<rect x="201.15" y="493.48" width="20.22" height="7.97" fill="#FFA6A6"/>
<rect x="221.36" y="493.48" width="20.22" height="7.97" fill="#FFA6A6"/>
<rect x="241.58" y="493.48" width="20.22" height="7.97" fill="#FF8C8C"/>
<rect x="39.4" y="501.45" width="20.22" height="7.97" fill="#7C7CFF"/>
<rect x="59.62" y="501.45" width="20.22" height="7.97" fill="#FFE0E0"/>
<rect x="79.84" y="501.45" width="20.22" height="7.97" fill="#E0E0FF"/>
<rect x="100.05" y="501.45" width="20.22" height="7.97" fill="#6666FF"/>
<rect x="120.27" y="501.45" width="20.22" height="7.97" fill="#E0E0FF"/>
<rect x="140.49" y="501.45" width="20.22" height="7.97" fill="#E0E0FF"/>
<rect x="160.71" y="501.45" width="20.22" height="7.97" fill="#BABAFF"/>
<rect x="180.93" y="501.45" width="20.22" height="7.97" fill="#FF1D1D"/>
<rect x="201.15" y="501.45" width="20.22" height="7.97" fill="#FF8C8C"/>
<rect x="221.36" y="501.45" width="20.22" height="7.97" fill="#FFBFBF"/>
<rect x="241.58" y="501.45" width="20.22" height="7.97" fill="#FF7171"/>
<rect x="39.4" y="509.42" width="20.22" height="7.97" fill="#FF1D1D"/>
<rect x="59.62" y="509.42" width="20.22" height="7.97" fill="#A6A6FF"/>
<rect x="79.84" y="509.42" width="20.22" height="7.97" fill="#D7D7FF"/>
<rect x="100.05" y="509.42" width="20.22" height="7.97" fill="#FFFFFF"/>
<rect x="120.27" y="509.42" width="20.22" height="7.97" fill="#FFBFBF"/>
<rect x="140.49" y="509.42" width="20.22" height="7.97" fill="#FF8C8C"/>
<rect x="160.71" y="509.42" width="20.22" height="7.97" fill="#FF7171"/>
<rect x="180.93" y="509.42" width="20.22" height="7.97" fill="#A6A6FF"/>
<rect x="201.15" y="509.42" width="20.22" height="7.97" fill="#8C8CFF"/>
<rect x="221.36" y="509.42" width="20.22" height="7.97" fill="#5656FF"/>
<rect x="241.58" y="509.42" width="20.22" height="7.97" fill="#7171FF"/>
<rect x="39.4" y="517.39" width="20.22" height="7.97" fill="#FFA6A6"/>
<rect x="59.62" y="517.39" width="20.22" height="7.97" fill="#FFEDED"/>
<rect x="79.84" y="517.39" width="20.22" height="7.97" fill="#FFD7D7"/>
<rect x="100.05" y="517.39" width="20.22" height="7.97" fill="#FF8C8C"/>
<rect x="120.27" y="517.39" width="20.22" height="7.97" fill="#FFBFBF"/>
<rect x="140.49" y="517.39" width="20.22" height="7.97" fill="#FFA6A6"/>
<rect x="160.71" y="517.39" width="20.22" height="7.97" fill="#FF5656"/>
<rect x="180.93" y="517.39" width="20.22" height="7.97" fill="#BFBFFF"/>
<rect x="201.15" y="517.39" width="20.22" height="7.97" fill="#8C8CFF"/>
<rect x="221.36" y="517.39" width="20.22" height="7.97" fill="#5656FF"/>
<rect x="241.58" y="517.39" width="20.22" height="7.97" fill="#5656FF"/>
<rect x="39.4" y="525.35" width="20.22" height="7.97" fill="#FF8C8C"/>
<rect x="59.62" y="525.35" width="20.22" height="7.97" fill="#FFBFBF"/>
<rect x="79.84" y="525.35" width="20.22" height="7.97" fill="#FFFFFF"/>
<rect x="100.05" y="525.35" width="20.22" height="7.97" fill="#FFA6A6"/>
<rect x="120.27" y="525.35" width="20.22" height="7.97" fill="#FF5656"/>
<rect x="140.49" y="525.35" width="20.22" height="7.97" fill="#FF8C8C"/>
<rect x="160.71" y="525.35" width="20.22" height="7.97" fill="#BFBFFF"/>
<rect x="180.93" y="525.35" width="20.22" height="7.97" fill="#8C8CFF"/>
<rect x="201.15" y="525.35" width="20.22" height="7.97" fill="#E0E0FF"/>
<rect x="221.36" y="525.35" width="20.22" height="7.97" fill="#A6A6FF"/>
<rect x="241.58" y="525.35" width="20.22" height="7.97" fill="#3A3AFF"/>
<rect x="39.4" y="533.32" width="20.22" height="7.97" fill="#FFF5F5"/>
<rect x="59.62" y="533.32" width="20.22" height="7.97" fill="#E0E0FF"/>
<rect x="79.84" y="533.32" width="20.22" height="7.97" fill="#FFA6A6"/>
<rect x="100.05" y="533.32" width="20.22" height="7.97" fill="#FFA6A6"/>
<rect x="120.27" y="533.32" width="20.22" height="7.97" fill="#FF1D1D"/>
<rect x="140.49" y="533.32" width="20.22" height="7.97" fill="#FFBFBF"/>
<rect x="160.71" y="533.32" width="20.22" height="7.97" fill="#FFA6A6"/>
<rect x="180.93" y="533.32" width="20.22" height="7.97" fill="#8C8CFF"/>
<rect x="201.15" y="533.32" width="20.22" height="7.97" fill="#5656FF"/>
<rect x="221.36" y="533.32" width="20.22" height="7.97" fill="#A6A6FF"/>
<rect x="241.58" y="533.32" width="20.22" height="7.97" fill="#BFBFFF"/>
<rect x="39.4" y="541.29" width="20.22" height="7.97" fill="#FFF5F5"/>
<rect x="59.62" y="541.29" width="20.22" height="7.97" fill="#FF8C8C"/>
<rect x="79.84" y="541.29" width="20.22" height="7.97" fill="#BFBFFF"/>
<rect x="100.05" y="541.29" width="20.22" height="7.97" fill="#FFFFFF"/>
<rect x="120.27" y="541.29" width="20.22" height="7.97" fill="#FFD7D7"/>
<rect x="140.49" y="541.29" width="20.22" height="7.97" fill="#FF8C8C"/>
<rect x="160.71" y="541.29" width="20.22" height="7.97" fill="#FF5656"/>
<rect x="180.93" y="541.29" width="20.22" height="7.97" fill="#0000FF"/>
<rect x="201.15" y="541.29" width="20.22" height="7.97" fill="#8C8CFF"/>
<rect x="221.36" y="541.29" width="20.22" height="7.97" fill="#D7D7FF"/>
<rect x="241.58" y="541.29" width="20.22" height="7.97" fill="#FFE0E0"/>
<rect x="39.4" y="549.26" width="20.22" height="7.97" fill="#FFE0E0"/>
<rect x="59.62" y="549.26" width="20.22" height="7.97" fill="#FFE0E0"/>
<rect x="79.84" y="549.26" width="20.22" height="7.97" fill="#BFBFFF"/>
<rect x="100.05" y="549.26" width="20.22" height="7.97" fill="#FFBFBF"/>
<rect x="120.27" y="549.26" width="20.22" height="7.97" fill="#FF7171"/>
<rect x="140.49" y="549.26" width="20.22" height="7.97" fill="#FF8C8C"/>
<rect x="160.71" y="549.26" width="20.22" height="7.97" fill="#FF7171"/>
<rect x="180.93" y="549.26" width="20.22" height="7.97" fill="#3A3AFF"/>
<rect x="201.15" y="549.26" width="20.22" height="7.97" fill="#FFD7D7"/>
<rect x="221.36" y="549.26" width="20.22" height="7.97" fill="#A6A6FF"/>
<rect x="241.58" y="549.26" width="20.22" height="7.97" fill="#7171FF"/>
<rect x="39.4" y="557.23" width="20.22" height="7.97" fill="#FF7171"/>
<rect x="59.62" y="557.23" width="20.22" height="7.97" fill="#D7D7FF"/>
<rect x="79.84" y="557.23" width="20.22" height="7.97" fill="#BFBFFF"/>
<rect x="100.05" y="557.23" width="20.22" height="7.97" fill="#FFFFFF"/>
<rect x="120.27" y="557.23" width="20.22" height="7.97" fill="#FF3A3A"/>
<rect x="140.49" y="557.23" width="20.22" height="7.97" fill="#FFEDED"/>
<rect x="160.71" y="557.23" width="20.22" height="7.97" fill="#FF5656"/>
<rect x="180.93" y="557.23" width="20.22" height="7.97" fill="#5656FF"/>
<rect x="201.15" y="557.23" width="20.22" height="7.97" fill="#BFBFFF"/>
<rect x="221.36" y="557.23" width="20.22" height="7.97" fill="#BFBFFF"/>
<rect x="241.58" y="557.23" width="20.22" height="7.97" fill="#BFBFFF"/>
<rect x="39.4" y="565.2" width="20.22" height="7.97" fill="#FFA6A6"/>
<rect x="59.62" y="565.2" width="20.22" height="7.97" fill="#8C8CFF"/>
<rect x="79.84" y="565.2" width="20.22" height="7.97" fill="#8C8CFF"/>
<rect x="100.05" y="565.2" width="20.22" height="7.97" fill="#EDEDFF"/>
<rect x="120.27" y="565.2" width="20.22" height="7.97" fill="#FF5656"/>
<rect x="140.49" y="565.2" width="20.22" height="7.97" fill="#FFA6A6"/>
<rect x="160.71" y="565.2" width="20.22" height="7.97" fill="#FF3A3A"/>
<rect x="180.93" y="565.2" width="20.22" height="7.97" fill="#5656FF"/>
<rect x="201.15" y="565.2" width="20.22" height="7.97" fill="#FFEDED"/>
<rect x="221.36" y="565.2" width="20.22" height="7.97" fill="#A6A6FF"/>
<rect x="241.58" y="565.2" width="20.22" height="7.97" fill="#BFBFFF"/>
<rect x="39.4" y="573.16" width="20.22" height="7.97" fill="#FF3A3A"/>
<rect x="59.62" y="573.16" width="20.22" height="7.97" fill="#FFBFBF"/>
<rect x="79.84" y="573.16" width="20.22" height="7.97" fill="#E0E0FF"/>
<rect x="100.05" y="573.16" width="20.22" height="7.97" fill="#FF8C8C"/>
<rect x="120.27" y="573.16" width="20.22" height="7.97" fill="#D7D7FF"/>
<rect x="140.49" y="573.16" width="20.22" height="7.97" fill="#FFA6A6"/>
<rect x="160.71" y="573.16" width="20.22" height="7.97" fill="#FFBFBF"/>
<rect x="180.93" y="573.16" width="20.22" height="7.97" fill="#5656FF"/>
<rect x="201.15" y="573.16" width="20.22" height="7.97" fill="#A6A6FF"/>
<rect x="221.36" y="573.16" width="20.22" height="7.97" fill="#8C8CFF"/>
<rect x="241.58" y="573.16" width="20.22" height="7.97" fill="#BFBFFF"/>
<rect x="39.4" y="581.13" width="20.22" height="7.97" fill="#FFA6A6"/>
<rect x="59.62" y="581.13" width="20.22" height="7.97" fill="#FFBFBF"/>
<rect x="79.84" y="581.13" width="20.22" height="7.97" fill="#A6A6FF"/>
<rect x="100.05" y="581.13" width="20.22" height="7.97" fill="#FF8C8C"/>
<rect x="120.27" y="581.13" width="20.22" height="7.97" fill="#E0E0FF"/>
<rect x="140.49" y="581.13" width="20.22" height="7.97" fill="#FF8C8C"/>
<rect x="160.71" y="581.13" width="20.22" height="7.97" fill="#FFBFBF"/>
<rect x="180.93" y="581.13" width="20.22" height="7.97" fill="#1D1DFF"/>
<rect x="201.15" y="581.13" width="20.22" height="7.97" fill="#E0E0FF"/>
<rect x="221.36" y="581.13" width="20.22" height="7.97" fill="#EDEDFF"/>
<rect x="241.58" y="581.13" width="20.22" height="7.97" fill="#8C8CFF"/>
<rect x="39.4" y="589.1" width="20.22" height="7.97" fill="#FFBFBF"/>
<rect x="59.62" y="589.1" width="20.22" height="7.97" fill="#FFBFBF"/>
<rect x="79.84" y="589.1" width="20.22" height="7.97" fill="#E0E0FF"/>
<rect x="100.05" y="589.1" width="20.22" height="7.97" fill="#FF7171"/>
<rect x="120.27" y="589.1" width="20.22" height="7.97" fill="#FFFFFF"/>
<rect x="140.49" y="589.1" width="20.22" height="7.97" fill="#FF8C8C"/>
<rect x="160.71" y="589.1" width="20.22" height="7.97" fill="#FF8C8C"/>
<rect x="180.93" y="589.1" width="20.22" height="7.97" fill="#0000FF"/>
<rect x="201.15" y="589.1" width="20.22" height="7.97" fill="#BFBFFF"/>
<rect x="221.36" y="589.1" width="20.22" height="7.97" fill="#BFBFFF"/>
<rect x="241.58" y="589.1" width="20.22" height="7.97" fill="#D7D7FF"/>
<rect x="39.4" y="597.07" width="20.22" height="7.97" fill="#FF8C8C"/>
<rect x="59.62" y="597.07" width="20.22" height="7.97" fill="#FF8C8C"/>
<rect x="79.84" y="597.07" width="20.22" height="7.97" fill="#F5F5FF"/>
<rect x="100.05" y="597.07" width="20.22" height="7.97" fill="#FF8C8C"/>
<rect x="120.27" y="597.07" width="20.22" height="7.97" fill="#FFEDED"/>
<rect x="140.49" y="597.07" width="20.22" height="7.97" fill="#FFBFBF"/>
<rect x="160.71" y="597.07" width="20.22" height="7.97" fill="#FFA6A6"/>
<rect x="180.93" y="597.07" width="20.22" height="7.97" fill="#0000FF"/>
<rect x="201.15" y="597.07" width="20.22" height="7.97" fill="#A6A6FF"/>
<rect x="221.36" y="597.07" width="20.22" height="7.97" fill="#D7D7FF"/>
<rect x="241.58" y="597.07" width="20.22" height="7.97" fill="#BFBFFF"/>
<rect x="39.4" y="605.04" width="20.22" height="7.97" fill="#E0E0FF"/>
<rect x="59.62" y="605.04" width="20.22" height="7.97" fill="#FFFFFF"/>
<rect x="79.84" y="605.04" width="20.22" height="7.97" fill="#FFEDED"/>
<rect x="100.05" y="605.04" width="20.22" height="7.97" fill="#FF0000"/>
<rect x="120.27" y="605.04" width="20.22" height="7.97" fill="#FFFFFF"/>
<rect x="140.49" y="605.04" width="20.22" height="7.97" fill="#FFBFBF"/>
<rect x="160.71" y="605.04" width="20.22" height="7.97" fill="#FF8C8C"/>
<rect x="180.93" y="605.04" width="20.22" height="7.97" fill="#3A3AFF"/>
<rect x="201.15" y="605.04" width="20.22" height="7.97" fill="#8C8CFF"/>
<rect x="221.36" y="605.04" width="20.22" height="7.97" fill="#BFBFFF"/>
<rect x="241.58" y="605.04" width="20.22" height="7.97" fill="#EDEDFF"/>
<rect x="39.4" y="613.01" width="20.22" height="7.97" fill="#CECEFF"/>
<rect x="59.62" y="613.01" width="20.22" height="7.97" fill="#FFD7D7"/>
<rect x="79.84" y="613.01" width="20.22" height="7.97" fill="#D7D7FF"/>
<rect x="100.05" y="613.01" width="20.22" height="7.97" fill="#FF5656"/>
<rect x="120.27" y="613.01" width="20.22" height="7.97" fill="#FF5656"/>
<rect x="140.49" y="613.01" width="20.22" height="7.97" fill="#FFA6A6"/>
<rect x="160.71" y="613.01" width="20.22" height="7.97" fill="#FFBFBF"/>
<rect x="180.93" y="613.01" width="20.22" height="7.97" fill="#3A3AFF"/>
<rect x="201.15" y="613.01" width="20.22" height="7.97" fill="#A6A6FF"/>
<rect x="221.36" y="613.01" width="20.22" height="7.97" fill="#D7D7FF"/>
<rect x="241.58" y="613.01" width="20.22" height="7.97" fill="#D7D7FF"/>
<rect x="39.4" y="620.98" width="20.22" height="7.97" fill="#D7D7FF"/>
<rect x="59.62" y="620.98" width="20.22" height="7.97" fill="#FFBFBF"/>
<rect x="79.84" y="620.98" width="20.22" height="7.97" fill="#E0E0FF"/>
<rect x="100.05" y="620.98" width="20.22" height="7.97" fill="#FF7171"/>
<rect x="120.27" y="620.98" width="20.22" height="7.97" fill="#FFA6A6"/>
<rect x="140.49" y="620.98" width="20.22" height="7.97" fill="#FF7171"/>
<rect x="160.71" y="620.98" width="20.22" height="7.97" fill="#FFBFBF"/>
<rect x="180.93" y="620.98" width="20.22" height="7.97" fill="#1D1DFF"/>
<rect x="201.15" y="620.98" width="20.22" height="7.97" fill="#A6A6FF"/>
<rect x="221.36" y="620.98" width="20.22" height="7.97" fill="#EDEDFF"/>
<rect x="241.58" y="620.98" width="20.22" height="7.97" fill="#A6A6FF"/>
<rect x="39.4" y="628.94" width="20.22" height="7.97" fill="#FFEDED"/>
<rect x="59.62" y="628.94" width="20.22" height="7.97" fill="#FFEDED"/>
<rect x="79.84" y="628.94" width="20.22" height="7.97" fill="#8C8CFF"/>
<rect x="100.05" y="628.94" width="20.22" height="7.97" fill="#FF8C8C"/>
<rect x="120.27" y="628.94" width="20.22" height="7.97" fill="#FFA6A6"/>
<rect x="140.49" y="628.94" width="20.22" height="7.97" fill="#FF7171"/>
<rect x="160.71" y="628.94" width="20.22" height="7.97" fill="#FF3A3A"/>
<rect x="180.93" y="628.94" width="20.22" height="7.97" fill="#5656FF"/>
<rect x="201.15" y="628.94" width="20.22" height="7.97" fill="#7171FF"/>
<rect x="221.36" y="628.94" width="20.22" height="7.97" fill="#E0E0FF"/>
<rect x="241.58" y="628.94" width="20.22" height="7.97" fill="#BFBFFF"/>
<rect x="39.4" y="636.91" width="20.22" height="7.97" fill="#FFE0E0"/>
<rect x="59.62" y="636.91" width="20.22" height="7.97" fill="#FFBFBF"/>
<rect x="79.84" y="636.91" width="20.22" height="7.97" fill="#EDEDFF"/>
<rect x="100.05" y="636.91" width="20.22" height="7.97" fill="#FF7171"/>
<rect x="120.27" y="636.91" width="20.22" height="7.97" fill="#FFBFBF"/>
<rect x="140.49" y="636.91" width="20.22" height="7.97" fill="#FFBFBF"/>
<rect x="160.71" y="636.91" width="20.22" height="7.97" fill="#FF7171"/>
<rect x="180.93" y="636.91" width="20.22" height="7.97" fill="#3A3AFF"/>
<rect x="201.15" y="636.91" width="20.22" height="7.97" fill="#3A3AFF"/>
<rect x="221.36" y="636.91" width="20.22" height="7.97" fill="#D7D7FF"/>
<rect x="241.58" y="636.91" width="20.22" height="7.97" fill="#F5F5FF"/>
<rect x="39.4" y="644.88" width="20.22" height="7.97" fill="#FFF5F5"/>
<rect x="59.62" y="644.88" width="20.22" height="7.97" fill="#FFD7D7"/>
<rect x="79.84" y="644.88" width="20.22" height="7.97" fill="#FFD7D7"/>
<rect x="100.05" y="644.88" width="20.22" height="7.97" fill="#FFA6A6"/>
<rect x="120.27" y="644.88" width="20.22" height="7.97" fill="#FF7171"/>
<rect x="140.49" y="644.88" width="20.22" height="7.97" fill="#FF5656"/>
<rect x="160.71" y="644.88" width="20.22" height="7.97" fill="#FFEDED"/>
<rect x="180.93" y="644.88" width="20.22" height="7.97" fill="#0000FF"/>
<rect x="201.15" y="644.88" width="20.22" height="7.97" fill="#BFBFFF"/>
<rect x="221.36" y="644.88" width="20.22" height="7.97" fill="#8C8CFF"/>
<rect x="241.58" y="644.88" width="20.22" height="7.97" fill="#E0E0FF"/>
<rect x="39.4" y="652.85" width="20.22" height="7.97" fill="#F5F5FF"/>
<rect x="59.62" y="652.85" width="20.22" height="7.97" fill="#F5F5FF"/>
<rect x="79.84" y="652.85" width="20.22" height="7.97" fill="#EDEDFF"/>
<rect x="100.05" y="652.85" width="20.22" height="7.97" fill="#FF7171"/>
<rect x="120.27" y="652.85" width="20.22" height="7.97" fill="#FF7171"/>
<rect x="140.49" y="652.85" width="20.22" height="7.97" fill="#FF8C8C"/>
<rect x="160.71" y="652.85" width="20.22" height="7.97" fill="#FFBFBF"/>
<rect x="180.93" y="652.85" width="20.22" height="7.97" fill="#0000FF"/>
<rect x="201.15" y="652.85" width="20.22" height="7.97" fill="#BFBFFF"/>
<rect x="221.36" y="652.85" width="20.22" height="7.97" fill="#D7D7FF"/>
<rect x="241.58" y="652.85" width="20.22" height="7.97" fill="#D7D7FF"/>
<rect x="39.4" y="660.82" width="20.22" height="7.97" fill="#FFF5F5"/>
<rect x="59.62" y="660.82" width="20.22" height="7.97" fill="#FFEDED"/>
<rect x="79.84" y="660.82" width="20.22" height="7.97" fill="#FFD7D7"/>
<rect x="100.05" y="660.82" width="20.22" height="7.97" fill="#FF7171"/>
<rect x="120.27" y="660.82" width="20.22" height="7.97" fill="#FF8C8C"/>
<rect x="140.49" y="660.82" width="20.22" height="7.97" fill="#FFA6A6"/>
<rect x="160.71" y="660.82" width="20.22" height="7.97" fill="#FFBFBF"/>
<rect x="180.93" y="660.82" width="20.22" height="7.97" fill="#1D1DFF"/>
<rect x="201.15" y="660.82" width="20.22" height="7.97" fill="#7171FF"/>
<rect x="221.36" y="660.82" width="20.22" height="7.97" fill="#BFBFFF"/>
<rect x="241.58" y="660.82" width="20.22" height="7.97" fill="#E0E0FF"/>
<rect x="39.4" y="668.79" width="20.22" height="7.97" fill="#FFD7D7"/>
<rect x="59.62" y="668.79" width="20.22" height="7.97" fill="#F5F5FF"/>
<rect x="79.84" y="668.79" width="20.22" height="7.97" fill="#FFD7D7"/>
<rect x="100.05" y="668.79" width="20.22" height="7.97" fill="#FF7171"/>
<rect x="120.27" y="668.79" width="20.22" height="7.97" fill="#FF8C8C"/>
<rect x="140.49" y="668.79" width="20.22" height="7.97" fill="#FFA6A6"/>
<rect x="160.71" y="668.79" width="20.22" height="7.97" fill="#FFA6A6"/>
<rect x="180.93" y="668.79" width="20.22" height="7.97" fill="#1D1DFF"/>
<rect x="201.15" y="668.79" width="20.22" height="7.97" fill="#8C8CFF"/>
<rect x="221.36" y="668.79" width="20.22" height="7.97" fill="#A6A6FF"/>
<rect x="241.58" y="668.79" width="20.22" height="7.97" fill="#D7D7FF"/>
<rect x="39.4" y="676.76" width="20.22" height="7.97" fill="#FFF5F5"/>
<rect x="59.62" y="676.76" width="20.22" height="7.97" fill="#EDEDFF"/>
<rect x="79.84" y="676.76" width="20.22" height="7.97" fill="#FFBFBF"/>
<rect x="100.05" y="676.76" width="20.22" height="7.97" fill="#FF8C8C"/>
<rect x="120.27" y="676.76" width="20.22" height="7.97" fill="#FF8C8C"/>
<rect x="140.49" y="676.76" width="20.22" height="7.97" fill="#FF8C8C"/>
<rect x="160.71" y="676.76" width="20.22" height="7.97" fill="#FF8C8C"/>
<rect x="180.93" y="676.76" width="20.22" height="7.97" fill="#0000FF"/>
<rect x="201.15" y="676.76" width="20.22" height="7.97" fill="#8C8CFF"/>
<rect x="221.36" y="676.76" width="20.22" height="7.97" fill="#8C8CFF"/>
<rect x="241.58" y="676.76" width="20.22" height="7.97" fill="#D7D7FF"/>
<rect x="39.4" y="684.72" width="20.22" height="7.97" fill="#FFBFBF"/>
<rect x="59.62" y="684.72" width="20.22" height="7.97" fill="#EDEDFF"/>
<rect x="79.84" y="684.72" width="20.22" height="7.97" fill="#FFF9F9"/>
<rect x="100.05" y="684.72" width="20.22" height="7.97" fill="#FFA6A6"/>
<rect x="120.27" y="684.72" width="20.22" height="7.97" fill="#FFA6A6"/>
<rect x="140.49" y="684.72" width="20.22" height="7.97" fill="#FF8C8C"/>
<rect x="160.71" y="684.72" width="20.22" height="7.97" fill="#FFBFBF"/>
<rect x="180.93" y="684.72" width="20.22" height="7.97" fill="#0000FF"/>
<rect x="201.15" y="684.72" width="20.22" height="7.97" fill="#8C8CFF"/>
<rect x="221.36" y="684.72" width="20.22" height="7.97" fill="#8C8CFF"/>
<rect x="241.58" y="684.72" width="20.22" height="7.97" fill="#F5F5FF"/>
<rect x="39.4" y="692.69" width="20.22" height="7.97" fill="#FFBFBF"/>
<rect x="59.62" y="692.69" width="20.22" height="7.97" fill="#FFEDED"/>
<rect x="79.84" y="692.69" width="20.22" height="7.97" fill="#FFBFBF"/>
<rect x="100.05" y="692.69" width="20.22" height="7.97" fill="#FF7171"/>
<rect x="120.27" y="692.69" width="20.22" height="7.97" fill="#FFA6A6"/>
<rect x="140.49" y="692.69" width="20.22" height="7.97" fill="#FF8C8C"/>
<rect x="160.71" y="692.69" width="20.22" height="7.97" fill="#FFE0E0"/>
<rect x="180.93" y="692.69" width="20.22" height="7.97" fill="#0000FF"/>
<rect x="201.15" y="692.69" width="20.22" height="7.97" fill="#8C8CFF"/>
<rect x="221.36" y="692.69" width="20.22" height="7.97" fill="#8C8CFF"/>
<rect x="241.58" y="692.69" width="20.22" height="7.97" fill="#CECEFF"/>
<rect x="39.4" y="700.66" width="20.22" height="7.97" fill="#FFBFBF"/>
<rect x="59.62" y="700.66" width="20.22" height="7.97" fill="#FFFFFF"/>
<rect x="79.84" y="700.66" width="20.22" height="7.97" fill="#FFF5F5"/>
<rect x="100.05" y="700.66" width="20.22" height="7.97" fill="#FF5656"/>
<rect x="120.27" y="700.66" width="20.22" height="7.97" fill="#FFBFBF"/>
<rect x="140.49" y="700.66" width="20.22" height="7.97" fill="#FF8C8C"/>
<rect x="160.71" y="700.66" width="20.22" height="7.97" fill="#FFBFBF"/>
<rect x="180.93" y="700.66" width="20.22" height="7.97" fill="#0000FF"/>
<rect x="201.15" y="700.66" width="20.22" height="7.97" fill="#8C8CFF"/>
<rect x="221.36" y="700.66" width="20.22" height="7.97" fill="#8C8CFF"/>
<rect x="241.58" y="700.66" width="20.22" height="7.97" fill="#EDEDFF"/>
<rect x="39.4" y="708.63" width="20.22" height="7.97" fill="#FFBFBF"/>
<rect x="59.62" y="708.63" width="20.22" height="7.97" fill="#EDEDFF"/>
<rect x="79.84" y="708.63" width="20.22" height="7.97" fill="#FFD7D7"/>
<rect x="100.05" y="708.63" width="20.22" height="7.97" fill="#FF5656"/>
<rect x="120.27" y="708.63" width="20.22" height="7.97" fill="#FFBFBF"/>
<rect x="140.49" y="708.63" width="20.22" height="7.97" fill="#FF8C8C"/>
<rect x="160.71" y="708.63" width="20.22" height="7.97" fill="#FFBFBF"/>
<rect x="180.93" y="708.63" width="20.22" height="7.97" fill="#0000FF"/>
<rect x="201.15" y="708.63" width="20.22" height="7.97" fill="#8C8CFF"/>
<rect x="221.36" y="708.63" width="20.22" height="7.97" fill="#8C8CFF"/>
<rect x="241.58" y="708.63" width="20.22" height="7.97" fill="#CECEFF"/>
<rect x="39.4" y="716.6" width="20.22" height="7.97" fill="#FFBFBF"/>
<rect x="59.62" y="716.6" width="20.22" height="7.97" fill="#FFFFFF"/>
<rect x="79.84" y="716.6" width="20.22" height="7.97" fill="#FFA6A6"/>
<rect x="100.05" y="716.6" width="20.22" height="7.97" fill="#FF8C8C"/>
<rect x="120.27" y="716.6" width="20.22" height="7.97" fill="#FF5656"/>
<rect x="140.49" y="716.6" width="20.22" height="7.97" fill="#FFBFBF"/>
<rect x="160.71" y="716.6" width="20.22" height="7.97" fill="#FFBFBF"/>
<rect x="180.93" y="716.6" width="20.22" height="7.97" fill="#1D1DFF"/>
<rect x="201.15" y="716.6" width="20.22" height="7.97" fill="#7171FF"/>
<rect x="221.36" y="716.6" width="20.22" height="7.97" fill="#8C8CFF"/>
<rect x="241.58" y="716.6" width="20.22" height="7.97" fill="#A6A6FF"/>
<rect x="39.4" y="724.57" width="20.22" height="7.97" fill="#FFBFBF"/>
<rect x="59.62" y="724.57" width="20.22" height="7.97" fill="#FFEDED"/>
<rect x="79.84" y="724.57" width="20.22" height="7.97" fill="#FFBFBF"/>
<rect x="100.05" y="724.57" width="20.22" height="7.97" fill="#FF5656"/>
<rect x="120.27" y="724.57" width="20.22" height="7.97" fill="#FFA6A6"/>
<rect x="140.49" y="724.57" width="20.22" height="7.97" fill="#FFBFBF"/>
<rect x="160.71" y="724.57" width="20.22" height="7.97" fill="#FFA6A6"/>
<rect x="180.93" y="724.57" width="20.22" height="7.97" fill="#1D1DFF"/>
<rect x="201.15" y="724.57" width="20.22" height="7.97" fill="#7171FF"/>
<rect x="221.36" y="724.57" width="20.22" height="7.97" fill="#8C8CFF"/>
<rect x="241.58" y="724.57" width="20.22" height="7.97" fill="#D7D7FF"/>
<rect x="39.4" y="732.54" width="20.22" height="7.97" fill="#FFBFBF"/>
<rect x="59.62" y="732.54" width="20.22" height="7.97" fill="#FFEDED"/>
<rect x="79.84" y="732.54" width="20.22" height="7.97" fill="#FFBFBF"/>
<rect x="100.05" y="732.54" width="20.22" height="7.97" fill="#FF8C8C"/>
<rect x="120.27" y="732.54" width="20.22" height="7.97" fill="#FFA6A6"/>
<rect x="140.49" y="732.54" width="20.22" height="7.97" fill="#FFD7D7"/>
<rect x="160.71" y="732.54" width="20.22" height="7.97" fill="#FF8C8C"/>
<rect x="180.93" y="732.54" width="20.22" height="7.97" fill="#1D1DFF"/>
<rect x="201.15" y="732.54" width="20.22" height="7.97" fill="#7171FF"/>
<rect x="221.36" y="732.54" width="20.22" height="7.97" fill="#8C8CFF"/>
<rect x="241.58" y="732.54" width="20.22" height="7.97" fill="#EDEDFF"/>
<rect x="39.4" y="740.5" width="20.22" height="7.97" fill="#FFD7D7"/>
<rect x="59.62" y="740.5" width="20.22" height="7.97" fill="#FFE0E0"/>
<rect x="79.84" y="740.5" width="20.22" height="7.97" fill="#FFBFBF"/>
<rect x="100.05" y="740.5" width="20.22" height="7.97" fill="#FFD7D7"/>
<rect x="120.27" y="740.5" width="20.22" height="7.97" fill="#FF8C8C"/>
<rect x="140.49" y="740.5" width="20.22" height="7.97" fill="#FFD7D7"/>
<rect x="160.71" y="740.5" width="20.22" height="7.97" fill="#FF8C8C"/>
<rect x="180.93" y="740.5" width="20.22" height="7.97" fill="#1D1DFF"/>
<rect x="201.15" y="740.5" width="20.22" height="7.97" fill="#7171FF"/>
<rect x="221.36" y="740.5" width="20.22" height="7.97" fill="#BFBFFF"/>
<rect x="241.58" y="740.5" width="20.22" height="7.97" fill="#7171FF"/>
<rect x="39.4" y="748.47" width="20.22" height="7.97" fill="#FFFFFF"/>
<rect x="59.62" y="748.47" width="20.22" height="7.97" fill="#FFD7D7"/>
<rect x="79.84" y="748.47" width="20.22" height="7.97" fill="#FFE0E0"/>
<rect x="100.05" y="748.47" width="20.22" height="7.97" fill="#FF8C8C"/>
<rect x="120.27" y="748.47" width="20.22" height="7.97" fill="#FF8C8C"/>
<rect x="140.49" y="748.47" width="20.22" height="7.97" fill="#FFFFFF"/>
<rect x="160.71" y="748.47" width="20.22" height="7.97" fill="#FF8C8C"/>
<rect x="180.93" y="748.47" width="20.22" height="7.97" fill="#0000FF"/>
<rect x="201.15" y="748.47" width="20.22" height="7.97" fill="#8C8CFF"/>
<rect x="221.36" y="748.47" width="20.22" height="7.97" fill="#D7D7FF"/>
<rect x="241.58" y="748.47" width="20.22" height="7.97" fill="#D7D7FF"/>
<rect x="39.4" y="756.44" width="20.22" height="7.97" fill="#FFCECE"/>
<rect x="59.62" y="756.44" width="20.22" height="7.97" fill="#BFBFFF"/>
<rect x="79.84" y="756.44" width="20.22" height="7.97" fill="#F5F5FF"/>
<rect x="100.05" y="756.44" width="20.22" height="7.97" fill="#FF7171"/>
<rect x="120.27" y="756.44" width="20.22" height="7.97" fill="#FF5656"/>
<rect x="140.49" y="756.44" width="20.22" height="7.97" fill="#FF8C8C"/>
<rect x="160.71" y="756.44" width="20.22" height="7.97" fill="#FFA6A6"/>
<rect x="180.93" y="756.44" width="20.22" height="7.97" fill="#5656FF"/>
<rect x="201.15" y="756.44" width="20.22" height="7.97" fill="#7171FF"/>
<rect x="221.36" y="756.44" width="20.22" height="7.97" fill="#A6A6FF"/>
<rect x="241.58" y="756.44" width="20.22" height="7.97" fill="#E0E0FF"/>
<rect x="39.4" y="764.41" width="20.22" height="7.97" fill="#EDEDFF"/>
<rect x="59.62" y="764.41" width="20.22" height="7.97" fill="#D7D7FF"/>
<rect x="79.84" y="764.41" width="20.22" height="7.97" fill="#FFF5F5"/>
<rect x="100.05" y="764.41" width="20.22" height="7.97" fill="#FF7171"/>
<rect x="120.27" y="764.41" width="20.22" height="7.97" fill="#FF5656"/>
<rect x="140.49" y="764.41" width="20.22" height="7.97" fill="#FF7171"/>
<rect x="160.71" y="764.41" width="20.22" height="7.97" fill="#FFBFBF"/>
<rect x="180.93" y="764.41" width="20.22" height="7.97" fill="#5656FF"/>
<rect x="201.15" y="764.41" width="20.22" height="7.97" fill="#8C8CFF"/>
<rect x="221.36" y="764.41" width="20.22" height="7.97" fill="#BFBFFF"/>
<rect x="241.58" y="764.41" width="20.22" height="7.97" fill="#A6A6FF"/>
<rect x="39.4" y="772.38" width="20.22" height="7.97" fill="#EDEDFF"/>
<rect x="59.62" y="772.38" width="20.22" height="7.97" fill="#EDEDFF"/>
<rect x="79.84" y="772.38" width="20.22" height="7.97" fill="#FFD7D7"/>
<rect x="100.05" y="772.38" width="20.22" height="7.97" fill="#FF8C8C"/>
<rect x="120.27" y="772.38" width="20.22" height="7.97" fill="#FF5656"/>
<rect x="140.49" y="772.38" width="20.22" height="7.97" fill="#FF7171"/>
<rect x="160.71" y="772.38" width="20.22" height="7.97" fill="#FFBFBF"/>
<rect x="180.93" y="772.38" width="20.22" height="7.97" fill="#3A3AFF"/>
<rect x="201.15" y="772.38" width="20.22" height="7.97" fill="#8C8CFF"/>
<rect x="221.36" y="772.38" width="20.22" height="7.97" fill="#8C8CFF"/>
<rect x="241.58" y="772.38" width="20.22" height="7.97" fill="#E0E0FF"/>
<rect x="39.4" y="780.35" width="20.22" height="7.97" fill="#D7D7FF"/>
<rect x="59.62" y="780.35" width="20.22" height="7.97" fill="#D7D7FF"/>
<rect x="79.84" y="780.35" width="20.22" height="7.97" fill="#EDEDFF"/>
<rect x="100.05" y="780.35" width="20.22" height="7.97" fill="#FF3A3A"/>
<rect x="120.27" y="780.35" width="20.22" height="7.97" fill="#FF8C8C"/>
<rect x="140.49" y="780.35" width="20.22" height="7.97" fill="#FF5656"/>
<rect x="160.71" y="780.35" width="20.22" height="7.97" fill="#FFD7D7"/>
<rect x="180.93" y="780.35" width="20.22" height="7.97" fill="#7171FF"/>
<rect x="201.15" y="780.35" width="20.22" height="7.97" fill="#A6A6FF"/>
<rect x="221.36" y="780.35" width="20.22" height="7.97" fill="#BFBFFF"/>
<rect x="241.58" y="780.35" width="20.22" height="7.97" fill="#8C8CFF"/>
<rect x="39.4" y="788.31" width="20.22" height="7.97" fill="#CECEFF"/>
<rect x="59.62" y="788.31" width="20.22" height="7.97" fill="#E0E0FF"/>
<rect x="79.84" y="788.31" width="20.22" height="7.97" fill="#FFCECE"/>
<rect x="100.05" y="788.31" width="20.22" height="7.97" fill="#FF5656"/>
<rect x="120.27" y="788.31" width="20.22" height="7.97" fill="#FF3A3A"/>
<rect x="140.49" y="788.31" width="20.22" height="7.97" fill="#FF8C8C"/>
<rect x="160.71" y="788.31" width="20.22" height="7.97" fill="#FFE0E0"/>
<rect x="180.93" y="788.31" width="20.22" height="7.97" fill="#5656FF"/>
<rect x="201.15" y="788.31" width="20.22" height="7.97" fill="#A6A6FF"/>
<rect x="221.36" y="788.31" width="20.22" height="7.97" fill="#8C8CFF"/>
<rect x="241.58" y="788.31" width="20.22" height="7.97" fill="#8C8CFF"/>
<rect x="39.4" y="796.28" width="20.22" height="7.97" fill="#FFEDED"/>
<rect x="59.62" y="796.28" width="20.22" height="7.97" fill="#FFE0E0"/>
<rect x="79.84" y="796.28" width="20.22" height="7.97" fill="#FFBFBF"/>
<rect x="100.05" y="796.28" width="20.22" height="7.97" fill="#FF5656"/>
<rect x="120.27" y="796.28" width="20.22" height="7.97" fill="#FF8C8C"/>
<rect x="140.49" y="796.28" width="20.22" height="7.97" fill="#FF8C8C"/>
<rect x="160.71" y="796.28" width="20.22" height="7.97" fill="#FFF9F9"/>
<rect x="180.93" y="796.28" width="20.22" height="7.97" fill="#3A3AFF"/>
<rect x="201.15" y="796.28" width="20.22" height="7.97" fill="#A6A6FF"/>
<rect x="221.36" y="796.28" width="20.22" height="7.97" fill="#8C8CFF"/>
<rect x="241.58" y="796.28" width="20.22" height="7.97" fill="#8C8CFF"/>
<rect x="39.4" y="804.25" width="20.22" height="7.97" fill="#FFF9F9"/>
<rect x="59.62" y="804.25" width="20.22" height="7.97" fill="#F5F5FF"/>
<rect x="79.84" y="804.25" width="20.22" height="7.97" fill="#FFBFBF"/>
<rect x="100.05" y="804.25" width="20.22" height="7.97" fill="#FF7171"/>
<rect x="120.27" y="804.25" width="20.22" height="7.97" fill="#FFA6A6"/>
<rect x="140.49" y="804.25" width="20.22" height="7.97" fill="#FF8C8C"/>
<rect x="160.71" y="804.25" width="20.22" height="7.97" fill="#FFBFBF"/>
<rect x="180.93" y="804.25" width="20.22" height="7.97" fill="#3A3AFF"/>
<rect x="201.15" y="804.25" width="20.22" height="7.97" fill="#5656FF"/>
<rect x="221.36" y="804.25" width="20.22" height="7.97" fill="#A6A6FF"/>
<rect x="241.58" y="804.25" width="20.22" height="7.97" fill="#CECEFF"/>
<rect x="39.4" y="812.22" width="20.22" height="7.97" fill="#FFBFBF"/>
<rect x="59.62" y="812.22" width="20.22" height="7.97" fill="#D7D7FF"/>
<rect x="79.84" y="812.22" width="20.22" height="7.97" fill="#FFE0E0"/>
<rect x="100.05" y="812.22" width="20.22" height="7.97" fill="#FF8C8C"/>
<rect x="120.27" y="812.22" width="20.22" height="7.97" fill="#FF8C8C"/>
<rect x="140.49" y="812.22" width="20.22" height="7.97" fill="#FFBFBF"/>
<rect x="160.71" y="812.22" width="20.22" height="7.97" fill="#FFBFBF"/>
<rect x="180.93" y="812.22" width="20.22" height="7.97" fill="#0000FF"/>
<rect x="201.15" y="812.22" width="20.22" height="7.97" fill="#BFBFFF"/>
<rect x="221.36" y="812.22" width="20.22" height="7.97" fill="#5656FF"/>
<rect x="241.58" y="812.22" width="20.22" height="7.97" fill="#EDEDFF"/>
<rect x="39.4" y="820.19" width="20.22" height="7.97" fill="#FFBFBF"/>
<rect x="59.62" y="820.19" width="20.22" height="7.97" fill="#EDEDFF"/>
<rect x="79.84" y="820.19" width="20.22" height="7.97" fill="#FFFFFF"/>
<rect x="100.05" y="820.19" width="20.22" height="7.97" fill="#FF3A3A"/>
<rect x="120.27" y="820.19" width="20.22" height="7.97" fill="#FFA6A6"/>
<rect x="140.49" y="820.19" width="20.22" height="7.97" fill="#FFBFBF"/>
<rect x="160.71" y="820.19" width="20.22" height="7.97" fill="#FFA6A6"/>
<rect x="180.93" y="820.19" width="20.22" height="7.97" fill="#3A3AFF"/>
<rect x="201.15" y="820.19" width="20.22" height="7.97" fill="#8C8CFF"/>
<rect x="221.36" y="820.19" width="20.22" height="7.97" fill="#5656FF"/>
<rect x="241.58" y="820.19" width="20.22" height="7.97" fill="#A6A6FF"/>
<rect x="39.4" y="828.16" width="20.22" height="7.97" fill="#FFBFBF"/>
<rect x="59.62" y="828.16" width="20.22" height="7.97" fill="#A6A6FF"/>
<rect x="79.84" y="828.16" width="20.22" height="7.97" fill="#FFF5F5"/>
<rect x="100.05" y="828.16" width="20.22" height="7.97" fill="#FF5656"/>
<rect x="120.27" y="828.16" width="20.22" height="7.97" fill="#FFBFBF"/>
<rect x="140.49" y="828.16" width="20.22" height="7.97" fill="#FFA6A6"/>
<rect x="160.71" y="828.16" width="20.22" height="7.97" fill="#FFA6A6"/>
<rect x="180.93" y="828.16" width="20.22" height="7.97" fill="#0000FF"/>
<rect x="201.15" y="828.16" width="20.22" height="7.97" fill="#CECEFF"/>
<rect x="221.36" y="828.16" width="20.22" height="7.97" fill="#8C8CFF"/>
<rect x="241.58" y="828.16" width="20.22" height="7.97" fill="#BFBFFF"/>
<rect x="39.4" y="836.13" width="20.22" height="7.97" fill="#FFA6A6"/>
<rect x="59.62" y="836.13" width="20.22" height="7.97" fill="#FFD7D7"/>
<rect x="79.84" y="836.13" width="20.22" height="7.97" fill="#FFD7D7"/>
<rect x="100.05" y="836.13" width="20.22" height="7.97" fill="#FF5656"/>
<rect x="120.27" y="836.13" width="20.22" height="7.97" fill="#FFFFFF"/>
<rect x="140.49" y="836.13" width="20.22" height="7.97" fill="#FF7171"/>
<rect x="160.71" y="836.13" width="20.22" height="7.97" fill="#FFBFBF"/>
<rect x="180.93" y="836.13" width="20.22" height="7.97" fill="#1D1DFF"/>
<rect x="201.15" y="836.13" width="20.22" height="7.97" fill="#BFBFFF"/>
<rect x="221.36" y="836.13" width="20.22" height="7.97" fill="#5656FF"/>
<rect x="241.58" y="836.13" width="20.22" height="7.97" fill="#A6A6FF"/>
<rect x="39.4" y="844.09" width="20.22" height="7.97" fill="#FFBFBF"/>
<rect x="59.62" y="844.09" width="20.22" height="7.97" fill="#FFBFBF"/>
<rect x="79.84" y="844.09" width="20.22" height="7.97" fill="#FFBFBF"/>
<rect x="100.05" y="844.09" width="20.22" height="7.97" fill="#FF7171"/>
<rect x="120.27" y="844.09" width="20.22" height="7.97" fill="#FFD7D7"/>
<rect x="140.49" y="844.09" width="20.22" height="7.97" fill="#FF8C8C"/>
<rect x="160.71" y="844.09" width="20.22" height="7.97" fill="#FFBFBF"/>
<rect x="180.93" y="844.09" width="20.22" height="7.97" fill="#0000FF"/>
<rect x="201.15" y="844.09" width="20.22" height="7.97" fill="#8C8CFF"/>
<rect x="221.36" y="844.09" width="20.22" height="7.97" fill="#A6A6FF"/>
<rect x="241.58" y="844.09" width="20.22" height="7.97" fill="#A6A6FF"/>
<rect x="39.4" y="852.06" width="20.22" height="7.97" fill="#FF8C8C"/>
<rect x="59.62" y="852.06" width="20.22" height="7.97" fill="#FFF9F9"/>
<rect x="79.84" y="852.06" width="20.22" height="7.97" fill="#E0E0FF"/>
<rect x="100.05" y="852.06" width="20.22" height="7.97" fill="#FFA6A6"/>
<rect x="120.27" y="852.06" width="20.22" height="7.97" fill="#FFA6A6"/>
<rect x="140.49" y="852.06" width="20.22" height="7.97" fill="#FF8C8C"/>
<rect x="160.71" y="852.06" width="20.22" height="7.97" fill="#FFBFBF"/>
<rect x="180.93" y="852.06" width="20.22" height="7.97" fill="#1D1DFF"/>
<rect x="201.15" y="852.06" width="20.22" height="7.97" fill="#CECEFF"/>
<rect x="221.36" y="852.06" width="20.22" height="7.97" fill="#A6A6FF"/>
<rect x="241.58" y="852.06" width="20.22" height="7.97" fill="#7171FF"/>
<rect x="39.4" y="860.03" width="20.22" height="7.97" fill="#FFBFBF"/>
<rect x="59.62" y="860.03" width="20.22" height="7.97" fill="#EDEDFF"/>
<rect x="79.84" y="860.03" width="20.22" height="7.97" fill="#FFD7D7"/>
<rect x="100.05" y="860.03" width="20.22" height="7.97" fill="#FF5656"/>
<rect x="120.27" y="860.03" width="20.22" height="7.97" fill="#FFBFBF"/>
<rect x="140.49" y="860.03" width="20.22" height="7.97" fill="#FFA6A6"/>
<rect x="160.71" y="860.03" width="20.22" height="7.97" fill="#FFBFBF"/>
<rect x="180.93" y="860.03" width="20.22" height="7.97" fill="#3A3AFF"/>
<rect x="201.15" y="860.03" width="20.22" height="7.97" fill="#EDEDFF"/>
<rect x="221.36" y="860.03" width="20.22" height="7.97" fill="#8C8CFF"/>
<rect x="241.58" y="860.03" width="20.22" height="7.97" fill="#3A3AFF"/>
<path d="M39.4 437.7V868M59.62 437.7V868M79.84 437.7V868M100.05 437.7V868M120.27 437.7V868M140.49 437.7V868M160.71 437.7V868M180.93 437.7V868M201.15 437.7V868M221.36 437.7V868M241.58 437.7V868M261.8 437.7V868M39.4 437.7H261.8M39.4 445.67H261.8M39.4 453.64H261.8M39.4 461.61H261.8M39.4 469.57H261.8M39.4 477.54H261.8M39.4 485.51H261.8M39.4 493.48H261.8M39.4 501.45H261.8M39.4 509.42H261.8M39.4 517.39H261.8M39.4 525.35H261.8M39.4 533.32H261.8M39.4 541.29H261.8M39.4 549.26H261.8M39.4 557.23H261.8M39.4 565.2H261.8M39.4 573.16H261.8M39.4 581.13H261.8M39.4 589.1H261.8M39.4 597.07H261.8M39.4 605.04H261.8M39.4 613.01H261.8M39.4 620.98H261.8M39.4 628.94H261.8M39.4 636.91H261.8M39.4 644.88H261.8M39.4 652.85H261.8M39.4 660.82H261.8M39.4 668.79H261.8M39.4 676.76H261.8M39.4 684.72H261.8M39.4 692.69H261.8M39.4 700.66H261.8M39.4 708.63H261.8M39.4 716.6H261.8M39.4 724.57H261.8M39.4 732.54H261.8M39.4 740.5H261.8M39.4 748.47H261.8M39.4 756.44H261.8M39.4 764.41H261.8M39.4 772.38H261.8M39.4 780.35H261.8M39.4 788.31H261.8M39.4 796.28H261.8M39.4 804.25H261.8M39.4 812.22H261.8M39.4 820.19H261.8M39.4 828.16H261.8M39.4 836.13H261.8M39.4 844.09H261.8M39.4 852.06H261.8M39.4 860.03H261.8M39.4 868H261.8" stroke="#A6A6A6" stroke-width="0.55" fill="none"/>
<rect x="39.4" y="429.6" width="20.22" height="6.2" fill="#BEBEBE"/>
<rect x="59.62" y="429.6" width="20.22" height="6.2" fill="#BEBEBE"/>
<rect x="79.84" y="429.6" width="20.22" height="6.2" fill="#000"/>
<rect x="100.05" y="429.6" width="20.22" height="6.2" fill="#BEBEBE"/>
<rect x="120.27" y="429.6" width="20.22" height="6.2" fill="#BEBEBE"/>
<rect x="140.49" y="429.6" width="20.22" height="6.2" fill="#BEBEBE"/>
<rect x="160.71" y="429.6" width="20.22" height="6.2" fill="#BEBEBE"/>
<rect x="180.93" y="429.6" width="20.22" height="6.2" fill="#000"/>
<rect x="201.15" y="429.6" width="20.22" height="6.2" fill="#000"/>
<rect x="221.36" y="429.6" width="20.22" height="6.2" fill="#000"/>
<rect x="241.58" y="429.6" width="20.22" height="6.2" fill="#000"/>
<path d="M39.4 429.6v6.2M59.62 429.6v6.2M79.84 429.6v6.2M100.05 429.6v6.2M120.27 429.6v6.2M140.49 429.6v6.2M160.71 429.6v6.2M180.93 429.6v6.2M201.15 429.6v6.2M221.36 429.6v6.2M241.58 429.6v6.2M261.8 429.6v6.2M39.4 429.6H261.8M39.4 435.8H261.8" stroke="#A6A6A6" stroke-width="0.55" fill="none"/>
<text x="264.2" y="435.2" font-size="6" font-weight="bold">Severity</text>
<text x="264.2" y="443.83" font-size="5.95" fill="#111" class="ns">LGMN</text>
<text x="264.2" y="451.8" font-size="5.95" fill="#111" class="ns">DCP1A</text>
<text x="264.2" y="459.77" font-size="5.95" fill="#111" class="ns">IRF2</text>
<text x="264.2" y="467.74" font-size="5.95" fill="#111" class="ns">PSMB9</text>
<text x="264.2" y="475.71" font-size="5.95" fill="#111" class="ns">NDC80</text>
<text x="264.2" y="483.68" font-size="5.95" fill="#111" class="ns">RPL22</text>
<text x="264.2" y="491.65" font-size="5.95" fill="#111" class="ns">NUP50</text>
<text x="264.2" y="499.61" font-size="5.95" fill="#111" class="ns">PDK1</text>
<text x="264.2" y="507.58" font-size="5.95" fill="#111" class="ns">PMM2</text>
<text x="264.2" y="515.55" font-size="5.95" fill="#111" class="ns">SERPINE1</text>
<text x="264.2" y="523.52" font-size="5.95" fill="#111" class="ns">RBCK1</text>
<text x="264.2" y="531.49" font-size="5.95" fill="#111" class="ns">GK</text>
<text x="264.2" y="539.46" font-size="5.95" fill="#111" class="ns">TRAFD1</text>
<text x="264.2" y="547.42" font-size="5.95" fill="#111" class="ns">RTP4</text>
<text x="264.2" y="555.39" font-size="5.95" fill="#111" class="ns">GBP2</text>
<text x="264.2" y="563.36" font-size="5.95" fill="#111" class="ns">TAGAP</text>
<text x="264.2" y="571.33" font-size="5.95" fill="#111" class="ns">PADI2</text>
<text x="264.2" y="579.3" font-size="5.95" fill="#111" class="ns">IFITM3</text>
<text x="264.2" y="587.27" font-size="5.95" fill="#111" class="ns">IGFBP2</text>
<text x="264.2" y="595.24" font-size="5.95" fill="#111" class="ns">CCR1</text>
<text x="264.2" y="603.2" font-size="5.95" fill="#111" class="ns">IFIT5</text>
<text x="264.2" y="611.17" font-size="5.95" fill="#111" class="ns">LAP3</text>
<text x="264.2" y="619.14" font-size="5.95" fill="#111" class="ns">MYD88</text>
<text x="264.2" y="627.11" font-size="5.95" fill="#111" class="ns">FBXO6</text>
<text x="264.2" y="635.08" font-size="5.95" fill="#111" class="ns">GAK</text>
<text x="264.2" y="643.05" font-size="5.95" fill="#111" class="ns">IRF7</text>
<text x="264.2" y="651.02" font-size="5.95" fill="#111" class="ns">UBE2L6</text>
<text x="264.2" y="658.98" font-size="5.95" fill="#111" class="ns">GCH1</text>
<text x="264.2" y="666.95" font-size="5.95" fill="#111" class="ns">IFIH1</text>
<text x="264.2" y="674.92" font-size="5.95" fill="#111" class="ns">IFIT2</text>
<text x="264.2" y="682.89" font-size="5.95" fill="#111" class="ns">PML</text>
<text x="264.2" y="690.86" font-size="5.95" fill="#111" class="ns">RASSF4</text>
<text x="264.2" y="698.83" font-size="5.95" fill="#111" class="ns">DHX58</text>
<text x="264.2" y="706.8" font-size="5.95" fill="#111" class="ns">SLC15A3</text>
<text x="264.2" y="714.76" font-size="5.95" fill="#111" class="ns">SAMHD1</text>
<text x="264.2" y="722.73" font-size="5.95" fill="#111" class="ns">SP110</text>
<text x="264.2" y="730.7" font-size="5.95" fill="#111" class="ns">USP18</text>
<text x="264.2" y="738.67" font-size="5.95" fill="#111" class="ns">IFIT1</text>
<text x="264.2" y="746.64" font-size="5.95" fill="#111" class="ns">EPSTI1</text>
<text x="264.2" y="754.61" font-size="5.95" fill="#111" class="ns">XAF1</text>
<text x="264.2" y="762.57" font-size="5.95" fill="#111" class="ns">MARCKS</text>
<text x="264.2" y="770.54" font-size="5.95" fill="#111" class="ns">IL1RN</text>
<text x="264.2" y="778.51" font-size="5.95" fill="#111" class="ns">APOBEC3A</text>
<text x="264.2" y="786.48" font-size="5.95" fill="#111" class="ns">NCF1</text>
<text x="264.2" y="794.45" font-size="5.95" fill="#111" class="ns">TNFSF10</text>
<text x="264.2" y="802.42" font-size="5.95" fill="#111" class="ns">JAK2</text>
<text x="264.2" y="810.39" font-size="5.95" fill="#111" class="ns">UNC93B1</text>
<text x="264.2" y="818.35" font-size="5.95" fill="#111" class="ns">BAG1</text>
<text x="264.2" y="826.32" font-size="5.95" fill="#111" class="ns">SERPING1</text>
<text x="264.2" y="834.29" font-size="5.95" fill="#111" class="ns">SCARB2</text>
<text x="264.2" y="842.26" font-size="5.95" fill="#111" class="ns">OASL</text>
<text x="264.2" y="850.23" font-size="5.95" fill="#111" class="ns">DTX3L</text>
<text x="264.2" y="858.2" font-size="5.95" fill="#111" class="ns">GBP4</text>
<text x="264.2" y="866.17" font-size="5.95" fill="#111" class="ns">GCA</text>
<text transform="translate(46.61,870.3) rotate(90)" font-size="8.2" fill="#111">non-SD_4</text>
<text transform="translate(66.83,870.3) rotate(90)" font-size="8.2" fill="#111">non-SD_1</text>
<text transform="translate(87.05,870.3) rotate(90)" font-size="8.2" fill="#111">SD_1</text>
<text transform="translate(107.26,870.3) rotate(90)" font-size="8.2" fill="#111">non-SD_3</text>
<text transform="translate(127.48,870.3) rotate(90)" font-size="8.2" fill="#111">non-SD_5</text>
<text transform="translate(147.7,870.3) rotate(90)" font-size="8.2" fill="#111">non-SD_2</text>
<text transform="translate(167.92,870.3) rotate(90)" font-size="8.2" fill="#111">non-SD_6</text>
<text transform="translate(188.14,870.3) rotate(90)" font-size="8.2" fill="#111">SD_2</text>
<text transform="translate(208.35,870.3) rotate(90)" font-size="8.2" fill="#111">SD_3</text>
<text transform="translate(228.57,870.3) rotate(90)" font-size="8.2" fill="#111">SD_4</text>
<text transform="translate(248.79,870.3) rotate(90)" font-size="8.2" fill="#111">SD_5</text>
<path d="M69.73 429.6V422H89.95V429.6M49.51 429.6V420.3H79.84V422M150.6 429.6V422.5H170.82V429.6M130.38 429.6V421.1H160.71V422.5M110.16 429.6V420.3H145.55V421.1M64.67 420.3V417H127.85V420.3M231.47 429.6V423.8H251.69V429.6M211.25 429.6V421.3H241.58V423.8M191.04 429.6V415H226.42V421.3M96.26 417V398.1H208.73V415" stroke="#444" stroke-width="0.6" fill="none"/>
<path d="M39.4 457.62H34.2V465.59H39.4M39.4 449.65H30.9V461.61H34.2M39.4 473.56H32.8V481.53H39.4M39.4 497.46H33.5V505.43H39.4M39.4 489.5H31.4V501.45H33.5M32.8 477.54H27.2V495.47H31.4M30.9 455.63H25.3V486.51H27.2M39.4 441.68H23V471.07H25.3M39.4 521.37H36.5V529.34H39.4M39.4 513.4H34.15V525.35H36.5M34.15 519.38H31.48V537.31H39.4M39.4 545.27H36.22V553.24H39.4M39.4 561.21H36.4V569.18H39.4M36.22 549.26H35.07V565.2H36.4M39.4 585.12H36.04V593.09H39.4M39.4 577.15H35.19V589.1H36.04M39.4 616.99H36.14V624.96H39.4M39.4 609.02H34.7V620.98H36.14M39.4 601.05H33.87V615H34.7M35.19 583.13H32.73V608.03H33.87M39.4 648.87H37.82V656.83H39.4M39.4 640.9H35.2V652.85H37.82M39.4 632.93H32.92V646.87H35.2M39.4 664.8H36.44V672.77H39.4M39.4 680.74H38.41V688.71H39.4M36.44 668.79H34.48V684.72H38.41M32.92 639.9H31.34V676.76H34.48M39.4 696.68H35.84V704.65H39.4M39.4 712.61H38.6V720.58H39.4M35.84 700.66H33.54V716.6H38.6M39.4 728.55H36.12V736.52H39.4M39.4 752.46H37.79V760.42H39.4M39.4 744.49H35.08V756.44H37.79M36.12 732.54H33.29V750.46H35.08M33.54 708.63H31.2V741.5H33.29M39.4 776.36H38.1V784.33H39.4M39.4 768.39H35.37V780.35H38.1M39.4 792.3H35.86V800.27H39.4M39.4 808.24H36.06V816.2H39.4M35.86 796.28H34.6V812.22H36.06M35.37 774.37H33.2V804.25H34.6M39.4 832.14H35.94V840.11H39.4M39.4 824.17H34.76V836.13H35.94M39.4 856.05H37.67V864.02H39.4M39.4 848.08H35.27V860.03H37.67M34.76 830.15H32.87V854.06H35.27M33.2 789.31H24V842.1H32.87M31.2 725.06H23.5V815.71H24M31.34 658.33H23V770.39H23.5M32.73 595.58H22.6V714.36H23M35.07 557.23H22.2V654.97H22.6M31.48 528.34H21.4V606.1H22.2M23 456.38H8.4V567.22H21.4" stroke="#444" stroke-width="0.6" fill="none"/>
<text transform="translate(11.4,654) rotate(-90)" font-size="6.2" text-anchor="middle" fill="#111">Genes</text>
<text x="296" y="428.1" font-size="6" font-weight="bold">Expression</text>
<text x="296" y="436.2" font-size="6" font-weight="bold">(Z-Score)</text>
<defs><linearGradient id="ge" x1="0" y1="0" x2="0" y2="1"><stop offset="0" stop-color="#FF0000"/><stop offset="0.5" stop-color="#FFFFFF"/><stop offset="1" stop-color="#0000FF"/></linearGradient></defs>
<rect x="295.9" y="437.7" width="6.2" height="88.8" fill="url(#ge)"/>
<text x="304" y="446" font-size="5.8" fill="#111">2</text>
<text x="304" y="465.3" font-size="5.8" fill="#111">1</text>
<text x="304" y="484.3" font-size="5.8" fill="#111">0</text>
<text x="304" y="503.9" font-size="5.8" fill="#111">-1</text>
<text x="304" y="523.2" font-size="5.8" fill="#111">-2</text>
<text x="296" y="537.2" font-size="6" font-weight="bold">Severity</text>
<rect x="296" y="538.8" width="8.7" height="8.5" fill="#BEBEBE"/>
<rect x="296" y="547.3" width="8.7" height="8.5" fill="#000"/>
<text x="306.5" y="545.2" font-size="5.9" fill="#111">non-SD</text>
<text x="306.5" y="553.6" font-size="5.9" fill="#111">SD</text>
<text x="337.6" y="576" font-size="14" font-weight="bold">f</text>
<rect x="435.5" y="579.9" width="207.5" height="305.5" fill="#fff"/>
<line x1="461.1" y1="579.9" x2="461.1" y2="885.4" stroke="#EBEBEB" stroke-width="0.8"/>
<line x1="493.7" y1="579.9" x2="493.7" y2="885.4" stroke="#EBEBEB" stroke-width="0.45"/>
<line x1="526.3" y1="579.9" x2="526.3" y2="885.4" stroke="#EBEBEB" stroke-width="0.8"/>
<line x1="558.9" y1="579.9" x2="558.9" y2="885.4" stroke="#EBEBEB" stroke-width="0.45"/>
<line x1="591.5" y1="579.9" x2="591.5" y2="885.4" stroke="#EBEBEB" stroke-width="0.8"/>
<line x1="624.1" y1="579.9" x2="624.1" y2="885.4" stroke="#EBEBEB" stroke-width="0.45"/>
<line x1="435.5" y1="589.3" x2="643" y2="589.3" stroke="#EBEBEB" stroke-width="0.8"/>
<line x1="435.5" y1="604.4" x2="643" y2="604.4" stroke="#EBEBEB" stroke-width="0.8"/>
<line x1="435.5" y1="619.5" x2="643" y2="619.5" stroke="#EBEBEB" stroke-width="0.8"/>
<line x1="435.5" y1="634.6" x2="643" y2="634.6" stroke="#EBEBEB" stroke-width="0.8"/>
<line x1="435.5" y1="649.7" x2="643" y2="649.7" stroke="#EBEBEB" stroke-width="0.8"/>
<line x1="435.5" y1="664.8" x2="643" y2="664.8" stroke="#EBEBEB" stroke-width="0.8"/>
<line x1="435.5" y1="679.9" x2="643" y2="679.9" stroke="#EBEBEB" stroke-width="0.8"/>
<line x1="435.5" y1="695" x2="643" y2="695" stroke="#EBEBEB" stroke-width="0.8"/>
<line x1="435.5" y1="710.1" x2="643" y2="710.1" stroke="#EBEBEB" stroke-width="0.8"/>
<line x1="435.5" y1="725.2" x2="643" y2="725.2" stroke="#EBEBEB" stroke-width="0.8"/>
<line x1="435.5" y1="740.3" x2="643" y2="740.3" stroke="#EBEBEB" stroke-width="0.8"/>
<line x1="435.5" y1="755.4" x2="643" y2="755.4" stroke="#EBEBEB" stroke-width="0.8"/>
<line x1="435.5" y1="770.5" x2="643" y2="770.5" stroke="#EBEBEB" stroke-width="0.8"/>
<line x1="435.5" y1="785.6" x2="643" y2="785.6" stroke="#EBEBEB" stroke-width="0.8"/>
<line x1="435.5" y1="800.7" x2="643" y2="800.7" stroke="#EBEBEB" stroke-width="0.8"/>
<line x1="435.5" y1="815.8" x2="643" y2="815.8" stroke="#EBEBEB" stroke-width="0.8"/>
<line x1="435.5" y1="830.9" x2="643" y2="830.9" stroke="#EBEBEB" stroke-width="0.8"/>
<line x1="435.5" y1="846" x2="643" y2="846" stroke="#EBEBEB" stroke-width="0.8"/>
<line x1="435.5" y1="861.1" x2="643" y2="861.1" stroke="#EBEBEB" stroke-width="0.8"/>
<line x1="435.5" y1="876.2" x2="643" y2="876.2" stroke="#EBEBEB" stroke-width="0.8"/>
<rect x="435.5" y="579.9" width="207.5" height="305.5" fill="none" stroke="#BDBDBD" stroke-width="0.9"/>
<line x1="433.5" y1="589.3" x2="435.5" y2="589.3" stroke="#333" stroke-width="0.6"/>
<text x="432.9" y="588.2" font-size="6.5" text-anchor="end" fill="#4D4D4D" class="ns">regulation of response to</text>
<text x="432.9" y="594.9" font-size="6.5" text-anchor="end" fill="#4D4D4D" class="ns">external stimulus</text>
<line x1="433.5" y1="604.4" x2="435.5" y2="604.4" stroke="#333" stroke-width="0.6"/>
<text x="432.9" y="606.7" font-size="6.5" text-anchor="end" fill="#4D4D4D" class="ns">innate immune response</text>
<line x1="433.5" y1="619.5" x2="435.5" y2="619.5" stroke="#333" stroke-width="0.6"/>
<text x="432.9" y="621.8" font-size="6.5" text-anchor="end" fill="#4D4D4D" class="ns">cell−cell adhesion</text>
<line x1="433.5" y1="634.6" x2="435.5" y2="634.6" stroke="#333" stroke-width="0.6"/>
<text x="432.9" y="636.9" font-size="6.5" text-anchor="end" fill="#4D4D4D" class="ns">regulation of cell migration</text>
<line x1="433.5" y1="649.7" x2="435.5" y2="649.7" stroke="#333" stroke-width="0.6"/>
<text x="432.9" y="652" font-size="6.5" text-anchor="end" fill="#4D4D4D" class="ns">regulation of cell adhesion</text>
<line x1="433.5" y1="664.8" x2="435.5" y2="664.8" stroke="#333" stroke-width="0.6"/>
<text x="432.9" y="667.1" font-size="6.5" text-anchor="end" fill="#4D4D4D" class="ns">response to wounding</text>
<line x1="433.5" y1="679.9" x2="435.5" y2="679.9" stroke="#333" stroke-width="0.6"/>
<text x="432.9" y="682.2" font-size="6.5" text-anchor="end" fill="#4D4D4D" class="ns">wound healing</text>
<line x1="433.5" y1="695" x2="435.5" y2="695" stroke="#333" stroke-width="0.6"/>
<text x="432.9" y="697.3" font-size="6.5" text-anchor="end" fill="#4D4D4D" class="ns">cell−substrate adhesion</text>
<line x1="433.5" y1="710.1" x2="435.5" y2="710.1" stroke="#333" stroke-width="0.6"/>
<text x="432.9" y="712.4" font-size="6.5" text-anchor="end" fill="#4D4D4D" class="ns">blood coagulation</text>
<line x1="433.5" y1="725.2" x2="435.5" y2="725.2" stroke="#333" stroke-width="0.6"/>
<text x="432.9" y="727.5" font-size="6.5" text-anchor="end" fill="#4D4D4D" class="ns">coagulation</text>
<line x1="433.5" y1="740.3" x2="435.5" y2="740.3" stroke="#333" stroke-width="0.6"/>
<text x="432.9" y="742.6" font-size="6.5" text-anchor="end" fill="#4D4D4D" class="ns">hemostasis</text>
<line x1="433.5" y1="755.4" x2="435.5" y2="755.4" stroke="#333" stroke-width="0.6"/>
<text x="432.9" y="757.7" font-size="6.5" text-anchor="end" fill="#4D4D4D" class="ns">skin development</text>
<line x1="433.5" y1="770.5" x2="435.5" y2="770.5" stroke="#333" stroke-width="0.6"/>
<text x="432.9" y="769.4" font-size="6.5" text-anchor="end" fill="#4D4D4D" class="ns">regulation of leukocyte</text>
<text x="432.9" y="776.1" font-size="6.5" text-anchor="end" fill="#4D4D4D" class="ns">migration</text>
<line x1="433.5" y1="785.6" x2="435.5" y2="785.6" stroke="#333" stroke-width="0.6"/>
<text x="432.9" y="787.9" font-size="6.5" text-anchor="end" fill="#4D4D4D" class="ns">platelet activation</text>
<line x1="433.5" y1="800.7" x2="435.5" y2="800.7" stroke="#333" stroke-width="0.6"/>
<text x="432.9" y="803" font-size="6.5" text-anchor="end" fill="#4D4D4D" class="ns">keratinocyte differentiation</text>
<line x1="433.5" y1="815.8" x2="435.5" y2="815.8" stroke="#333" stroke-width="0.6"/>
<text x="432.9" y="814.7" font-size="6.5" text-anchor="end" fill="#4D4D4D" class="ns">intermediate filament</text>
<text x="432.9" y="821.4" font-size="6.5" text-anchor="end" fill="#4D4D4D" class="ns">organization</text>
<line x1="433.5" y1="830.9" x2="435.5" y2="830.9" stroke="#333" stroke-width="0.6"/>
<text x="432.9" y="829.8" font-size="6.5" text-anchor="end" fill="#4D4D4D" class="ns">intermediate filament−based</text>
<text x="432.9" y="836.5" font-size="6.5" text-anchor="end" fill="#4D4D4D" class="ns">process</text>
<line x1="433.5" y1="846" x2="435.5" y2="846" stroke="#333" stroke-width="0.6"/>
<text x="432.9" y="844.9" font-size="6.5" text-anchor="end" fill="#4D4D4D" class="ns">intermediate filament</text>
<text x="432.9" y="851.6" font-size="6.5" text-anchor="end" fill="#4D4D4D" class="ns">cytoskeleton organization</text>
<line x1="433.5" y1="861.1" x2="435.5" y2="861.1" stroke="#333" stroke-width="0.6"/>
<text x="432.9" y="860" font-size="6.5" text-anchor="end" fill="#4D4D4D" class="ns">regulation of platelet</text>
<text x="432.9" y="866.7" font-size="6.5" text-anchor="end" fill="#4D4D4D" class="ns">activation</text>
<line x1="433.5" y1="876.2" x2="435.5" y2="876.2" stroke="#333" stroke-width="0.6"/>
<text x="432.9" y="878.5" font-size="6.5" text-anchor="end" fill="#4D4D4D" class="ns">keratinization</text>
<line x1="461.1" y1="885.4" x2="461.1" y2="887.2" stroke="#333" stroke-width="0.6"/>
<text x="461.1" y="893.4" font-size="6.9" text-anchor="middle" fill="#4D4D4D" class="ns">0.05</text>
<line x1="526.3" y1="885.4" x2="526.3" y2="887.2" stroke="#333" stroke-width="0.6"/>
<text x="526.3" y="893.4" font-size="6.9" text-anchor="middle" fill="#4D4D4D" class="ns">0.10</text>
<line x1="591.5" y1="885.4" x2="591.5" y2="887.2" stroke="#333" stroke-width="0.6"/>
<text x="591.5" y="893.4" font-size="6.9" text-anchor="middle" fill="#4D4D4D" class="ns">0.15</text>
<text x="538.8" y="901.8" font-size="6.9" text-anchor="middle" fill="#4D4D4D" class="ns">GeneRatio</text>
<circle cx="634.1" cy="589.3" r="5.5" fill="#B66273" stroke="#333" stroke-width="0.6"/>
<circle cx="629" cy="604.4" r="5.5" fill="#726F9A" stroke="#333" stroke-width="0.6"/>
<circle cx="590.1" cy="619.5" r="5" fill="#D85C5F" stroke="#333" stroke-width="0.6"/>
<circle cx="590.1" cy="634.6" r="5" fill="#996884" stroke="#333" stroke-width="0.6"/>
<circle cx="584.9" cy="649.7" r="5" fill="#7A6E95" stroke="#333" stroke-width="0.6"/>
<circle cx="561.1" cy="664.8" r="4.6" fill="#DD5B5C" stroke="#333" stroke-width="0.6"/>
<circle cx="541.4" cy="679.9" r="4.6" fill="#DD5B5C" stroke="#333" stroke-width="0.6"/>
<circle cx="517.6" cy="695" r="4.1" fill="#D85C5F" stroke="#333" stroke-width="0.6"/>
<circle cx="512.4" cy="710.1" r="4" fill="#D85C5F" stroke="#333" stroke-width="0.6"/>
<circle cx="512.4" cy="725.2" r="4" fill="#D85C5F" stroke="#333" stroke-width="0.6"/>
<circle cx="512.4" cy="740.3" r="4.3" fill="#DD5B5C" stroke="#333" stroke-width="0.6"/>
<circle cx="488.5" cy="755.4" r="4" fill="#AD6478" stroke="#333" stroke-width="0.6"/>
<circle cx="488.5" cy="770.5" r="4" fill="#946987" stroke="#333" stroke-width="0.6"/>
<circle cx="483.4" cy="785.6" r="4" fill="#AD6478" stroke="#333" stroke-width="0.6"/>
<circle cx="468.9" cy="800.7" r="3.5" fill="#D85C5F" stroke="#333" stroke-width="0.6"/>
<circle cx="459.5" cy="815.8" r="3.3" fill="#D85C5F" stroke="#333" stroke-width="0.6"/>
<circle cx="459.5" cy="830.9" r="3.3" fill="#D85C5F" stroke="#333" stroke-width="0.6"/>
<circle cx="459.5" cy="846" r="3.3" fill="#D85C5F" stroke="#333" stroke-width="0.6"/>
<circle cx="449.7" cy="861.1" r="3.2" fill="#367BBD" stroke="#333" stroke-width="0.6"/>
<circle cx="445" cy="876.2" r="2.5" fill="#D85C5F" stroke="#333" stroke-width="0.6"/>
<text x="653.1" y="675.2" font-size="6.4" fill="#4D4D4D" class="ns">p.adjust</text>
<rect x="653.1" y="678.8" width="10.3" height="50.9" fill="url(#gf)"/>
<line x1="653.1" y1="693.6" x2="655.2" y2="693.6" stroke="#fff" stroke-width="0.5"/>
<line x1="661.3" y1="693.6" x2="663.4" y2="693.6" stroke="#fff" stroke-width="0.5"/>
<text x="666.5" y="695.5" font-size="5.2" fill="#4D4D4D" class="ns">2e−05</text>
<line x1="653.1" y1="708.2" x2="655.2" y2="708.2" stroke="#fff" stroke-width="0.5"/>
<line x1="661.3" y1="708.2" x2="663.4" y2="708.2" stroke="#fff" stroke-width="0.5"/>
<text x="666.5" y="710.1" font-size="5.2" fill="#4D4D4D" class="ns">4e−05</text>
<line x1="653.1" y1="722.9" x2="655.2" y2="722.9" stroke="#fff" stroke-width="0.5"/>
<line x1="661.3" y1="722.9" x2="663.4" y2="722.9" stroke="#fff" stroke-width="0.5"/>
<text x="666.5" y="724.8" font-size="5.2" fill="#4D4D4D" class="ns">6e−05</text>
<text x="653.1" y="747.7" font-size="6.4" fill="#4D4D4D" class="ns">Count</text>
<circle cx="659" cy="756.8" r="1.9" fill="none" stroke="#111" stroke-width="0.6"/>
<text x="668.5" y="758.7" font-size="5.2" fill="#4D4D4D" class="ns">10</text>
<circle cx="659" cy="766.8" r="4" fill="none" stroke="#111" stroke-width="0.6"/>
<text x="668.5" y="768.7" font-size="5.2" fill="#4D4D4D" class="ns">20</text>
<circle cx="659" cy="777.6" r="4.7" fill="none" stroke="#111" stroke-width="0.6"/>
<text x="668.5" y="779.5" font-size="5.2" fill="#4D4D4D" class="ns">30</text>
<circle cx="659" cy="789.1" r="5.2" fill="none" stroke="#111" stroke-width="0.6"/>
<text x="668.5" y="791" font-size="5.2" fill="#4D4D4D" class="ns">40</text>
</svg></body></html>
